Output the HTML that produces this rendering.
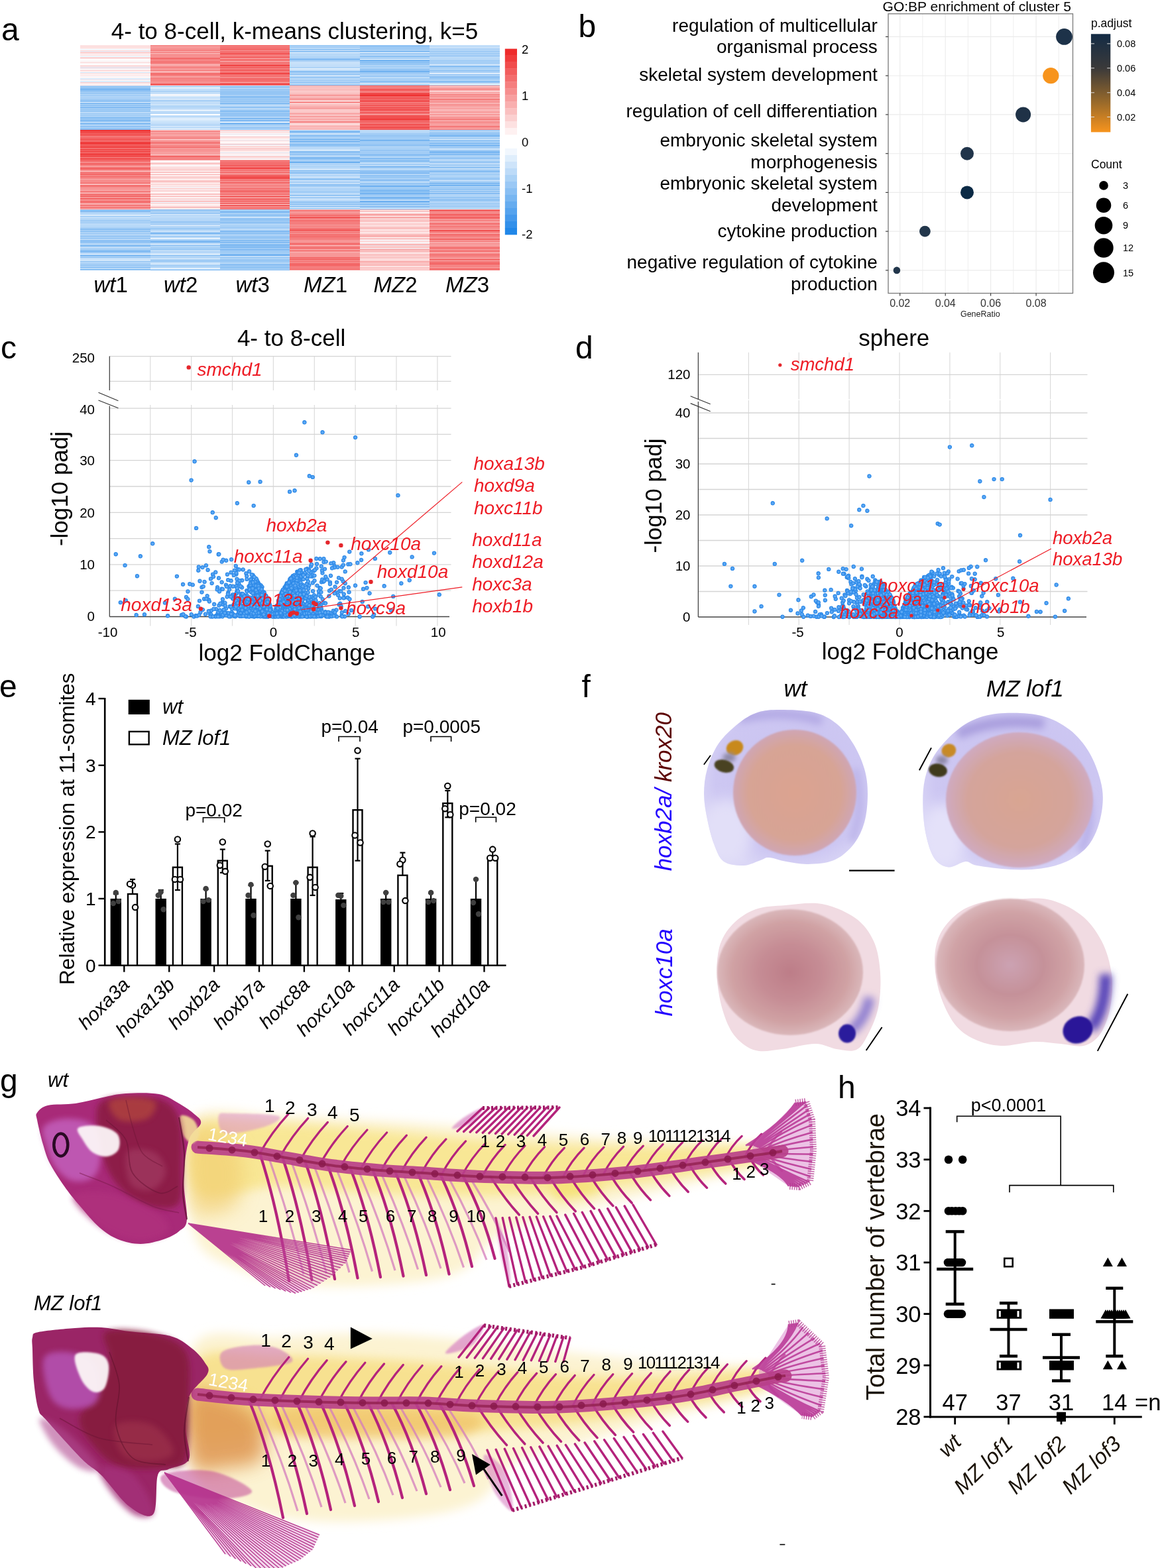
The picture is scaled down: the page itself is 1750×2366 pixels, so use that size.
<!DOCTYPE html>
<html><head><meta charset="utf-8"><title>Figure</title>
<style>html,body{margin:0;padding:0;background:#fff;} svg{display:block} text{font-family:'Liberation Sans',Arial,sans-serif} .hm rect{width:105.73px;height:1.3px}</style></head>
<body><svg width="1750" height="2366" viewBox="0 0 1750 2366">
<rect width="1750" height="2366" fill="#fff"/>
<text x="2.0" y="60.5" style="font-size:48px">a</text>
<text x="872.5" y="56.0" style="font-size:48px">b</text>
<text x="1.0" y="540.5" style="font-size:48px">c</text>
<text x="868.0" y="541.0" style="font-size:48px">d</text>
<text x="-1.0" y="1052.0" style="font-size:48px">e</text>
<text x="877.5" y="1052.0" style="font-size:48px">f</text>
<text x="0.0" y="1647.0" style="font-size:48px">g</text>
<text x="1264.0" y="1657.0" style="font-size:48px">h</text>
<g shape-rendering="crispEdges">
<g class="hm" transform="translate(121.20 0)"><rect y="67.5" fill="#fdebeb"/><rect y="68.5" fill="#fcd6d6"/><rect y="69.5" fill="#fde2e2"/><rect y="70.5" fill="#fde9e9"/><rect y="71.5" fill="#fbd1d1"/><rect y="72.5" fill="#fffcfc"/><rect y="73.5" fill="#ebf4fd"/><rect y="74.5" fill="#fef3f3"/><rect y="75.5" fill="#fcd9d9"/><rect y="76.5" fill="#e1effc"/><rect y="77.5" fill="#fcd4d4"/><rect y="78.5" fill="#fbcece"/><rect y="79.5" fill="#fde1e1"/><rect y="80.5" fill="#fde9e9"/><rect y="81.5" fill="#fef1f1"/><rect y="82.5" fill="#fde1e1"/><rect y="83.5" fill="#f4f9fe"/><rect y="84.5" fill="#e6f1fc"/><rect y="85.5" fill="#fde5e5"/><rect y="86.5" fill="#fabdbd"/><rect y="87.5" fill="#feefef"/><rect y="88.5" fill="#fffbfb"/><rect y="89.5" fill="#fffefe"/><rect y="90.5" fill="#f9fcfe"/><rect y="91.5" fill="#fdeaea"/><rect y="92.5" fill="#fafdff"/><rect y="93.5" fill="#fbd1d1"/><rect y="94.5" fill="#fef5f5"/><rect y="95.5" fill="#fbfdff"/><rect y="96.5" fill="#fefeff"/><rect y="97.5" fill="#fdecec"/><rect y="98.5" fill="#fbcccc"/><rect y="99.5" fill="#fde6e6"/><rect y="100.5" fill="#d7e9fb"/><rect y="101.5" fill="#fcd4d4"/><rect y="102.5" fill="#e8f2fd"/><rect y="103.5" fill="#fef7f7"/><rect y="104.5" fill="#fdecec"/><rect y="105.5" fill="#fcd5d5"/><rect y="106.5" fill="#fde7e7"/><rect y="107.5" fill="#fffbfb"/><rect y="108.5" fill="#cfe5fa"/><rect y="109.5" fill="#fde4e4"/><rect y="110.5" fill="#fdeaea"/><rect y="111.5" fill="#fef0f0"/><rect y="112.5" fill="#feeeee"/><rect y="113.5" fill="#fde6e6"/><rect y="114.5" fill="#f7fafe"/><rect y="115.5" fill="#fef5f5"/><rect y="116.5" fill="#fef6f6"/><rect y="117.5" fill="#d9eafb"/><rect y="118.5" fill="#d8eafb"/><rect y="119.5" fill="#fde5e5"/><rect y="120.5" fill="#f0f7fd"/><rect y="121.5" fill="#e9f3fd"/><rect y="122.5" fill="#cee5fa"/><rect y="123.5" fill="#fcdcdc"/><rect y="124.5" fill="#fbcfcf"/><rect y="125.5" fill="#fdfeff"/><rect y="126.5" fill="#feeeee"/><rect y="127.5" fill="#fde4e4"/><rect y="128.5" fill="#bcdbf8"/><rect y="129.5" fill="#a7d0f6"/><rect y="130.5" fill="#6eb0f0"/><rect y="131.5" fill="#bfdcf8"/><rect y="132.5" fill="#77b5f1"/><rect y="133.5" fill="#6fb1f0"/><rect y="134.5" fill="#89bff3"/><rect y="135.5" fill="#79b6f1"/><rect y="136.5" fill="#a1ccf5"/><rect y="137.5" fill="#8dc1f3"/><rect y="138.5" fill="#a1ccf5"/><rect y="139.5" fill="#abd1f6"/><rect y="140.5" fill="#8cc1f3"/><rect y="141.5" fill="#acd2f6"/><rect y="142.5" fill="#c1def9"/><rect y="143.5" fill="#86bdf3"/><rect y="144.5" fill="#b7d8f8"/><rect y="145.5" fill="#bbdaf8"/><rect y="146.5" fill="#a1ccf5"/><rect y="147.5" fill="#a5cef6"/><rect y="148.5" fill="#b9d9f8"/><rect y="149.5" fill="#8ec2f3"/><rect y="150.5" fill="#93c4f4"/><rect y="151.5" fill="#9ac8f5"/><rect y="152.5" fill="#8dc1f3"/><rect y="153.5" fill="#d5e8fb"/><rect y="154.5" fill="#a0cbf5"/><rect y="155.5" fill="#6aaef0"/><rect y="156.5" fill="#b5d7f7"/><rect y="157.5" fill="#93c4f4"/><rect y="158.5" fill="#96c6f4"/><rect y="159.5" fill="#99c8f5"/><rect y="160.5" fill="#a3cdf6"/><rect y="161.5" fill="#6aaef0"/><rect y="162.5" fill="#abd1f6"/><rect y="163.5" fill="#a4cef6"/><rect y="164.5" fill="#90c3f4"/><rect y="165.5" fill="#add3f7"/><rect y="166.5" fill="#89bff3"/><rect y="167.5" fill="#a8d0f6"/><rect y="168.5" fill="#aed3f7"/><rect y="169.5" fill="#cbe3fa"/><rect y="170.5" fill="#8cc1f3"/><rect y="171.5" fill="#afd4f7"/><rect y="172.5" fill="#acd2f6"/><rect y="173.5" fill="#a1ccf5"/><rect y="174.5" fill="#a8d0f6"/><rect y="175.5" fill="#b1d5f7"/><rect y="176.5" fill="#71b2f1"/><rect y="177.5" fill="#9ac8f5"/><rect y="178.5" fill="#92c4f4"/><rect y="179.5" fill="#99c8f5"/><rect y="180.5" fill="#83bcf2"/><rect y="181.5" fill="#7bb7f1"/><rect y="182.5" fill="#a7cff6"/><rect y="183.5" fill="#b1d5f7"/><rect y="184.5" fill="#b7d8f8"/><rect y="185.5" fill="#72b2f1"/><rect y="186.5" fill="#7ab7f1"/><rect y="187.5" fill="#d4e8fb"/><rect y="188.5" fill="#a6cff6"/><rect y="189.5" fill="#7cb8f2"/><rect y="190.5" fill="#acd2f7"/><rect y="191.5" fill="#9cc9f5"/><rect y="192.5" fill="#a0cbf5"/><rect y="193.5" fill="#88bef3"/><rect y="194.5" fill="#83bcf2"/><rect y="195.5" fill="#9bc9f5"/><rect y="196.2" fill="#ee2828"/><rect y="197.2" fill="#f04040"/><rect y="198.2" fill="#f03e3e"/><rect y="199.2" fill="#f15454"/><rect y="200.2" fill="#f03f3f"/><rect y="201.2" fill="#f36161"/><rect y="202.2" fill="#f26161"/><rect y="203.2" fill="#f04444"/><rect y="204.2" fill="#f25c5c"/><rect y="205.2" fill="#f57c7c"/><rect y="206.2" fill="#f36d6d"/><rect y="207.2" fill="#f58585"/><rect y="208.2" fill="#f03e3e"/><rect y="209.2" fill="#f68989"/><rect y="210.2" fill="#ef2f2f"/><rect y="211.2" fill="#f57b7b"/><rect y="212.2" fill="#f25858"/><rect y="213.2" fill="#f57b7b"/><rect y="214.2" fill="#f03e3e"/><rect y="215.2" fill="#f03f3f"/><rect y="216.2" fill="#ef3030"/><rect y="217.2" fill="#f14f4f"/><rect y="218.2" fill="#f25a5a"/><rect y="219.2" fill="#f25d5d"/><rect y="220.2" fill="#f25454"/><rect y="221.2" fill="#f04646"/><rect y="222.2" fill="#f04343"/><rect y="223.2" fill="#f36c6c"/><rect y="224.2" fill="#f47272"/><rect y="225.2" fill="#f04747"/><rect y="226.2" fill="#f15050"/><rect y="227.2" fill="#f36868"/><rect y="228.2" fill="#f04444"/><rect y="229.2" fill="#f15252"/><rect y="230.2" fill="#f47a7a"/><rect y="231.2" fill="#f03e3e"/><rect y="232.2" fill="#f25656"/><rect y="233.2" fill="#ee2828"/><rect y="234.2" fill="#f36868"/><rect y="235.2" fill="#ef3939"/><rect y="236.2" fill="#f15353"/><rect y="237.2" fill="#f68989"/><rect y="238.2" fill="#f14b4b"/><rect y="239.2" fill="#f25757"/><rect y="240.2" fill="#f25d5d"/><rect y="241.2" fill="#f15252"/><rect y="241.5" fill="#f47373"/><rect y="242.5" fill="#f47171"/><rect y="243.5" fill="#f57b7b"/><rect y="244.5" fill="#f79898"/><rect y="245.5" fill="#f36868"/><rect y="246.5" fill="#f25b5b"/><rect y="247.5" fill="#f47474"/><rect y="248.5" fill="#f68787"/><rect y="249.5" fill="#f68787"/><rect y="250.5" fill="#f9b0b0"/><rect y="251.5" fill="#f36c6c"/><rect y="252.5" fill="#f47474"/><rect y="253.5" fill="#f25656"/><rect y="254.5" fill="#f47171"/><rect y="255.5" fill="#f58383"/><rect y="256.5" fill="#f8a1a1"/><rect y="257.5" fill="#f9aeae"/><rect y="258.5" fill="#f8a5a5"/><rect y="259.5" fill="#f25e5e"/><rect y="260.5" fill="#f58484"/><rect y="261.5" fill="#f46e6e"/><rect y="262.5" fill="#f25454"/><rect y="263.5" fill="#f8aaaa"/><rect y="264.5" fill="#f25c5c"/><rect y="265.5" fill="#f58484"/><rect y="266.5" fill="#f57b7b"/><rect y="267.5" fill="#f47979"/><rect y="268.5" fill="#f68e8e"/><rect y="269.5" fill="#f8acac"/><rect y="270.5" fill="#f68c8c"/><rect y="271.5" fill="#f58686"/><rect y="272.5" fill="#f79d9d"/><rect y="273.5" fill="#f47474"/><rect y="274.5" fill="#f79898"/><rect y="275.5" fill="#f25b5b"/><rect y="276.5" fill="#fabcbc"/><rect y="277.5" fill="#f9b5b5"/><rect y="278.5" fill="#f68787"/><rect y="279.5" fill="#f25c5c"/><rect y="280.5" fill="#f57b7b"/><rect y="281.5" fill="#f79797"/><rect y="282.5" fill="#f58484"/><rect y="283.5" fill="#f8a1a1"/><rect y="284.5" fill="#f69090"/><rect y="285.5" fill="#f79c9c"/><rect y="286.5" fill="#f9b1b1"/><rect y="287.5" fill="#f47171"/><rect y="288.5" fill="#f58686"/><rect y="289.5" fill="#f79999"/><rect y="290.5" fill="#f9b3b3"/><rect y="291.5" fill="#f68f8f"/><rect y="292.5" fill="#f36969"/><rect y="293.5" fill="#f47373"/><rect y="294.5" fill="#f58383"/><rect y="295.5" fill="#f25656"/><rect y="296.5" fill="#f79797"/><rect y="297.5" fill="#f79d9d"/><rect y="298.5" fill="#f04747"/><rect y="299.5" fill="#f79696"/><rect y="300.5" fill="#f47878"/><rect y="301.5" fill="#f58686"/><rect y="302.5" fill="#f79595"/><rect y="303.5" fill="#f14848"/><rect y="304.5" fill="#f47878"/><rect y="305.5" fill="#f79f9f"/><rect y="306.5" fill="#f8a6a6"/><rect y="307.5" fill="#f8a3a3"/><rect y="308.5" fill="#f58282"/><rect y="309.5" fill="#f36767"/><rect y="310.5" fill="#f9b4b4"/><rect y="311.5" fill="#f36c6c"/><rect y="312.5" fill="#f57b7b"/><rect y="313.5" fill="#f79d9d"/><rect y="314.5" fill="#f68e8e"/><rect y="315.5" fill="#f47171"/><rect y="315.8" fill="#b1d5f7"/><rect y="316.8" fill="#92c4f4"/><rect y="317.8" fill="#64abef"/><rect y="318.8" fill="#a1ccf5"/><rect y="319.8" fill="#a5cef6"/><rect y="320.8" fill="#add3f7"/><rect y="321.8" fill="#c0ddf9"/><rect y="322.8" fill="#afd3f7"/><rect y="323.8" fill="#e7f2fd"/><rect y="324.8" fill="#cee4fa"/><rect y="325.8" fill="#9ac8f5"/><rect y="326.8" fill="#bcdbf8"/><rect y="327.8" fill="#cae2fa"/><rect y="328.8" fill="#abd1f6"/><rect y="329.8" fill="#c7e1f9"/><rect y="330.8" fill="#a3cdf6"/><rect y="331.8" fill="#abd1f6"/><rect y="332.8" fill="#98c7f4"/><rect y="333.8" fill="#b3d6f7"/><rect y="334.8" fill="#a8d0f6"/><rect y="335.8" fill="#a0cbf5"/><rect y="336.8" fill="#c1ddf9"/><rect y="337.8" fill="#aed3f7"/><rect y="338.8" fill="#cbe3fa"/><rect y="339.8" fill="#b4d7f7"/><rect y="340.8" fill="#a3cdf6"/><rect y="341.8" fill="#d6e9fb"/><rect y="342.8" fill="#90c3f4"/><rect y="343.8" fill="#b3d6f7"/><rect y="344.8" fill="#84bcf2"/><rect y="345.8" fill="#84bcf2"/><rect y="346.8" fill="#c0ddf9"/><rect y="347.8" fill="#7fbaf2"/><rect y="348.8" fill="#a1ccf5"/><rect y="349.8" fill="#a6cff6"/><rect y="350.8" fill="#b4d6f7"/><rect y="351.8" fill="#92c4f4"/><rect y="352.8" fill="#bbdaf8"/><rect y="353.8" fill="#b0d4f7"/><rect y="354.8" fill="#a7cff6"/><rect y="355.8" fill="#96c6f4"/><rect y="356.8" fill="#98c7f4"/><rect y="357.8" fill="#b2d5f7"/><rect y="358.8" fill="#94c5f4"/><rect y="359.8" fill="#a0cbf5"/><rect y="360.8" fill="#d6e9fb"/><rect y="361.8" fill="#75b4f1"/><rect y="362.8" fill="#a2cdf6"/><rect y="363.8" fill="#8ac0f3"/><rect y="364.8" fill="#7bb8f2"/><rect y="365.8" fill="#b0d4f7"/><rect y="366.8" fill="#b1d5f7"/><rect y="367.8" fill="#a9d0f6"/><rect y="368.8" fill="#bedcf8"/><rect y="369.8" fill="#65abef"/><rect y="370.8" fill="#93c5f4"/><rect y="371.8" fill="#add3f7"/><rect y="372.8" fill="#c7e0f9"/><rect y="373.8" fill="#bcdbf8"/><rect y="374.8" fill="#98c7f4"/><rect y="375.8" fill="#bbdaf8"/><rect y="376.8" fill="#81bbf2"/><rect y="377.8" fill="#97c7f4"/><rect y="378.8" fill="#69aef0"/><rect y="379.8" fill="#9ecaf5"/><rect y="380.8" fill="#9dcaf5"/><rect y="381.8" fill="#bfdcf8"/><rect y="382.8" fill="#deedfc"/><rect y="383.8" fill="#b0d4f7"/><rect y="384.8" fill="#6caff0"/><rect y="385.8" fill="#96c6f4"/><rect y="386.8" fill="#a7cff6"/><rect y="387.8" fill="#97c6f4"/><rect y="388.8" fill="#b8d9f8"/><rect y="389.8" fill="#d5e8fb"/><rect y="390.8" fill="#b7d8f8"/><rect y="391.8" fill="#ecf5fd"/><rect y="392.8" fill="#b9d9f8"/><rect y="393.8" fill="#a5cef6"/><rect y="394.8" fill="#a3cdf6"/><rect y="395.8" fill="#c1def9"/><rect y="396.8" fill="#a7cff6"/><rect y="397.8" fill="#a5cef6"/><rect y="398.8" fill="#a1ccf5"/><rect y="399.8" fill="#9dcaf5"/><rect y="400.8" fill="#9bc9f5"/><rect y="401.8" fill="#b9d9f8"/><rect y="402.8" fill="#7cb8f2"/><rect y="403.8" fill="#afd4f7"/><rect y="404.8" fill="#c6e0f9"/><rect y="405.8" fill="#7ab7f1"/><rect y="406.8" fill="#9dcaf5"/></g>
<g class="hm" transform="translate(226.53 0)"><rect y="67.5" fill="#f69191"/><rect y="68.5" fill="#f57d7d"/><rect y="69.5" fill="#f8aaaa"/><rect y="70.5" fill="#f79999"/><rect y="71.5" fill="#f69090"/><rect y="72.5" fill="#f79c9c"/><rect y="73.5" fill="#f58282"/><rect y="74.5" fill="#f79595"/><rect y="75.5" fill="#f47373"/><rect y="76.5" fill="#f8a6a6"/><rect y="77.5" fill="#f8a3a3"/><rect y="78.5" fill="#f47878"/><rect y="79.5" fill="#f8a7a7"/><rect y="80.5" fill="#fabcbc"/><rect y="81.5" fill="#f47a7a"/><rect y="82.5" fill="#f68d8d"/><rect y="83.5" fill="#f79e9e"/><rect y="84.5" fill="#f68a8a"/><rect y="85.5" fill="#f68b8b"/><rect y="86.5" fill="#f47a7a"/><rect y="87.5" fill="#f36262"/><rect y="88.5" fill="#f47676"/><rect y="89.5" fill="#f79595"/><rect y="90.5" fill="#f58181"/><rect y="91.5" fill="#f47373"/><rect y="92.5" fill="#f58080"/><rect y="93.5" fill="#f47171"/><rect y="94.5" fill="#f57c7c"/><rect y="95.5" fill="#f79999"/><rect y="96.5" fill="#f9b0b0"/><rect y="97.5" fill="#f8abab"/><rect y="98.5" fill="#f79c9c"/><rect y="99.5" fill="#f69090"/><rect y="100.5" fill="#f57a7a"/><rect y="101.5" fill="#f68989"/><rect y="102.5" fill="#f79797"/><rect y="103.5" fill="#f79999"/><rect y="104.5" fill="#f79a9a"/><rect y="105.5" fill="#f57c7c"/><rect y="106.5" fill="#f79e9e"/><rect y="107.5" fill="#fbd0d0"/><rect y="108.5" fill="#f8a1a1"/><rect y="109.5" fill="#f26161"/><rect y="110.5" fill="#f58383"/><rect y="111.5" fill="#f36868"/><rect y="112.5" fill="#f47676"/><rect y="113.5" fill="#f69191"/><rect y="114.5" fill="#f79f9f"/><rect y="115.5" fill="#f79a9a"/><rect y="116.5" fill="#f68d8d"/><rect y="117.5" fill="#f47070"/><rect y="118.5" fill="#f79797"/><rect y="119.5" fill="#f47474"/><rect y="120.5" fill="#f69393"/><rect y="121.5" fill="#f58181"/><rect y="122.5" fill="#f79494"/><rect y="123.5" fill="#f79f9f"/><rect y="124.5" fill="#f47676"/><rect y="125.5" fill="#f57f7f"/><rect y="126.5" fill="#f04141"/><rect y="127.5" fill="#f47676"/><rect y="128.5" fill="#d7e9fb"/><rect y="129.5" fill="#aad1f6"/><rect y="130.5" fill="#badaf8"/><rect y="131.5" fill="#fbfdff"/><rect y="132.5" fill="#d3e7fa"/><rect y="133.5" fill="#c0ddf9"/><rect y="134.5" fill="#cbe3fa"/><rect y="135.5" fill="#afd4f7"/><rect y="136.5" fill="#c6e0f9"/><rect y="137.5" fill="#95c5f4"/><rect y="138.5" fill="#d2e7fa"/><rect y="139.5" fill="#bfdcf8"/><rect y="140.5" fill="#c8e1f9"/><rect y="141.5" fill="#f2f8fe"/><rect y="142.5" fill="#fef8f8"/><rect y="143.5" fill="#ebf4fd"/><rect y="144.5" fill="#c8e1f9"/><rect y="145.5" fill="#e6f2fc"/><rect y="146.5" fill="#b2d5f7"/><rect y="147.5" fill="#bddbf8"/><rect y="148.5" fill="#fafcfe"/><rect y="149.5" fill="#b4d7f7"/><rect y="150.5" fill="#a8d0f6"/><rect y="151.5" fill="#b7d8f8"/><rect y="152.5" fill="#b4d7f7"/><rect y="153.5" fill="#bedcf8"/><rect y="154.5" fill="#d4e8fb"/><rect y="155.5" fill="#aed3f7"/><rect y="156.5" fill="#d7eafb"/><rect y="157.5" fill="#cbe3fa"/><rect y="158.5" fill="#bcdbf8"/><rect y="159.5" fill="#9bc9f5"/><rect y="160.5" fill="#cfe5fa"/><rect y="161.5" fill="#9bc9f5"/><rect y="162.5" fill="#d5e8fb"/><rect y="163.5" fill="#abd1f6"/><rect y="164.5" fill="#e0eefc"/><rect y="165.5" fill="#eef6fd"/><rect y="166.5" fill="#d1e6fa"/><rect y="167.5" fill="#b9d9f8"/><rect y="168.5" fill="#c3def9"/><rect y="169.5" fill="#aed3f7"/><rect y="170.5" fill="#bfdcf8"/><rect y="171.5" fill="#fdfeff"/><rect y="172.5" fill="#f8fbfe"/><rect y="173.5" fill="#c0ddf9"/><rect y="174.5" fill="#c2def9"/><rect y="175.5" fill="#afd4f7"/><rect y="176.5" fill="#ddedfc"/><rect y="177.5" fill="#d0e5fa"/><rect y="178.5" fill="#eaf3fd"/><rect y="179.5" fill="#ddedfc"/><rect y="180.5" fill="#cbe3fa"/><rect y="181.5" fill="#e1effc"/><rect y="182.5" fill="#c9e2f9"/><rect y="183.5" fill="#b8d9f8"/><rect y="184.5" fill="#deedfc"/><rect y="185.5" fill="#b8d8f8"/><rect y="186.5" fill="#b4d6f7"/><rect y="187.5" fill="#c4dff9"/><rect y="188.5" fill="#a5cef6"/><rect y="189.5" fill="#ebf4fd"/><rect y="190.5" fill="#badaf8"/><rect y="191.5" fill="#b1d5f7"/><rect y="192.5" fill="#f0f7fd"/><rect y="193.5" fill="#bddbf8"/><rect y="194.5" fill="#ddecfc"/><rect y="195.5" fill="#a8d0f6"/><rect y="196.2" fill="#fac0c0"/><rect y="197.2" fill="#f79999"/><rect y="198.2" fill="#f68989"/><rect y="199.2" fill="#f68d8d"/><rect y="200.2" fill="#fabfbf"/><rect y="201.2" fill="#f57d7d"/><rect y="202.2" fill="#f8a5a5"/><rect y="203.2" fill="#f8a3a3"/><rect y="204.2" fill="#f8a2a2"/><rect y="205.2" fill="#f8a9a9"/><rect y="206.2" fill="#f57d7d"/><rect y="207.2" fill="#f79b9b"/><rect y="208.2" fill="#f47676"/><rect y="209.2" fill="#f79898"/><rect y="210.2" fill="#fbcece"/><rect y="211.2" fill="#f8a2a2"/><rect y="212.2" fill="#f79797"/><rect y="213.2" fill="#f8a6a6"/><rect y="214.2" fill="#f25d5d"/><rect y="215.2" fill="#f69191"/><rect y="216.2" fill="#f36e6e"/><rect y="217.2" fill="#f79797"/><rect y="218.2" fill="#f8a3a3"/><rect y="219.2" fill="#f58181"/><rect y="220.2" fill="#f58484"/><rect y="221.2" fill="#f58080"/><rect y="222.2" fill="#f46f6f"/><rect y="223.2" fill="#f68e8e"/><rect y="224.2" fill="#f8a7a7"/><rect y="225.2" fill="#f68d8d"/><rect y="226.2" fill="#f69292"/><rect y="227.2" fill="#f69292"/><rect y="228.2" fill="#f8a0a0"/><rect y="229.2" fill="#f68c8c"/><rect y="230.2" fill="#f9b8b8"/><rect y="231.2" fill="#f58080"/><rect y="232.2" fill="#fabebe"/><rect y="233.2" fill="#f8a5a5"/><rect y="234.2" fill="#f9b6b6"/><rect y="235.2" fill="#f25c5c"/><rect y="236.2" fill="#f47171"/><rect y="237.2" fill="#f47878"/><rect y="238.2" fill="#f79494"/><rect y="239.2" fill="#f47373"/><rect y="240.2" fill="#f69090"/><rect y="241.2" fill="#f68c8c"/><rect y="241.5" fill="#fffdfd"/><rect y="242.5" fill="#fffafa"/><rect y="243.5" fill="#fde6e6"/><rect y="244.5" fill="#fdebeb"/><rect y="245.5" fill="#f9b0b0"/><rect y="246.5" fill="#fcd8d8"/><rect y="247.5" fill="#fcdede"/><rect y="248.5" fill="#fef6f6"/><rect y="249.5" fill="#f9fcfe"/><rect y="250.5" fill="#fcdede"/><rect y="251.5" fill="#fde0e0"/><rect y="252.5" fill="#fcdada"/><rect y="253.5" fill="#fcdddd"/><rect y="254.5" fill="#fbcbcb"/><rect y="255.5" fill="#fcd5d5"/><rect y="256.5" fill="#fcd4d4"/><rect y="257.5" fill="#fef8f8"/><rect y="258.5" fill="#fbc6c6"/><rect y="259.5" fill="#fac0c0"/><rect y="260.5" fill="#fffdfd"/><rect y="261.5" fill="#fde5e5"/><rect y="262.5" fill="#f9b8b8"/><rect y="263.5" fill="#fde7e7"/><rect y="264.5" fill="#fff9f9"/><rect y="265.5" fill="#fac4c4"/><rect y="266.5" fill="#fcdfdf"/><rect y="267.5" fill="#fabebe"/><rect y="268.5" fill="#fde6e6"/><rect y="269.5" fill="#fef0f0"/><rect y="270.5" fill="#fde6e6"/><rect y="271.5" fill="#fbcdcd"/><rect y="272.5" fill="#fabcbc"/><rect y="273.5" fill="#fbc9c9"/><rect y="274.5" fill="#fcdada"/><rect y="275.5" fill="#fef0f0"/><rect y="276.5" fill="#fde1e1"/><rect y="277.5" fill="#fbd0d0"/><rect y="278.5" fill="#fef0f0"/><rect y="279.5" fill="#fde3e3"/><rect y="280.5" fill="#fcdfdf"/><rect y="281.5" fill="#f0f7fd"/><rect y="282.5" fill="#fde3e3"/><rect y="283.5" fill="#fcdada"/><rect y="284.5" fill="#fbcece"/><rect y="285.5" fill="#fbfdff"/><rect y="286.5" fill="#fbc9c9"/><rect y="287.5" fill="#fcdbdb"/><rect y="288.5" fill="#fde8e8"/><rect y="289.5" fill="#fffefe"/><rect y="290.5" fill="#fde7e7"/><rect y="291.5" fill="#fbcbcb"/><rect y="292.5" fill="#fac3c3"/><rect y="293.5" fill="#fde4e4"/><rect y="294.5" fill="#feeeee"/><rect y="295.5" fill="#f9b4b4"/><rect y="296.5" fill="#fde2e2"/><rect y="297.5" fill="#fdfeff"/><rect y="298.5" fill="#fde0e0"/><rect y="299.5" fill="#fac0c0"/><rect y="300.5" fill="#f2f8fe"/><rect y="301.5" fill="#fde3e3"/><rect y="302.5" fill="#f9adad"/><rect y="303.5" fill="#fcd6d6"/><rect y="304.5" fill="#e8f2fd"/><rect y="305.5" fill="#fbd0d0"/><rect y="306.5" fill="#fde6e6"/><rect y="307.5" fill="#fef1f1"/><rect y="308.5" fill="#fef2f2"/><rect y="309.5" fill="#fde3e3"/><rect y="310.5" fill="#fde1e1"/><rect y="311.5" fill="#f9b6b6"/><rect y="312.5" fill="#fac6c6"/><rect y="313.5" fill="#fef3f3"/><rect y="314.5" fill="#fde6e6"/><rect y="315.5" fill="#dfeefc"/><rect y="315.8" fill="#88bef3"/><rect y="316.8" fill="#a2cdf5"/><rect y="317.8" fill="#92c4f4"/><rect y="318.8" fill="#b1d5f7"/><rect y="319.8" fill="#bedcf8"/><rect y="320.8" fill="#7bb7f2"/><rect y="321.8" fill="#bcdbf8"/><rect y="322.8" fill="#b7d8f8"/><rect y="323.8" fill="#dcecfb"/><rect y="324.8" fill="#a8d0f6"/><rect y="325.8" fill="#afd4f7"/><rect y="326.8" fill="#e2effc"/><rect y="327.8" fill="#a5cef6"/><rect y="328.8" fill="#aed3f7"/><rect y="329.8" fill="#d0e6fa"/><rect y="330.8" fill="#9cc9f5"/><rect y="331.8" fill="#c3def9"/><rect y="332.8" fill="#a8d0f6"/><rect y="333.8" fill="#a2ccf5"/><rect y="334.8" fill="#87bef3"/><rect y="335.8" fill="#bbdaf8"/><rect y="336.8" fill="#a4cef6"/><rect y="337.8" fill="#97c6f4"/><rect y="338.8" fill="#d3e7fb"/><rect y="339.8" fill="#d1e6fa"/><rect y="340.8" fill="#b0d4f7"/><rect y="341.8" fill="#bedcf8"/><rect y="342.8" fill="#a7cff6"/><rect y="343.8" fill="#9dcaf5"/><rect y="344.8" fill="#9ccaf5"/><rect y="345.8" fill="#aed3f7"/><rect y="346.8" fill="#b0d4f7"/><rect y="347.8" fill="#d0e6fa"/><rect y="348.8" fill="#c5dff9"/><rect y="349.8" fill="#b2d5f7"/><rect y="350.8" fill="#7cb8f2"/><rect y="351.8" fill="#78b6f1"/><rect y="352.8" fill="#abd1f6"/><rect y="353.8" fill="#bfddf9"/><rect y="354.8" fill="#d0e6fa"/><rect y="355.8" fill="#9dcaf5"/><rect y="356.8" fill="#a5cef6"/><rect y="357.8" fill="#bddbf8"/><rect y="358.8" fill="#f5fafe"/><rect y="359.8" fill="#d4e8fb"/><rect y="360.8" fill="#afd4f7"/><rect y="361.8" fill="#acd2f7"/><rect y="362.8" fill="#7eb9f2"/><rect y="363.8" fill="#75b4f1"/><rect y="364.8" fill="#89bff3"/><rect y="365.8" fill="#95c6f4"/><rect y="366.8" fill="#c6e0f9"/><rect y="367.8" fill="#d8eafb"/><rect y="368.8" fill="#c1ddf9"/><rect y="369.8" fill="#67acef"/><rect y="370.8" fill="#f2f8fe"/><rect y="371.8" fill="#77b6f1"/><rect y="372.8" fill="#b9d9f8"/><rect y="373.8" fill="#c0ddf9"/><rect y="374.8" fill="#7db9f2"/><rect y="375.8" fill="#9fcbf5"/><rect y="376.8" fill="#c7e1f9"/><rect y="377.8" fill="#b5d7f7"/><rect y="378.8" fill="#b6d7f8"/><rect y="379.8" fill="#c0ddf9"/><rect y="380.8" fill="#a5cef6"/><rect y="381.8" fill="#e4f0fc"/><rect y="382.8" fill="#c9e2f9"/><rect y="383.8" fill="#dfeefc"/><rect y="384.8" fill="#83bcf2"/><rect y="385.8" fill="#9fcbf5"/><rect y="386.8" fill="#c8e1f9"/><rect y="387.8" fill="#9fcbf5"/><rect y="388.8" fill="#cee4fa"/><rect y="389.8" fill="#cfe5fa"/><rect y="390.8" fill="#aed3f7"/><rect y="391.8" fill="#aad1f6"/><rect y="392.8" fill="#96c6f4"/><rect y="393.8" fill="#99c8f5"/><rect y="394.8" fill="#b7d8f8"/><rect y="395.8" fill="#c3dff9"/><rect y="396.8" fill="#c8e1f9"/><rect y="397.8" fill="#ebf4fd"/><rect y="398.8" fill="#a3cdf6"/><rect y="399.8" fill="#afd4f7"/><rect y="400.8" fill="#a0cbf5"/><rect y="401.8" fill="#b4d6f7"/><rect y="402.8" fill="#b8d8f8"/><rect y="403.8" fill="#c7e1f9"/><rect y="404.8" fill="#f8fbfe"/><rect y="405.8" fill="#b1d4f7"/><rect y="406.8" fill="#7cb8f2"/></g>
<g class="hm" transform="translate(331.87 0)"><rect y="67.5" fill="#f47979"/><rect y="68.5" fill="#f25f5f"/><rect y="69.5" fill="#f69191"/><rect y="70.5" fill="#f36767"/><rect y="71.5" fill="#f47878"/><rect y="72.5" fill="#f47777"/><rect y="73.5" fill="#f14949"/><rect y="74.5" fill="#f79b9b"/><rect y="75.5" fill="#f47a7a"/><rect y="76.5" fill="#f26060"/><rect y="77.5" fill="#f79797"/><rect y="78.5" fill="#f25b5b"/><rect y="79.5" fill="#f14949"/><rect y="80.5" fill="#f57a7a"/><rect y="81.5" fill="#f25757"/><rect y="82.5" fill="#f68888"/><rect y="83.5" fill="#f58787"/><rect y="84.5" fill="#f36464"/><rect y="85.5" fill="#f36565"/><rect y="86.5" fill="#f47171"/><rect y="87.5" fill="#f9afaf"/><rect y="88.5" fill="#f36464"/><rect y="89.5" fill="#f47777"/><rect y="90.5" fill="#f36969"/><rect y="91.5" fill="#f9b2b2"/><rect y="92.5" fill="#f58585"/><rect y="93.5" fill="#f47676"/><rect y="94.5" fill="#f36c6c"/><rect y="95.5" fill="#f68989"/><rect y="96.5" fill="#f36868"/><rect y="97.5" fill="#f04040"/><rect y="98.5" fill="#f14e4e"/><rect y="99.5" fill="#f47575"/><rect y="100.5" fill="#f36b6b"/><rect y="101.5" fill="#f15454"/><rect y="102.5" fill="#f69191"/><rect y="103.5" fill="#f36b6b"/><rect y="104.5" fill="#f46e6e"/><rect y="105.5" fill="#f14e4e"/><rect y="106.5" fill="#f68b8b"/><rect y="107.5" fill="#f47575"/><rect y="108.5" fill="#f36b6b"/><rect y="109.5" fill="#f25656"/><rect y="110.5" fill="#ef2f2f"/><rect y="111.5" fill="#f57d7d"/><rect y="112.5" fill="#f47070"/><rect y="113.5" fill="#f47676"/><rect y="114.5" fill="#f36767"/><rect y="115.5" fill="#f79898"/><rect y="116.5" fill="#f58080"/><rect y="117.5" fill="#f36666"/><rect y="118.5" fill="#f36c6c"/><rect y="119.5" fill="#f36363"/><rect y="120.5" fill="#f57b7b"/><rect y="121.5" fill="#f25757"/><rect y="122.5" fill="#f69090"/><rect y="123.5" fill="#f79c9c"/><rect y="124.5" fill="#f36c6c"/><rect y="125.5" fill="#f14f4f"/><rect y="126.5" fill="#f04545"/><rect y="127.5" fill="#f47272"/><rect y="128.5" fill="#c3dff9"/><rect y="129.5" fill="#8cc1f3"/><rect y="130.5" fill="#92c4f4"/><rect y="131.5" fill="#a2ccf5"/><rect y="132.5" fill="#bbdaf8"/><rect y="133.5" fill="#9ccaf5"/><rect y="134.5" fill="#94c5f4"/><rect y="135.5" fill="#a5cef6"/><rect y="136.5" fill="#92c4f4"/><rect y="137.5" fill="#97c6f4"/><rect y="138.5" fill="#9ac8f5"/><rect y="139.5" fill="#87bef3"/><rect y="140.5" fill="#aad1f6"/><rect y="141.5" fill="#73b3f1"/><rect y="142.5" fill="#d1e6fa"/><rect y="143.5" fill="#8dc1f3"/><rect y="144.5" fill="#8bc0f3"/><rect y="145.5" fill="#95c5f4"/><rect y="146.5" fill="#84bcf2"/><rect y="147.5" fill="#9dcaf5"/><rect y="148.5" fill="#aed3f7"/><rect y="149.5" fill="#89bff3"/><rect y="150.5" fill="#9bc9f5"/><rect y="151.5" fill="#a9d0f6"/><rect y="152.5" fill="#86bdf3"/><rect y="153.5" fill="#a7cff6"/><rect y="154.5" fill="#9bc9f5"/><rect y="155.5" fill="#6caff0"/><rect y="156.5" fill="#b4d6f7"/><rect y="157.5" fill="#b7d8f8"/><rect y="158.5" fill="#bddbf8"/><rect y="159.5" fill="#c2def9"/><rect y="160.5" fill="#78b6f1"/><rect y="161.5" fill="#99c8f5"/><rect y="162.5" fill="#cae2fa"/><rect y="163.5" fill="#9ecaf5"/><rect y="164.5" fill="#c0ddf9"/><rect y="165.5" fill="#96c6f4"/><rect y="166.5" fill="#83bcf2"/><rect y="167.5" fill="#88bff3"/><rect y="168.5" fill="#a6cff6"/><rect y="169.5" fill="#96c6f4"/><rect y="170.5" fill="#92c4f4"/><rect y="171.5" fill="#8dc1f3"/><rect y="172.5" fill="#9ac8f5"/><rect y="173.5" fill="#98c7f4"/><rect y="174.5" fill="#80baf2"/><rect y="175.5" fill="#d5e8fb"/><rect y="176.5" fill="#9ecaf5"/><rect y="177.5" fill="#73b3f1"/><rect y="178.5" fill="#92c4f4"/><rect y="179.5" fill="#add3f7"/><rect y="180.5" fill="#7cb8f2"/><rect y="181.5" fill="#80baf2"/><rect y="182.5" fill="#b8d8f8"/><rect y="183.5" fill="#edf5fd"/><rect y="184.5" fill="#9ecaf5"/><rect y="185.5" fill="#60a9ef"/><rect y="186.5" fill="#94c5f4"/><rect y="187.5" fill="#a4cef6"/><rect y="188.5" fill="#aad1f6"/><rect y="189.5" fill="#b4d6f7"/><rect y="190.5" fill="#aed3f7"/><rect y="191.5" fill="#91c4f4"/><rect y="192.5" fill="#9cc9f5"/><rect y="193.5" fill="#aad1f6"/><rect y="194.5" fill="#9ac8f5"/><rect y="195.5" fill="#cfe5fa"/><rect y="196.2" fill="#fde9e9"/><rect y="197.2" fill="#fababa"/><rect y="198.2" fill="#f5fafe"/><rect y="199.2" fill="#fde5e5"/><rect y="200.2" fill="#fcdcdc"/><rect y="201.2" fill="#fef8f8"/><rect y="202.2" fill="#e7f2fd"/><rect y="203.2" fill="#fdeaea"/><rect y="204.2" fill="#f9fcfe"/><rect y="205.2" fill="#f9fbfe"/><rect y="206.2" fill="#fac0c0"/><rect y="207.2" fill="#fde4e4"/><rect y="208.2" fill="#fde6e6"/><rect y="209.2" fill="#feecec"/><rect y="210.2" fill="#fef1f1"/><rect y="211.2" fill="#ecf5fd"/><rect y="212.2" fill="#fcd6d6"/><rect y="213.2" fill="#fef5f5"/><rect y="214.2" fill="#fffdfd"/><rect y="215.2" fill="#feeeee"/><rect y="216.2" fill="#f7fbfe"/><rect y="217.2" fill="#fababa"/><rect y="218.2" fill="#e4f0fc"/><rect y="219.2" fill="#fde7e7"/><rect y="220.2" fill="#feefef"/><rect y="221.2" fill="#fac1c1"/><rect y="222.2" fill="#fef3f3"/><rect y="223.2" fill="#fbcfcf"/><rect y="224.2" fill="#fbcbcb"/><rect y="225.2" fill="#fbd1d1"/><rect y="226.2" fill="#fcdede"/><rect y="227.2" fill="#fcd4d4"/><rect y="228.2" fill="#fffefe"/><rect y="229.2" fill="#fde2e2"/><rect y="230.2" fill="#e4f0fc"/><rect y="231.2" fill="#feefef"/><rect y="232.2" fill="#fde1e1"/><rect y="233.2" fill="#fcfdff"/><rect y="234.2" fill="#f6fafe"/><rect y="235.2" fill="#fbcdcd"/><rect y="236.2" fill="#fbd0d0"/><rect y="237.2" fill="#fde4e4"/><rect y="238.2" fill="#fbd1d1"/><rect y="239.2" fill="#f3f9fe"/><rect y="240.2" fill="#fef1f1"/><rect y="241.2" fill="#fabbbb"/><rect y="241.5" fill="#f25f5f"/><rect y="242.5" fill="#f58383"/><rect y="243.5" fill="#f47575"/><rect y="244.5" fill="#f47171"/><rect y="245.5" fill="#f25d5d"/><rect y="246.5" fill="#f58787"/><rect y="247.5" fill="#f36868"/><rect y="248.5" fill="#f04545"/><rect y="249.5" fill="#f58484"/><rect y="250.5" fill="#f36868"/><rect y="251.5" fill="#f36262"/><rect y="252.5" fill="#f25a5a"/><rect y="253.5" fill="#f03b3b"/><rect y="254.5" fill="#f47676"/><rect y="255.5" fill="#f68f8f"/><rect y="256.5" fill="#f36464"/><rect y="257.5" fill="#f68a8a"/><rect y="258.5" fill="#f68d8d"/><rect y="259.5" fill="#f25b5b"/><rect y="260.5" fill="#f69191"/><rect y="261.5" fill="#f8a2a2"/><rect y="262.5" fill="#f47272"/><rect y="263.5" fill="#f36b6b"/><rect y="264.5" fill="#f25555"/><rect y="265.5" fill="#f25757"/><rect y="266.5" fill="#f15353"/><rect y="267.5" fill="#f04040"/><rect y="268.5" fill="#f04747"/><rect y="269.5" fill="#f79494"/><rect y="270.5" fill="#f26161"/><rect y="271.5" fill="#f57c7c"/><rect y="272.5" fill="#f68e8e"/><rect y="273.5" fill="#f58383"/><rect y="274.5" fill="#f47171"/><rect y="275.5" fill="#f25555"/><rect y="276.5" fill="#f8adad"/><rect y="277.5" fill="#f68989"/><rect y="278.5" fill="#f47575"/><rect y="279.5" fill="#f79797"/><rect y="280.5" fill="#f57f7f"/><rect y="281.5" fill="#f69090"/><rect y="282.5" fill="#f69191"/><rect y="283.5" fill="#f36262"/><rect y="284.5" fill="#f58484"/><rect y="285.5" fill="#f57f7f"/><rect y="286.5" fill="#f47979"/><rect y="287.5" fill="#f15353"/><rect y="288.5" fill="#f57b7b"/><rect y="289.5" fill="#f57a7a"/><rect y="290.5" fill="#f58282"/><rect y="291.5" fill="#f58282"/><rect y="292.5" fill="#f26161"/><rect y="293.5" fill="#f8a9a9"/><rect y="294.5" fill="#f58585"/><rect y="295.5" fill="#f14a4a"/><rect y="296.5" fill="#f58484"/><rect y="297.5" fill="#f8a6a6"/><rect y="298.5" fill="#f47878"/><rect y="299.5" fill="#f26060"/><rect y="300.5" fill="#f47171"/><rect y="301.5" fill="#f58484"/><rect y="302.5" fill="#f36565"/><rect y="303.5" fill="#f47474"/><rect y="304.5" fill="#f79f9f"/><rect y="305.5" fill="#f25f5f"/><rect y="306.5" fill="#f47272"/><rect y="307.5" fill="#f9b5b5"/><rect y="308.5" fill="#f58181"/><rect y="309.5" fill="#ef3939"/><rect y="310.5" fill="#f79e9e"/><rect y="311.5" fill="#f57f7f"/><rect y="312.5" fill="#f47171"/><rect y="313.5" fill="#f57f7f"/><rect y="314.5" fill="#f47171"/><rect y="315.5" fill="#f57b7b"/><rect y="315.8" fill="#91c3f4"/><rect y="316.8" fill="#cae2fa"/><rect y="317.8" fill="#74b3f1"/><rect y="318.8" fill="#95c6f4"/><rect y="319.8" fill="#7bb7f2"/><rect y="320.8" fill="#98c7f4"/><rect y="321.8" fill="#b5d7f7"/><rect y="322.8" fill="#a3cdf6"/><rect y="323.8" fill="#7eb9f2"/><rect y="324.8" fill="#9bc9f5"/><rect y="325.8" fill="#a2cdf5"/><rect y="326.8" fill="#bfdcf8"/><rect y="327.8" fill="#d7e9fb"/><rect y="328.8" fill="#95c5f4"/><rect y="329.8" fill="#83bcf2"/><rect y="330.8" fill="#a0ccf5"/><rect y="331.8" fill="#85bdf3"/><rect y="332.8" fill="#acd2f7"/><rect y="333.8" fill="#92c4f4"/><rect y="334.8" fill="#94c5f4"/><rect y="335.8" fill="#89bff3"/><rect y="336.8" fill="#acd2f7"/><rect y="337.8" fill="#b1d5f7"/><rect y="338.8" fill="#b8d9f8"/><rect y="339.8" fill="#a1ccf5"/><rect y="340.8" fill="#afd3f7"/><rect y="341.8" fill="#a1ccf5"/><rect y="342.8" fill="#9dcaf5"/><rect y="343.8" fill="#a7cff6"/><rect y="344.8" fill="#b6d8f8"/><rect y="345.8" fill="#bedcf8"/><rect y="346.8" fill="#b4d6f7"/><rect y="347.8" fill="#7db8f2"/><rect y="348.8" fill="#87bef3"/><rect y="349.8" fill="#92c4f4"/><rect y="350.8" fill="#9ccaf5"/><rect y="351.8" fill="#8bc0f3"/><rect y="352.8" fill="#91c3f4"/><rect y="353.8" fill="#cae2fa"/><rect y="354.8" fill="#9fcbf5"/><rect y="355.8" fill="#99c8f5"/><rect y="356.8" fill="#9cc9f5"/><rect y="357.8" fill="#93c5f4"/><rect y="358.8" fill="#8dc1f3"/><rect y="359.8" fill="#b2d5f7"/><rect y="360.8" fill="#b2d5f7"/><rect y="361.8" fill="#70b2f0"/><rect y="362.8" fill="#9bc9f5"/><rect y="363.8" fill="#a1ccf5"/><rect y="364.8" fill="#6aaef0"/><rect y="365.8" fill="#a0cbf5"/><rect y="366.8" fill="#b3d6f7"/><rect y="367.8" fill="#82bbf2"/><rect y="368.8" fill="#91c4f4"/><rect y="369.8" fill="#6db0f0"/><rect y="370.8" fill="#9fcbf5"/><rect y="371.8" fill="#7ab7f1"/><rect y="372.8" fill="#79b6f1"/><rect y="373.8" fill="#b7d8f8"/><rect y="374.8" fill="#85bdf3"/><rect y="375.8" fill="#8abff3"/><rect y="376.8" fill="#8fc2f4"/><rect y="377.8" fill="#9ac8f5"/><rect y="378.8" fill="#9bc9f5"/><rect y="379.8" fill="#a8d0f6"/><rect y="380.8" fill="#92c4f4"/><rect y="381.8" fill="#c3dff9"/><rect y="382.8" fill="#6db0f0"/><rect y="383.8" fill="#8ac0f3"/><rect y="384.8" fill="#58a4ee"/><rect y="385.8" fill="#cce3fa"/><rect y="386.8" fill="#bbdaf8"/><rect y="387.8" fill="#97c7f4"/><rect y="388.8" fill="#a7d0f6"/><rect y="389.8" fill="#b5d7f7"/><rect y="390.8" fill="#90c3f4"/><rect y="391.8" fill="#a7cff6"/><rect y="392.8" fill="#88bff3"/><rect y="393.8" fill="#a1ccf5"/><rect y="394.8" fill="#a4cef6"/><rect y="395.8" fill="#aad1f6"/><rect y="396.8" fill="#bfdcf8"/><rect y="397.8" fill="#91c4f4"/><rect y="398.8" fill="#84bcf2"/><rect y="399.8" fill="#9bc9f5"/><rect y="400.8" fill="#92c4f4"/><rect y="401.8" fill="#9ecbf5"/><rect y="402.8" fill="#94c5f4"/><rect y="403.8" fill="#83bcf2"/><rect y="404.8" fill="#aed3f7"/><rect y="405.8" fill="#a9d0f6"/><rect y="406.8" fill="#83bcf2"/></g>
<g class="hm" transform="translate(437.20 0)"><rect y="67.5" fill="#8ec2f3"/><rect y="68.5" fill="#b3d6f7"/><rect y="69.5" fill="#9ac8f5"/><rect y="70.5" fill="#b2d5f7"/><rect y="71.5" fill="#a8d0f6"/><rect y="72.5" fill="#cbe3fa"/><rect y="73.5" fill="#7db8f2"/><rect y="74.5" fill="#b2d5f7"/><rect y="75.5" fill="#cce3fa"/><rect y="76.5" fill="#66acef"/><rect y="77.5" fill="#c5e0f9"/><rect y="78.5" fill="#c1ddf9"/><rect y="79.5" fill="#c8e1f9"/><rect y="80.5" fill="#bad9f8"/><rect y="81.5" fill="#b3d6f7"/><rect y="82.5" fill="#bbdaf8"/><rect y="83.5" fill="#b9d9f8"/><rect y="84.5" fill="#add3f7"/><rect y="85.5" fill="#b9d9f8"/><rect y="86.5" fill="#a7cff6"/><rect y="87.5" fill="#89bff3"/><rect y="88.5" fill="#9fcbf5"/><rect y="89.5" fill="#5ea8ef"/><rect y="90.5" fill="#bedcf8"/><rect y="91.5" fill="#bfdcf8"/><rect y="92.5" fill="#9ac8f5"/><rect y="93.5" fill="#ecf5fd"/><rect y="94.5" fill="#b5d7f7"/><rect y="95.5" fill="#d1e6fa"/><rect y="96.5" fill="#c4dff9"/><rect y="97.5" fill="#b4d6f7"/><rect y="98.5" fill="#d3e7fb"/><rect y="99.5" fill="#c2def9"/><rect y="100.5" fill="#95c5f4"/><rect y="101.5" fill="#cfe5fa"/><rect y="102.5" fill="#cfe5fa"/><rect y="103.5" fill="#d3e7fa"/><rect y="104.5" fill="#d1e6fa"/><rect y="105.5" fill="#bbdaf8"/><rect y="106.5" fill="#8dc1f3"/><rect y="107.5" fill="#89bff3"/><rect y="108.5" fill="#9ac8f5"/><rect y="109.5" fill="#bddbf8"/><rect y="110.5" fill="#8fc2f4"/><rect y="111.5" fill="#aad1f6"/><rect y="112.5" fill="#a3cdf6"/><rect y="113.5" fill="#f7fbfe"/><rect y="114.5" fill="#91c3f4"/><rect y="115.5" fill="#afd4f7"/><rect y="116.5" fill="#88bef3"/><rect y="117.5" fill="#c6e0f9"/><rect y="118.5" fill="#b9d9f8"/><rect y="119.5" fill="#a7cff6"/><rect y="120.5" fill="#a2ccf5"/><rect y="121.5" fill="#b2d5f7"/><rect y="122.5" fill="#aed3f7"/><rect y="123.5" fill="#88bef3"/><rect y="124.5" fill="#badaf8"/><rect y="125.5" fill="#afd4f7"/><rect y="126.5" fill="#b0d4f7"/><rect y="127.5" fill="#87bef3"/><rect y="128.5" fill="#f79e9e"/><rect y="129.5" fill="#fabcbc"/><rect y="130.5" fill="#fcd4d4"/><rect y="131.5" fill="#f8a6a6"/><rect y="132.5" fill="#fcd7d7"/><rect y="133.5" fill="#f9b2b2"/><rect y="134.5" fill="#fac4c4"/><rect y="135.5" fill="#f9b8b8"/><rect y="136.5" fill="#fcd3d3"/><rect y="137.5" fill="#fac2c2"/><rect y="138.5" fill="#fbd1d1"/><rect y="139.5" fill="#f9b8b8"/><rect y="140.5" fill="#fac4c4"/><rect y="141.5" fill="#fabdbd"/><rect y="142.5" fill="#f58585"/><rect y="143.5" fill="#f8adad"/><rect y="144.5" fill="#f9b3b3"/><rect y="145.5" fill="#fabdbd"/><rect y="146.5" fill="#f9b1b1"/><rect y="147.5" fill="#f79e9e"/><rect y="148.5" fill="#f79d9d"/><rect y="149.5" fill="#f68c8c"/><rect y="150.5" fill="#fcdfdf"/><rect y="151.5" fill="#fabfbf"/><rect y="152.5" fill="#fac3c3"/><rect y="153.5" fill="#f47070"/><rect y="154.5" fill="#f9aeae"/><rect y="155.5" fill="#fdeaea"/><rect y="156.5" fill="#f9b3b3"/><rect y="157.5" fill="#fbc8c8"/><rect y="158.5" fill="#f9b9b9"/><rect y="159.5" fill="#f8a4a4"/><rect y="160.5" fill="#fac0c0"/><rect y="161.5" fill="#f79e9e"/><rect y="162.5" fill="#f68f8f"/><rect y="163.5" fill="#fac2c2"/><rect y="164.5" fill="#fac3c3"/><rect y="165.5" fill="#fababa"/><rect y="166.5" fill="#fde8e8"/><rect y="167.5" fill="#f9b5b5"/><rect y="168.5" fill="#fbc9c9"/><rect y="169.5" fill="#fabebe"/><rect y="170.5" fill="#f79696"/><rect y="171.5" fill="#f9b6b6"/><rect y="172.5" fill="#fac4c4"/><rect y="173.5" fill="#fac5c5"/><rect y="174.5" fill="#f79999"/><rect y="175.5" fill="#f8a3a3"/><rect y="176.5" fill="#fac2c2"/><rect y="177.5" fill="#fababa"/><rect y="178.5" fill="#f8acac"/><rect y="179.5" fill="#f8a7a7"/><rect y="180.5" fill="#f9b6b6"/><rect y="181.5" fill="#fac3c3"/><rect y="182.5" fill="#f68989"/><rect y="183.5" fill="#f47575"/><rect y="184.5" fill="#fbcdcd"/><rect y="185.5" fill="#fbcdcd"/><rect y="186.5" fill="#fbd2d2"/><rect y="187.5" fill="#fde5e5"/><rect y="188.5" fill="#fababa"/><rect y="189.5" fill="#f79e9e"/><rect y="190.5" fill="#fbcfcf"/><rect y="191.5" fill="#f9afaf"/><rect y="192.5" fill="#fabfbf"/><rect y="193.5" fill="#f9b4b4"/><rect y="194.5" fill="#fabfbf"/><rect y="195.5" fill="#fbcece"/><rect y="196.2" fill="#c0ddf9"/><rect y="197.2" fill="#9bc9f5"/><rect y="198.2" fill="#81bbf2"/><rect y="199.2" fill="#66acef"/><rect y="200.2" fill="#bfdcf8"/><rect y="201.2" fill="#c1ddf9"/><rect y="202.2" fill="#bddbf8"/><rect y="203.2" fill="#b9d9f8"/><rect y="204.2" fill="#86bdf3"/><rect y="205.2" fill="#7eb9f2"/><rect y="206.2" fill="#b7d8f8"/><rect y="207.2" fill="#9fcbf5"/><rect y="208.2" fill="#b3d6f7"/><rect y="209.2" fill="#8ec2f3"/><rect y="210.2" fill="#7ab7f1"/><rect y="211.2" fill="#95c5f4"/><rect y="212.2" fill="#a2cdf5"/><rect y="213.2" fill="#75b4f1"/><rect y="214.2" fill="#7bb8f2"/><rect y="215.2" fill="#cbe3fa"/><rect y="216.2" fill="#89bff3"/><rect y="217.2" fill="#acd2f7"/><rect y="218.2" fill="#6eb0f0"/><rect y="219.2" fill="#95c6f4"/><rect y="220.2" fill="#a2cdf6"/><rect y="221.2" fill="#a5cef6"/><rect y="222.2" fill="#acd2f7"/><rect y="223.2" fill="#ddecfb"/><rect y="224.2" fill="#95c5f4"/><rect y="225.2" fill="#e1effc"/><rect y="226.2" fill="#cae3fa"/><rect y="227.2" fill="#deedfc"/><rect y="228.2" fill="#78b6f1"/><rect y="229.2" fill="#95c5f4"/><rect y="230.2" fill="#88bef3"/><rect y="231.2" fill="#aad1f6"/><rect y="232.2" fill="#9dcaf5"/><rect y="233.2" fill="#88bef3"/><rect y="234.2" fill="#bddbf8"/><rect y="235.2" fill="#b1d5f7"/><rect y="236.2" fill="#bedbf8"/><rect y="237.2" fill="#84bcf2"/><rect y="238.2" fill="#71b2f0"/><rect y="239.2" fill="#8dc1f3"/><rect y="240.2" fill="#90c3f4"/><rect y="241.2" fill="#a5cef6"/><rect y="241.5" fill="#aad1f6"/><rect y="242.5" fill="#a4cef6"/><rect y="243.5" fill="#5da7ee"/><rect y="244.5" fill="#76b5f1"/><rect y="245.5" fill="#aed3f7"/><rect y="246.5" fill="#aed3f7"/><rect y="247.5" fill="#add3f7"/><rect y="248.5" fill="#b9d9f8"/><rect y="249.5" fill="#b6d8f8"/><rect y="250.5" fill="#a2cdf5"/><rect y="251.5" fill="#c7e1f9"/><rect y="252.5" fill="#9fcbf5"/><rect y="253.5" fill="#d6e9fb"/><rect y="254.5" fill="#cde4fa"/><rect y="255.5" fill="#c9e2f9"/><rect y="256.5" fill="#7db9f2"/><rect y="257.5" fill="#aad1f6"/><rect y="258.5" fill="#9bc9f5"/><rect y="259.5" fill="#94c5f4"/><rect y="260.5" fill="#82bbf2"/><rect y="261.5" fill="#bfdcf8"/><rect y="262.5" fill="#d0e5fa"/><rect y="263.5" fill="#89bff3"/><rect y="264.5" fill="#e1effc"/><rect y="265.5" fill="#afd3f7"/><rect y="266.5" fill="#bfdcf8"/><rect y="267.5" fill="#e0eefc"/><rect y="268.5" fill="#83bcf2"/><rect y="269.5" fill="#8fc2f4"/><rect y="270.5" fill="#a1ccf5"/><rect y="271.5" fill="#c4dff9"/><rect y="272.5" fill="#cee4fa"/><rect y="273.5" fill="#99c7f5"/><rect y="274.5" fill="#a8d0f6"/><rect y="275.5" fill="#ddecfb"/><rect y="276.5" fill="#a7cff6"/><rect y="277.5" fill="#9ecaf5"/><rect y="278.5" fill="#87bef3"/><rect y="279.5" fill="#a9d0f6"/><rect y="280.5" fill="#88bff3"/><rect y="281.5" fill="#e9f3fd"/><rect y="282.5" fill="#92c4f4"/><rect y="283.5" fill="#cee4fa"/><rect y="284.5" fill="#9ac8f5"/><rect y="285.5" fill="#badaf8"/><rect y="286.5" fill="#b1d5f7"/><rect y="287.5" fill="#9ccaf5"/><rect y="288.5" fill="#aed3f7"/><rect y="289.5" fill="#95c6f4"/><rect y="290.5" fill="#c1ddf9"/><rect y="291.5" fill="#bddbf8"/><rect y="292.5" fill="#c5e0f9"/><rect y="293.5" fill="#82bbf2"/><rect y="294.5" fill="#a6cff6"/><rect y="295.5" fill="#c4dff9"/><rect y="296.5" fill="#d0e5fa"/><rect y="297.5" fill="#73b3f1"/><rect y="298.5" fill="#cce3fa"/><rect y="299.5" fill="#cee5fa"/><rect y="300.5" fill="#b8d9f8"/><rect y="301.5" fill="#d4e8fb"/><rect y="302.5" fill="#91c3f4"/><rect y="303.5" fill="#acd2f7"/><rect y="304.5" fill="#a1ccf5"/><rect y="305.5" fill="#7ab7f1"/><rect y="306.5" fill="#cee4fa"/><rect y="307.5" fill="#7fbaf2"/><rect y="308.5" fill="#a1ccf5"/><rect y="309.5" fill="#d7e9fb"/><rect y="310.5" fill="#6fb1f0"/><rect y="311.5" fill="#c9e2fa"/><rect y="312.5" fill="#c7e1f9"/><rect y="313.5" fill="#a1ccf5"/><rect y="314.5" fill="#b8d9f8"/><rect y="315.5" fill="#a8d0f6"/><rect y="315.8" fill="#f9b7b7"/><rect y="316.8" fill="#f25d5d"/><rect y="317.8" fill="#f8a5a5"/><rect y="318.8" fill="#f47676"/><rect y="319.8" fill="#f8abab"/><rect y="320.8" fill="#f69393"/><rect y="321.8" fill="#f68989"/><rect y="322.8" fill="#f68b8b"/><rect y="323.8" fill="#f36d6d"/><rect y="324.8" fill="#f36c6c"/><rect y="325.8" fill="#f68f8f"/><rect y="326.8" fill="#f25f5f"/><rect y="327.8" fill="#f14b4b"/><rect y="328.8" fill="#f47777"/><rect y="329.8" fill="#f68d8d"/><rect y="330.8" fill="#f58787"/><rect y="331.8" fill="#f47979"/><rect y="332.8" fill="#f36363"/><rect y="333.8" fill="#f58181"/><rect y="334.8" fill="#f68888"/><rect y="335.8" fill="#f36a6a"/><rect y="336.8" fill="#f69191"/><rect y="337.8" fill="#f36c6c"/><rect y="338.8" fill="#f8a9a9"/><rect y="339.8" fill="#f47979"/><rect y="340.8" fill="#f68888"/><rect y="341.8" fill="#f68888"/><rect y="342.8" fill="#f68c8c"/><rect y="343.8" fill="#f57f7f"/><rect y="344.8" fill="#f36767"/><rect y="345.8" fill="#f36666"/><rect y="346.8" fill="#f25b5b"/><rect y="347.8" fill="#f25f5f"/><rect y="348.8" fill="#f79c9c"/><rect y="349.8" fill="#f36969"/><rect y="350.8" fill="#f68f8f"/><rect y="351.8" fill="#f79595"/><rect y="352.8" fill="#f36565"/><rect y="353.8" fill="#f58282"/><rect y="354.8" fill="#f36d6d"/><rect y="355.8" fill="#f46f6f"/><rect y="356.8" fill="#f46f6f"/><rect y="357.8" fill="#f58585"/><rect y="358.8" fill="#f36262"/><rect y="359.8" fill="#f79e9e"/><rect y="360.8" fill="#f36c6c"/><rect y="361.8" fill="#f79999"/><rect y="362.8" fill="#f79898"/><rect y="363.8" fill="#f79898"/><rect y="364.8" fill="#f79595"/><rect y="365.8" fill="#f58585"/><rect y="366.8" fill="#f36b6b"/><rect y="367.8" fill="#f36a6a"/><rect y="368.8" fill="#f58282"/><rect y="369.8" fill="#fab9b9"/><rect y="370.8" fill="#f69090"/><rect y="371.8" fill="#f47676"/><rect y="372.8" fill="#f58585"/><rect y="373.8" fill="#f14f4f"/><rect y="374.8" fill="#f79797"/><rect y="375.8" fill="#f9aeae"/><rect y="376.8" fill="#f36464"/><rect y="377.8" fill="#f79898"/><rect y="378.8" fill="#f57c7c"/><rect y="379.8" fill="#f9afaf"/><rect y="380.8" fill="#f8a7a7"/><rect y="381.8" fill="#f69191"/><rect y="382.8" fill="#f79d9d"/><rect y="383.8" fill="#f79797"/><rect y="384.8" fill="#f68c8c"/><rect y="385.8" fill="#f9afaf"/><rect y="386.8" fill="#f57f7f"/><rect y="387.8" fill="#f47070"/><rect y="388.8" fill="#f47575"/><rect y="389.8" fill="#f47272"/><rect y="390.8" fill="#f25d5d"/><rect y="391.8" fill="#f68787"/><rect y="392.8" fill="#f58080"/><rect y="393.8" fill="#f58484"/><rect y="394.8" fill="#f47070"/><rect y="395.8" fill="#f79e9e"/><rect y="396.8" fill="#f36464"/><rect y="397.8" fill="#f36464"/><rect y="398.8" fill="#f46e6e"/><rect y="399.8" fill="#f25555"/><rect y="400.8" fill="#f68a8a"/><rect y="401.8" fill="#f36868"/><rect y="402.8" fill="#f68c8c"/><rect y="403.8" fill="#f47373"/><rect y="404.8" fill="#f57f7f"/><rect y="405.8" fill="#f36c6c"/><rect y="406.8" fill="#f79e9e"/></g>
<g class="hm" transform="translate(542.53 0)"><rect y="67.5" fill="#9bc9f5"/><rect y="68.5" fill="#80baf2"/><rect y="69.5" fill="#9fcbf5"/><rect y="70.5" fill="#93c4f4"/><rect y="71.5" fill="#a9d0f6"/><rect y="72.5" fill="#93c5f4"/><rect y="73.5" fill="#a2ccf5"/><rect y="74.5" fill="#a9d1f6"/><rect y="75.5" fill="#a8d0f6"/><rect y="76.5" fill="#6fb1f0"/><rect y="77.5" fill="#a5cef6"/><rect y="78.5" fill="#d9eafb"/><rect y="79.5" fill="#b8d8f8"/><rect y="80.5" fill="#7bb7f1"/><rect y="81.5" fill="#c8e1f9"/><rect y="82.5" fill="#c3def9"/><rect y="83.5" fill="#78b6f1"/><rect y="84.5" fill="#9bc9f5"/><rect y="85.5" fill="#a6cff6"/><rect y="86.5" fill="#abd2f6"/><rect y="87.5" fill="#a5cef6"/><rect y="88.5" fill="#e3f0fc"/><rect y="89.5" fill="#90c3f4"/><rect y="90.5" fill="#6aaef0"/><rect y="91.5" fill="#7bb8f2"/><rect y="92.5" fill="#a3cdf6"/><rect y="93.5" fill="#86bef3"/><rect y="94.5" fill="#7ab7f1"/><rect y="95.5" fill="#bfdcf8"/><rect y="96.5" fill="#81bbf2"/><rect y="97.5" fill="#a2cdf6"/><rect y="98.5" fill="#cde4fa"/><rect y="99.5" fill="#93c5f4"/><rect y="100.5" fill="#9ecbf5"/><rect y="101.5" fill="#cde4fa"/><rect y="102.5" fill="#91c3f4"/><rect y="103.5" fill="#a2cdf6"/><rect y="104.5" fill="#89bff3"/><rect y="105.5" fill="#94c5f4"/><rect y="106.5" fill="#75b4f1"/><rect y="107.5" fill="#64abef"/><rect y="108.5" fill="#b3d6f7"/><rect y="109.5" fill="#79b6f1"/><rect y="110.5" fill="#c1ddf9"/><rect y="111.5" fill="#aed3f7"/><rect y="112.5" fill="#8abff3"/><rect y="113.5" fill="#cce3fa"/><rect y="114.5" fill="#7fbaf2"/><rect y="115.5" fill="#b6d8f8"/><rect y="116.5" fill="#cfe5fa"/><rect y="117.5" fill="#a8d0f6"/><rect y="118.5" fill="#95c6f4"/><rect y="119.5" fill="#bedcf8"/><rect y="120.5" fill="#99c8f5"/><rect y="121.5" fill="#9dcaf5"/><rect y="122.5" fill="#7cb8f2"/><rect y="123.5" fill="#a3cdf6"/><rect y="124.5" fill="#cfe5fa"/><rect y="125.5" fill="#cce3fa"/><rect y="126.5" fill="#b2d5f7"/><rect y="127.5" fill="#a4cef6"/><rect y="128.5" fill="#f15050"/><rect y="129.5" fill="#f68989"/><rect y="130.5" fill="#f58383"/><rect y="131.5" fill="#f47777"/><rect y="132.5" fill="#f58282"/><rect y="133.5" fill="#f25b5b"/><rect y="134.5" fill="#f25656"/><rect y="135.5" fill="#f36464"/><rect y="136.5" fill="#f47171"/><rect y="137.5" fill="#f69090"/><rect y="138.5" fill="#f36b6b"/><rect y="139.5" fill="#f36b6b"/><rect y="140.5" fill="#ee2e2e"/><rect y="141.5" fill="#f14f4f"/><rect y="142.5" fill="#ef3939"/><rect y="143.5" fill="#ee2a2a"/><rect y="144.5" fill="#f25555"/><rect y="145.5" fill="#f47777"/><rect y="146.5" fill="#f14d4d"/><rect y="147.5" fill="#f15151"/><rect y="148.5" fill="#f46f6f"/><rect y="149.5" fill="#f25c5c"/><rect y="150.5" fill="#f36969"/><rect y="151.5" fill="#ef3838"/><rect y="152.5" fill="#f25e5e"/><rect y="153.5" fill="#f68888"/><rect y="154.5" fill="#f26060"/><rect y="155.5" fill="#f36d6d"/><rect y="156.5" fill="#f57c7c"/><rect y="157.5" fill="#f14e4e"/><rect y="158.5" fill="#f25555"/><rect y="159.5" fill="#f68d8d"/><rect y="160.5" fill="#f04242"/><rect y="161.5" fill="#f36666"/><rect y="162.5" fill="#f25e5e"/><rect y="163.5" fill="#f25454"/><rect y="164.5" fill="#f15050"/><rect y="165.5" fill="#f25e5e"/><rect y="166.5" fill="#f36262"/><rect y="167.5" fill="#f68f8f"/><rect y="168.5" fill="#f25c5c"/><rect y="169.5" fill="#f15454"/><rect y="170.5" fill="#f47979"/><rect y="171.5" fill="#f8a9a9"/><rect y="172.5" fill="#f47474"/><rect y="173.5" fill="#f25656"/><rect y="174.5" fill="#f25a5a"/><rect y="175.5" fill="#f04040"/><rect y="176.5" fill="#f25d5d"/><rect y="177.5" fill="#f14a4a"/><rect y="178.5" fill="#f04040"/><rect y="179.5" fill="#ef3939"/><rect y="180.5" fill="#f25e5e"/><rect y="181.5" fill="#f36969"/><rect y="182.5" fill="#f25858"/><rect y="183.5" fill="#f58282"/><rect y="184.5" fill="#f25b5b"/><rect y="185.5" fill="#f57c7c"/><rect y="186.5" fill="#f36c6c"/><rect y="187.5" fill="#ee2828"/><rect y="188.5" fill="#f68f8f"/><rect y="189.5" fill="#f14949"/><rect y="190.5" fill="#f36969"/><rect y="191.5" fill="#f04747"/><rect y="192.5" fill="#f04747"/><rect y="193.5" fill="#f58383"/><rect y="194.5" fill="#f14e4e"/><rect y="195.5" fill="#f15050"/><rect y="196.2" fill="#a7d0f6"/><rect y="197.2" fill="#d8eafb"/><rect y="198.2" fill="#bedcf8"/><rect y="199.2" fill="#8cc1f3"/><rect y="200.2" fill="#e8f2fd"/><rect y="201.2" fill="#87bef3"/><rect y="202.2" fill="#9fcbf5"/><rect y="203.2" fill="#afd3f7"/><rect y="204.2" fill="#89bff3"/><rect y="205.2" fill="#a1ccf5"/><rect y="206.2" fill="#96c6f4"/><rect y="207.2" fill="#a3cdf6"/><rect y="208.2" fill="#a2cdf6"/><rect y="209.2" fill="#9cc9f5"/><rect y="210.2" fill="#b5d7f7"/><rect y="211.2" fill="#469aec"/><rect y="212.2" fill="#a9d1f6"/><rect y="213.2" fill="#80baf2"/><rect y="214.2" fill="#b6d7f8"/><rect y="215.2" fill="#95c5f4"/><rect y="216.2" fill="#97c7f4"/><rect y="217.2" fill="#b6d7f8"/><rect y="218.2" fill="#7bb8f2"/><rect y="219.2" fill="#8dc1f3"/><rect y="220.2" fill="#b4d6f7"/><rect y="221.2" fill="#a0cbf5"/><rect y="222.2" fill="#b1d5f7"/><rect y="223.2" fill="#b2d5f7"/><rect y="224.2" fill="#9bc9f5"/><rect y="225.2" fill="#bedcf8"/><rect y="226.2" fill="#7db8f2"/><rect y="227.2" fill="#b2d5f7"/><rect y="228.2" fill="#88bff3"/><rect y="229.2" fill="#c3dff9"/><rect y="230.2" fill="#8dc1f3"/><rect y="231.2" fill="#9ac8f5"/><rect y="232.2" fill="#b9d9f8"/><rect y="233.2" fill="#66acef"/><rect y="234.2" fill="#91c3f4"/><rect y="235.2" fill="#a8d0f6"/><rect y="236.2" fill="#a6cff6"/><rect y="237.2" fill="#badaf8"/><rect y="238.2" fill="#92c4f4"/><rect y="239.2" fill="#7fbaf2"/><rect y="240.2" fill="#8cc0f3"/><rect y="241.2" fill="#b9d9f8"/><rect y="241.5" fill="#6fb1f0"/><rect y="242.5" fill="#85bdf3"/><rect y="243.5" fill="#afd4f7"/><rect y="244.5" fill="#a8d0f6"/><rect y="245.5" fill="#d5e8fb"/><rect y="246.5" fill="#9ecaf5"/><rect y="247.5" fill="#a7cff6"/><rect y="248.5" fill="#c2def9"/><rect y="249.5" fill="#b0d4f7"/><rect y="250.5" fill="#6eb0f0"/><rect y="251.5" fill="#97c6f4"/><rect y="252.5" fill="#9cc9f5"/><rect y="253.5" fill="#b5d7f7"/><rect y="254.5" fill="#d3e7fa"/><rect y="255.5" fill="#95c6f4"/><rect y="256.5" fill="#a7cff6"/><rect y="257.5" fill="#89bff3"/><rect y="258.5" fill="#88bef3"/><rect y="259.5" fill="#9ecbf5"/><rect y="260.5" fill="#5aa5ee"/><rect y="261.5" fill="#cae2fa"/><rect y="262.5" fill="#b9d9f8"/><rect y="263.5" fill="#61aaef"/><rect y="264.5" fill="#d1e6fa"/><rect y="265.5" fill="#7cb8f2"/><rect y="266.5" fill="#88bff3"/><rect y="267.5" fill="#bedcf8"/><rect y="268.5" fill="#a5cef6"/><rect y="269.5" fill="#8fc2f4"/><rect y="270.5" fill="#a7cff6"/><rect y="271.5" fill="#7ab7f1"/><rect y="272.5" fill="#a3cdf6"/><rect y="273.5" fill="#c9e2fa"/><rect y="274.5" fill="#bfdcf8"/><rect y="275.5" fill="#7fb9f2"/><rect y="276.5" fill="#b0d4f7"/><rect y="277.5" fill="#97c7f4"/><rect y="278.5" fill="#97c6f4"/><rect y="279.5" fill="#7bb7f2"/><rect y="280.5" fill="#75b4f1"/><rect y="281.5" fill="#81baf2"/><rect y="282.5" fill="#c6e0f9"/><rect y="283.5" fill="#89bff3"/><rect y="284.5" fill="#9ecbf5"/><rect y="285.5" fill="#8ec2f3"/><rect y="286.5" fill="#76b5f1"/><rect y="287.5" fill="#85bdf3"/><rect y="288.5" fill="#8ac0f3"/><rect y="289.5" fill="#94c5f4"/><rect y="290.5" fill="#77b5f1"/><rect y="291.5" fill="#72b2f1"/><rect y="292.5" fill="#8cc1f3"/><rect y="293.5" fill="#aed3f7"/><rect y="294.5" fill="#98c7f4"/><rect y="295.5" fill="#9ecaf5"/><rect y="296.5" fill="#a5cef6"/><rect y="297.5" fill="#489cec"/><rect y="298.5" fill="#9cc9f5"/><rect y="299.5" fill="#8cc1f3"/><rect y="300.5" fill="#b1d5f7"/><rect y="301.5" fill="#d1e6fa"/><rect y="302.5" fill="#63aaef"/><rect y="303.5" fill="#7bb7f2"/><rect y="304.5" fill="#78b6f1"/><rect y="305.5" fill="#c7e1f9"/><rect y="306.5" fill="#80baf2"/><rect y="307.5" fill="#8bc0f3"/><rect y="308.5" fill="#a6cff6"/><rect y="309.5" fill="#b3d6f7"/><rect y="310.5" fill="#85bdf3"/><rect y="311.5" fill="#8abff3"/><rect y="312.5" fill="#b2d5f7"/><rect y="313.5" fill="#dcecfb"/><rect y="314.5" fill="#8ac0f3"/><rect y="315.5" fill="#97c7f4"/><rect y="315.8" fill="#fabcbc"/><rect y="316.8" fill="#fbd3d3"/><rect y="317.8" fill="#fcdfdf"/><rect y="318.8" fill="#f9adad"/><rect y="319.8" fill="#fafdff"/><rect y="320.8" fill="#feeeee"/><rect y="321.8" fill="#fac4c4"/><rect y="322.8" fill="#f69393"/><rect y="323.8" fill="#f9b5b5"/><rect y="324.8" fill="#f9b2b2"/><rect y="325.8" fill="#fef1f1"/><rect y="326.8" fill="#f9afaf"/><rect y="327.8" fill="#f79c9c"/><rect y="328.8" fill="#fac6c6"/><rect y="329.8" fill="#fcdddd"/><rect y="330.8" fill="#fbcaca"/><rect y="331.8" fill="#f9b7b7"/><rect y="332.8" fill="#fcd7d7"/><rect y="333.8" fill="#fababa"/><rect y="334.8" fill="#fcdede"/><rect y="335.8" fill="#fef7f7"/><rect y="336.8" fill="#fabdbd"/><rect y="337.8" fill="#fcd3d3"/><rect y="338.8" fill="#fcdada"/><rect y="339.8" fill="#fde6e6"/><rect y="340.8" fill="#fbcbcb"/><rect y="341.8" fill="#fcdddd"/><rect y="342.8" fill="#f9b3b3"/><rect y="343.8" fill="#fabcbc"/><rect y="344.8" fill="#fbcbcb"/><rect y="345.8" fill="#fcd9d9"/><rect y="346.8" fill="#fff9f9"/><rect y="347.8" fill="#fabcbc"/><rect y="348.8" fill="#fcdfdf"/><rect y="349.8" fill="#fde4e4"/><rect y="350.8" fill="#fde1e1"/><rect y="351.8" fill="#fde0e0"/><rect y="352.8" fill="#f9b9b9"/><rect y="353.8" fill="#fac3c3"/><rect y="354.8" fill="#f9b0b0"/><rect y="355.8" fill="#f8a2a2"/><rect y="356.8" fill="#fac6c6"/><rect y="357.8" fill="#fde9e9"/><rect y="358.8" fill="#fbcfcf"/><rect y="359.8" fill="#f9b7b7"/><rect y="360.8" fill="#fcdede"/><rect y="361.8" fill="#f5fafe"/><rect y="362.8" fill="#fcdcdc"/><rect y="363.8" fill="#fcd8d8"/><rect y="364.8" fill="#fdecec"/><rect y="365.8" fill="#f5fafe"/><rect y="366.8" fill="#fcd7d7"/><rect y="367.8" fill="#fbc9c9"/><rect y="368.8" fill="#f79e9e"/><rect y="369.8" fill="#ecf5fd"/><rect y="370.8" fill="#f9aeae"/><rect y="371.8" fill="#fde2e2"/><rect y="372.8" fill="#fabebe"/><rect y="373.8" fill="#fbcdcd"/><rect y="374.8" fill="#eff6fd"/><rect y="375.8" fill="#f68f8f"/><rect y="376.8" fill="#fabdbd"/><rect y="377.8" fill="#fac5c5"/><rect y="378.8" fill="#f9b2b2"/><rect y="379.8" fill="#fcd4d4"/><rect y="380.8" fill="#fde3e3"/><rect y="381.8" fill="#fcd5d5"/><rect y="382.8" fill="#fde9e9"/><rect y="383.8" fill="#f7a0a0"/><rect y="384.8" fill="#fcd8d8"/><rect y="385.8" fill="#fbcccc"/><rect y="386.8" fill="#fbd1d1"/><rect y="387.8" fill="#fabcbc"/><rect y="388.8" fill="#fbd2d2"/><rect y="389.8" fill="#fbcece"/><rect y="390.8" fill="#fef1f1"/><rect y="391.8" fill="#fac3c3"/><rect y="392.8" fill="#fde5e5"/><rect y="393.8" fill="#f8a2a2"/><rect y="394.8" fill="#f9aeae"/><rect y="395.8" fill="#fac2c2"/><rect y="396.8" fill="#fbcfcf"/><rect y="397.8" fill="#f9aeae"/><rect y="398.8" fill="#fbd1d1"/><rect y="399.8" fill="#f8a5a5"/><rect y="400.8" fill="#fdeaea"/><rect y="401.8" fill="#fcdede"/><rect y="402.8" fill="#fac4c4"/><rect y="403.8" fill="#fbcaca"/><rect y="404.8" fill="#fbc8c8"/><rect y="405.8" fill="#fcd7d7"/><rect y="406.8" fill="#f9b5b5"/></g>
<g class="hm" transform="translate(647.87 0)"><rect y="67.5" fill="#c1ddf9"/><rect y="68.5" fill="#c4dff9"/><rect y="69.5" fill="#b7d8f8"/><rect y="70.5" fill="#d3e7fa"/><rect y="71.5" fill="#c0ddf9"/><rect y="72.5" fill="#b2d5f7"/><rect y="73.5" fill="#acd2f7"/><rect y="74.5" fill="#b5d7f7"/><rect y="75.5" fill="#b1d5f7"/><rect y="76.5" fill="#9ecaf5"/><rect y="77.5" fill="#a1ccf5"/><rect y="78.5" fill="#c5e0f9"/><rect y="79.5" fill="#7fbaf2"/><rect y="80.5" fill="#c8e1f9"/><rect y="81.5" fill="#a0cbf5"/><rect y="82.5" fill="#98c7f5"/><rect y="83.5" fill="#b6d7f7"/><rect y="84.5" fill="#9bc9f5"/><rect y="85.5" fill="#bedcf8"/><rect y="86.5" fill="#c7e1f9"/><rect y="87.5" fill="#aed3f7"/><rect y="88.5" fill="#b5d7f7"/><rect y="89.5" fill="#badaf8"/><rect y="90.5" fill="#90c3f4"/><rect y="91.5" fill="#b5d7f7"/><rect y="92.5" fill="#98c7f5"/><rect y="93.5" fill="#bedcf8"/><rect y="94.5" fill="#80baf2"/><rect y="95.5" fill="#d6e9fb"/><rect y="96.5" fill="#c3def9"/><rect y="97.5" fill="#c0ddf9"/><rect y="98.5" fill="#aad1f6"/><rect y="99.5" fill="#66acef"/><rect y="100.5" fill="#b8d9f8"/><rect y="101.5" fill="#99c8f5"/><rect y="102.5" fill="#b5d7f7"/><rect y="103.5" fill="#b3d6f7"/><rect y="104.5" fill="#a8d0f6"/><rect y="105.5" fill="#90c3f4"/><rect y="106.5" fill="#9dcaf5"/><rect y="107.5" fill="#abd1f6"/><rect y="108.5" fill="#b8d8f8"/><rect y="109.5" fill="#c8e1f9"/><rect y="110.5" fill="#f7fafe"/><rect y="111.5" fill="#86bdf3"/><rect y="112.5" fill="#9fcbf5"/><rect y="113.5" fill="#c5dff9"/><rect y="114.5" fill="#93c4f4"/><rect y="115.5" fill="#6caff0"/><rect y="116.5" fill="#bad9f8"/><rect y="117.5" fill="#83bcf2"/><rect y="118.5" fill="#a9d1f6"/><rect y="119.5" fill="#b0d4f7"/><rect y="120.5" fill="#a2cdf6"/><rect y="121.5" fill="#b2d5f7"/><rect y="122.5" fill="#5ba6ee"/><rect y="123.5" fill="#a7cff6"/><rect y="124.5" fill="#c3dff9"/><rect y="125.5" fill="#c6e0f9"/><rect y="126.5" fill="#f5fafe"/><rect y="127.5" fill="#add3f7"/><rect y="128.5" fill="#f79494"/><rect y="129.5" fill="#f9b1b1"/><rect y="130.5" fill="#fcdfdf"/><rect y="131.5" fill="#f47a7a"/><rect y="132.5" fill="#f9b1b1"/><rect y="133.5" fill="#f68888"/><rect y="134.5" fill="#f79494"/><rect y="135.5" fill="#f79f9f"/><rect y="136.5" fill="#feeeee"/><rect y="137.5" fill="#f9b6b6"/><rect y="138.5" fill="#f8a9a9"/><rect y="139.5" fill="#f9b4b4"/><rect y="140.5" fill="#f8adad"/><rect y="141.5" fill="#f68787"/><rect y="142.5" fill="#f68989"/><rect y="143.5" fill="#f8a2a2"/><rect y="144.5" fill="#f69393"/><rect y="145.5" fill="#f68c8c"/><rect y="146.5" fill="#f9adad"/><rect y="147.5" fill="#f9b9b9"/><rect y="148.5" fill="#f25c5c"/><rect y="149.5" fill="#f69393"/><rect y="150.5" fill="#f8a0a0"/><rect y="151.5" fill="#f68b8b"/><rect y="152.5" fill="#f79999"/><rect y="153.5" fill="#f8a9a9"/><rect y="154.5" fill="#f68f8f"/><rect y="155.5" fill="#fbcbcb"/><rect y="156.5" fill="#f79c9c"/><rect y="157.5" fill="#f47272"/><rect y="158.5" fill="#fabbbb"/><rect y="159.5" fill="#f69292"/><rect y="160.5" fill="#f9b3b3"/><rect y="161.5" fill="#f8abab"/><rect y="162.5" fill="#f8a2a2"/><rect y="163.5" fill="#f8a3a3"/><rect y="164.5" fill="#f9b7b7"/><rect y="165.5" fill="#fbc6c6"/><rect y="166.5" fill="#f79d9d"/><rect y="167.5" fill="#fabbbb"/><rect y="168.5" fill="#f57d7d"/><rect y="169.5" fill="#fbcaca"/><rect y="170.5" fill="#f9b9b9"/><rect y="171.5" fill="#f58484"/><rect y="172.5" fill="#fabcbc"/><rect y="173.5" fill="#f7a0a0"/><rect y="174.5" fill="#fabcbc"/><rect y="175.5" fill="#f69191"/><rect y="176.5" fill="#f8a4a4"/><rect y="177.5" fill="#f57b7b"/><rect y="178.5" fill="#f8a7a7"/><rect y="179.5" fill="#f25b5b"/><rect y="180.5" fill="#f9b3b3"/><rect y="181.5" fill="#f8a6a6"/><rect y="182.5" fill="#f69090"/><rect y="183.5" fill="#f79595"/><rect y="184.5" fill="#f58686"/><rect y="185.5" fill="#f8a7a7"/><rect y="186.5" fill="#f79b9b"/><rect y="187.5" fill="#f8a5a5"/><rect y="188.5" fill="#f79d9d"/><rect y="189.5" fill="#f47575"/><rect y="190.5" fill="#f57e7e"/><rect y="191.5" fill="#f79494"/><rect y="192.5" fill="#f79b9b"/><rect y="193.5" fill="#f79d9d"/><rect y="194.5" fill="#f58282"/><rect y="195.5" fill="#fabcbc"/><rect y="196.2" fill="#99c8f5"/><rect y="197.2" fill="#aed3f7"/><rect y="198.2" fill="#b3d6f7"/><rect y="199.2" fill="#aad1f6"/><rect y="200.2" fill="#91c3f4"/><rect y="201.2" fill="#a1ccf5"/><rect y="202.2" fill="#8abff3"/><rect y="203.2" fill="#99c8f5"/><rect y="204.2" fill="#78b6f1"/><rect y="205.2" fill="#71b2f0"/><rect y="206.2" fill="#a9d0f6"/><rect y="207.2" fill="#b3d6f7"/><rect y="208.2" fill="#a1ccf5"/><rect y="209.2" fill="#a9d0f6"/><rect y="210.2" fill="#deedfc"/><rect y="211.2" fill="#92c4f4"/><rect y="212.2" fill="#97c7f4"/><rect y="213.2" fill="#90c3f4"/><rect y="214.2" fill="#c7e0f9"/><rect y="215.2" fill="#7eb9f2"/><rect y="216.2" fill="#7fb9f2"/><rect y="217.2" fill="#b0d4f7"/><rect y="218.2" fill="#88bef3"/><rect y="219.2" fill="#6aaef0"/><rect y="220.2" fill="#9dcaf5"/><rect y="221.2" fill="#95c5f4"/><rect y="222.2" fill="#a8d0f6"/><rect y="223.2" fill="#9ac8f5"/><rect y="224.2" fill="#d0e5fa"/><rect y="225.2" fill="#cee4fa"/><rect y="226.2" fill="#9fcbf5"/><rect y="227.2" fill="#aad1f6"/><rect y="228.2" fill="#6fb1f0"/><rect y="229.2" fill="#90c3f4"/><rect y="230.2" fill="#69aef0"/><rect y="231.2" fill="#9cc9f5"/><rect y="232.2" fill="#9ac8f5"/><rect y="233.2" fill="#72b3f1"/><rect y="234.2" fill="#9bc9f5"/><rect y="235.2" fill="#d0e5fa"/><rect y="236.2" fill="#91c4f4"/><rect y="237.2" fill="#aed3f7"/><rect y="238.2" fill="#90c3f4"/><rect y="239.2" fill="#94c5f4"/><rect y="240.2" fill="#aed3f7"/><rect y="241.2" fill="#c6e0f9"/><rect y="241.5" fill="#b1d5f7"/><rect y="242.5" fill="#9ecbf5"/><rect y="243.5" fill="#9dcaf5"/><rect y="244.5" fill="#88bef3"/><rect y="245.5" fill="#dbebfb"/><rect y="246.5" fill="#a4cef6"/><rect y="247.5" fill="#bedcf8"/><rect y="248.5" fill="#88bff3"/><rect y="249.5" fill="#c7e1f9"/><rect y="250.5" fill="#acd2f6"/><rect y="251.5" fill="#81bbf2"/><rect y="252.5" fill="#a1ccf5"/><rect y="253.5" fill="#badaf8"/><rect y="254.5" fill="#c9e2f9"/><rect y="255.5" fill="#8ec2f3"/><rect y="256.5" fill="#b0d4f7"/><rect y="257.5" fill="#6aaef0"/><rect y="258.5" fill="#9ac8f5"/><rect y="259.5" fill="#a8d0f6"/><rect y="260.5" fill="#a5cef6"/><rect y="261.5" fill="#bddbf8"/><rect y="262.5" fill="#8ac0f3"/><rect y="263.5" fill="#bfdcf8"/><rect y="264.5" fill="#a4cef6"/><rect y="265.5" fill="#badaf8"/><rect y="266.5" fill="#a6cff6"/><rect y="267.5" fill="#9bc9f5"/><rect y="268.5" fill="#a6cff6"/><rect y="269.5" fill="#79b6f1"/><rect y="270.5" fill="#d2e6fa"/><rect y="271.5" fill="#b4d6f7"/><rect y="272.5" fill="#c1ddf9"/><rect y="273.5" fill="#9bc9f5"/><rect y="274.5" fill="#96c6f4"/><rect y="275.5" fill="#8fc2f4"/><rect y="276.5" fill="#6eb0f0"/><rect y="277.5" fill="#add3f7"/><rect y="278.5" fill="#6fb1f0"/><rect y="279.5" fill="#74b4f1"/><rect y="280.5" fill="#bbdaf8"/><rect y="281.5" fill="#a5cef6"/><rect y="282.5" fill="#94c5f4"/><rect y="283.5" fill="#bedcf8"/><rect y="284.5" fill="#66acef"/><rect y="285.5" fill="#c2def9"/><rect y="286.5" fill="#a8d0f6"/><rect y="287.5" fill="#83bcf2"/><rect y="288.5" fill="#acd2f7"/><rect y="289.5" fill="#a2ccf5"/><rect y="290.5" fill="#97c6f4"/><rect y="291.5" fill="#73b3f1"/><rect y="292.5" fill="#cce3fa"/><rect y="293.5" fill="#99c8f5"/><rect y="294.5" fill="#c4dff9"/><rect y="295.5" fill="#a8d0f6"/><rect y="296.5" fill="#97c7f4"/><rect y="297.5" fill="#98c7f4"/><rect y="298.5" fill="#a7cff6"/><rect y="299.5" fill="#a0cbf5"/><rect y="300.5" fill="#81bbf2"/><rect y="301.5" fill="#a4cef6"/><rect y="302.5" fill="#89bff3"/><rect y="303.5" fill="#cae2fa"/><rect y="304.5" fill="#a9d0f6"/><rect y="305.5" fill="#b0d4f7"/><rect y="306.5" fill="#98c7f4"/><rect y="307.5" fill="#b0d4f7"/><rect y="308.5" fill="#acd2f6"/><rect y="309.5" fill="#a9d0f6"/><rect y="310.5" fill="#91c3f4"/><rect y="311.5" fill="#bddbf8"/><rect y="312.5" fill="#aad1f6"/><rect y="313.5" fill="#acd2f7"/><rect y="314.5" fill="#d6e9fb"/><rect y="315.5" fill="#abd2f6"/><rect y="315.8" fill="#f47878"/><rect y="316.8" fill="#f36767"/><rect y="317.8" fill="#f15050"/><rect y="318.8" fill="#f8a9a9"/><rect y="319.8" fill="#f47575"/><rect y="320.8" fill="#f79797"/><rect y="321.8" fill="#f47979"/><rect y="322.8" fill="#f47070"/><rect y="323.8" fill="#f15151"/><rect y="324.8" fill="#f68b8b"/><rect y="325.8" fill="#f36b6b"/><rect y="326.8" fill="#f58181"/><rect y="327.8" fill="#f14d4d"/><rect y="328.8" fill="#f36a6a"/><rect y="329.8" fill="#f79797"/><rect y="330.8" fill="#f79a9a"/><rect y="331.8" fill="#f47575"/><rect y="332.8" fill="#f79797"/><rect y="333.8" fill="#f79b9b"/><rect y="334.8" fill="#f8a9a9"/><rect y="335.8" fill="#f68888"/><rect y="336.8" fill="#f25a5a"/><rect y="337.8" fill="#f8a3a3"/><rect y="338.8" fill="#f25d5d"/><rect y="339.8" fill="#f9b0b0"/><rect y="340.8" fill="#f57b7b"/><rect y="341.8" fill="#f36464"/><rect y="342.8" fill="#f79d9d"/><rect y="343.8" fill="#f68888"/><rect y="344.8" fill="#f68e8e"/><rect y="345.8" fill="#f8a2a2"/><rect y="346.8" fill="#f25656"/><rect y="347.8" fill="#f04545"/><rect y="348.8" fill="#f68d8d"/><rect y="349.8" fill="#f47272"/><rect y="350.8" fill="#f79999"/><rect y="351.8" fill="#f8a1a1"/><rect y="352.8" fill="#f46f6f"/><rect y="353.8" fill="#f36c6c"/><rect y="354.8" fill="#f46f6f"/><rect y="355.8" fill="#f79797"/><rect y="356.8" fill="#f36464"/><rect y="357.8" fill="#f8aaaa"/><rect y="358.8" fill="#f58181"/><rect y="359.8" fill="#f36d6d"/><rect y="360.8" fill="#f36161"/><rect y="361.8" fill="#f79494"/><rect y="362.8" fill="#f79494"/><rect y="363.8" fill="#f47878"/><rect y="364.8" fill="#f9b0b0"/><rect y="365.8" fill="#f8aaaa"/><rect y="366.8" fill="#f68888"/><rect y="367.8" fill="#f8a8a8"/><rect y="368.8" fill="#f68a8a"/><rect y="369.8" fill="#fac4c4"/><rect y="370.8" fill="#f36969"/><rect y="371.8" fill="#f9b0b0"/><rect y="372.8" fill="#f36b6b"/><rect y="373.8" fill="#f14d4d"/><rect y="374.8" fill="#f8a9a9"/><rect y="375.8" fill="#f58585"/><rect y="376.8" fill="#f58686"/><rect y="377.8" fill="#f57d7d"/><rect y="378.8" fill="#f36767"/><rect y="379.8" fill="#f8a4a4"/><rect y="380.8" fill="#f8a8a8"/><rect y="381.8" fill="#f79595"/><rect y="382.8" fill="#f47373"/><rect y="383.8" fill="#f57b7b"/><rect y="384.8" fill="#f47676"/><rect y="385.8" fill="#f58585"/><rect y="386.8" fill="#f58080"/><rect y="387.8" fill="#f79a9a"/><rect y="388.8" fill="#f68e8e"/><rect y="389.8" fill="#f8a2a2"/><rect y="390.8" fill="#f15151"/><rect y="391.8" fill="#f58080"/><rect y="392.8" fill="#f79797"/><rect y="393.8" fill="#f79999"/><rect y="394.8" fill="#f14d4d"/><rect y="395.8" fill="#f68e8e"/><rect y="396.8" fill="#f36767"/><rect y="397.8" fill="#f14e4e"/><rect y="398.8" fill="#f69191"/><rect y="399.8" fill="#f58080"/><rect y="400.8" fill="#f58282"/><rect y="401.8" fill="#f57c7c"/><rect y="402.8" fill="#f9b0b0"/><rect y="403.8" fill="#f36464"/><rect y="404.8" fill="#f68b8b"/><rect y="405.8" fill="#f36363"/><rect y="406.8" fill="#f58080"/></g>
</g>
<rect x="761.8" y="73.6" width="18.2" height="10.3" fill="#ee2b2b"/>
<rect x="761.8" y="224.0" width="18.2" height="10.3" fill="#f1f7fe"/>
<rect x="761.8" y="83.6" width="18.2" height="10.3" fill="#f03b3b"/>
<rect x="761.8" y="234.0" width="18.2" height="10.3" fill="#dfeefc"/>
<rect x="761.8" y="93.5" width="18.2" height="10.3" fill="#f14c4c"/>
<rect x="761.8" y="244.0" width="18.2" height="10.3" fill="#cee4fa"/>
<rect x="761.8" y="103.5" width="18.2" height="10.3" fill="#f25d5d"/>
<rect x="761.8" y="254.0" width="18.2" height="10.3" fill="#bddbf8"/>
<rect x="761.8" y="113.4" width="18.2" height="10.3" fill="#f36d6d"/>
<rect x="761.8" y="264.0" width="18.2" height="10.3" fill="#abd2f6"/>
<rect x="761.8" y="123.4" width="18.2" height="10.3" fill="#f57e7e"/>
<rect x="761.8" y="274.0" width="18.2" height="10.3" fill="#9ac8f5"/>
<rect x="761.8" y="133.3" width="18.2" height="10.3" fill="#f68e8e"/>
<rect x="761.8" y="284.0" width="18.2" height="10.3" fill="#89bff3"/>
<rect x="761.8" y="143.3" width="18.2" height="10.3" fill="#f79f9f"/>
<rect x="761.8" y="294.0" width="18.2" height="10.3" fill="#78b6f1"/>
<rect x="761.8" y="153.2" width="18.2" height="10.3" fill="#f9afaf"/>
<rect x="761.8" y="304.0" width="18.2" height="10.3" fill="#66acef"/>
<rect x="761.8" y="163.2" width="18.2" height="10.3" fill="#fac0c0"/>
<rect x="761.8" y="314.0" width="18.2" height="10.3" fill="#55a3ee"/>
<rect x="761.8" y="173.1" width="18.2" height="10.3" fill="#fbd0d0"/>
<rect x="761.8" y="324.0" width="18.2" height="10.3" fill="#4499ec"/>
<rect x="761.8" y="183.1" width="18.2" height="10.3" fill="#fde1e1"/>
<rect x="761.8" y="334.0" width="18.2" height="10.3" fill="#3290ea"/>
<rect x="761.8" y="193.0" width="18.2" height="10.3" fill="#fef1f1"/>
<rect x="761.8" y="344.0" width="18.2" height="10.3" fill="#2187e8"/>
<text x="787.0" y="81.2" style="font-size:18.5px">2</text>
<text x="787.0" y="151.2" style="font-size:18.5px">1</text>
<text x="787.0" y="220.7" style="font-size:18.5px">0</text>
<text x="787.0" y="290.7" style="font-size:18.5px">-1</text>
<text x="787.0" y="360.2" style="font-size:18.5px">-2</text>
<text x="167.8" y="58.5" style="font-size:35px">4- to 8-cell, k-means clustering, k=5</text>
<text x="141.5" y="441.0" style="font-size:33px"><tspan style="font-style:italic">wt</tspan>1</text>
<text x="247.0" y="441.0" style="font-size:33px"><tspan style="font-style:italic">wt</tspan>2</text>
<text x="355.5" y="441.0" style="font-size:33px"><tspan style="font-style:italic">wt</tspan>3</text>
<text x="458.0" y="441.0" style="font-size:33px"><tspan style="font-style:italic">MZ</tspan>1</text>
<text x="563.5" y="441.0" style="font-size:33px"><tspan style="font-style:italic">MZ</tspan>2</text>
<text x="672.0" y="441.0" style="font-size:33px"><tspan style="font-style:italic">MZ</tspan>3</text>
<rect x="1340.0" y="20.8" width="278.5" height="421.7" fill="#fff"/>
<line x1="1357.7" y1="20.8" x2="1357.7" y2="442.5" stroke="#ebebeb" stroke-width="1.1"/>
<line x1="1391.9" y1="20.8" x2="1391.9" y2="442.5" stroke="#ebebeb" stroke-width="0.8"/>
<line x1="1426.2" y1="20.8" x2="1426.2" y2="442.5" stroke="#ebebeb" stroke-width="1.1"/>
<line x1="1460.4" y1="20.8" x2="1460.4" y2="442.5" stroke="#ebebeb" stroke-width="0.8"/>
<line x1="1494.6" y1="20.8" x2="1494.6" y2="442.5" stroke="#ebebeb" stroke-width="1.1"/>
<line x1="1528.8" y1="20.8" x2="1528.8" y2="442.5" stroke="#ebebeb" stroke-width="0.8"/>
<line x1="1563.1" y1="20.8" x2="1563.1" y2="442.5" stroke="#ebebeb" stroke-width="1.1"/>
<line x1="1597.3" y1="20.8" x2="1597.3" y2="442.5" stroke="#ebebeb" stroke-width="0.8"/>
<line x1="1340.0" y1="55.4" x2="1618.5" y2="55.4" stroke="#ebebeb" stroke-width="1.1"/>
<line x1="1340.0" y1="114.2" x2="1618.5" y2="114.2" stroke="#ebebeb" stroke-width="1.1"/>
<line x1="1340.0" y1="172.9" x2="1618.5" y2="172.9" stroke="#ebebeb" stroke-width="1.1"/>
<line x1="1340.0" y1="231.7" x2="1618.5" y2="231.7" stroke="#ebebeb" stroke-width="1.1"/>
<line x1="1340.0" y1="290.4" x2="1618.5" y2="290.4" stroke="#ebebeb" stroke-width="1.1"/>
<line x1="1340.0" y1="349.1" x2="1618.5" y2="349.1" stroke="#ebebeb" stroke-width="1.1"/>
<line x1="1340.0" y1="407.9" x2="1618.5" y2="407.9" stroke="#ebebeb" stroke-width="1.1"/>
<rect x="1340" y="20.8" width="278.5" height="421.7" fill="none" stroke="#7a7a7a" stroke-width="1.3"/>
<line x1="1336.0" y1="55.4" x2="1340.0" y2="55.4" stroke="#333" stroke-width="1.1"/>
<line x1="1336.0" y1="114.2" x2="1340.0" y2="114.2" stroke="#333" stroke-width="1.1"/>
<line x1="1336.0" y1="172.9" x2="1340.0" y2="172.9" stroke="#333" stroke-width="1.1"/>
<line x1="1336.0" y1="231.7" x2="1340.0" y2="231.7" stroke="#333" stroke-width="1.1"/>
<line x1="1336.0" y1="290.4" x2="1340.0" y2="290.4" stroke="#333" stroke-width="1.1"/>
<line x1="1336.0" y1="349.1" x2="1340.0" y2="349.1" stroke="#333" stroke-width="1.1"/>
<line x1="1336.0" y1="407.9" x2="1340.0" y2="407.9" stroke="#333" stroke-width="1.1"/>
<line x1="1357.7" y1="442.5" x2="1357.7" y2="446.5" stroke="#333" stroke-width="1.1"/>
<text x="1357.7" y="462.5" style="font-size:16px" text-anchor="middle" fill="#333">0.02</text>
<line x1="1426.2" y1="442.5" x2="1426.2" y2="446.5" stroke="#333" stroke-width="1.1"/>
<text x="1426.2" y="462.5" style="font-size:16px" text-anchor="middle" fill="#333">0.04</text>
<line x1="1494.6" y1="442.5" x2="1494.6" y2="446.5" stroke="#333" stroke-width="1.1"/>
<text x="1494.6" y="462.5" style="font-size:16px" text-anchor="middle" fill="#333">0.06</text>
<line x1="1563.1" y1="442.5" x2="1563.1" y2="446.5" stroke="#333" stroke-width="1.1"/>
<text x="1563.1" y="462.5" style="font-size:16px" text-anchor="middle" fill="#333">0.08</text>
<text x="1478.8" y="477.5" style="font-size:12.5px" text-anchor="middle" fill="#222">GeneRatio</text>
<text x="1331.6" y="16.5" style="font-size:21px">GO:BP enrichment of cluster 5</text>
<circle cx="1605.5" cy="55.4" r="12.4" fill="#1d3249"/>
<circle cx="1585.3" cy="114.2" r="12.1" fill="#f7941d"/>
<circle cx="1543.6" cy="172.9" r="11.5" fill="#1f3247"/>
<circle cx="1459.0" cy="231.7" r="10.0" fill="#20344a"/>
<circle cx="1459.0" cy="290.4" r="10.0" fill="#0b2a45"/>
<circle cx="1395.4" cy="349.1" r="8.4" fill="#22364b"/>
<circle cx="1352.9" cy="407.9" r="5.3" fill="#22364b"/>
<text x="1323.8" y="47.6" style="font-size:28px" text-anchor="end">regulation of multicellular</text>
<text x="1323.8" y="79.9" style="font-size:28px" text-anchor="end">organismal process</text>
<text x="1323.8" y="121.9" style="font-size:28px" text-anchor="end">skeletal system development</text>
<text x="1323.8" y="177.0" style="font-size:28px" text-anchor="end">regulation of cell differentiation</text>
<text x="1323.8" y="220.7" style="font-size:28px" text-anchor="end">embryonic skeletal system</text>
<text x="1323.8" y="254.2" style="font-size:28px" text-anchor="end">morphogenesis</text>
<text x="1323.8" y="285.5" style="font-size:28px" text-anchor="end">embryonic skeletal system</text>
<text x="1323.8" y="319.3" style="font-size:28px" text-anchor="end">development</text>
<text x="1323.8" y="358.0" style="font-size:28px" text-anchor="end">cytokine production</text>
<text x="1323.8" y="405.0" style="font-size:28px" text-anchor="end">negative regulation of cytokine</text>
<text x="1323.8" y="438.0" style="font-size:28px" text-anchor="end">production</text>
<defs><linearGradient id="pg" x1="0" y1="0" x2="0" y2="1"><stop offset="0" stop-color="#132b45"/><stop offset="0.35" stop-color="#3b3a3a"/><stop offset="0.7" stop-color="#9a6a2a"/><stop offset="1" stop-color="#f7941d"/></linearGradient></defs>
<text x="1646.0" y="40.5" style="font-size:17.5px">p.adjust</text>
<rect x="1645.9" y="51.3" width="29.4" height="148.1" fill="url(#pg)"/>
<line x1="1645.9" y1="65.9" x2="1651.0" y2="65.9" stroke="#ddd" stroke-width="1"/>
<line x1="1670.2" y1="65.9" x2="1675.3" y2="65.9" stroke="#ddd" stroke-width="1"/>
<text x="1685.0" y="71.1" style="font-size:14.5px">0.08</text>
<line x1="1645.9" y1="102.8" x2="1651.0" y2="102.8" stroke="#ddd" stroke-width="1"/>
<line x1="1670.2" y1="102.8" x2="1675.3" y2="102.8" stroke="#ddd" stroke-width="1"/>
<text x="1685.0" y="108.0" style="font-size:14.5px">0.06</text>
<line x1="1645.9" y1="139.8" x2="1651.0" y2="139.8" stroke="#ddd" stroke-width="1"/>
<line x1="1670.2" y1="139.8" x2="1675.3" y2="139.8" stroke="#ddd" stroke-width="1"/>
<text x="1685.0" y="145.0" style="font-size:14.5px">0.04</text>
<line x1="1645.9" y1="176.5" x2="1651.0" y2="176.5" stroke="#ddd" stroke-width="1"/>
<line x1="1670.2" y1="176.5" x2="1675.3" y2="176.5" stroke="#ddd" stroke-width="1"/>
<text x="1685.0" y="181.7" style="font-size:14.5px">0.02</text>
<text x="1646.0" y="253.5" style="font-size:17.5px">Count</text>
<circle cx="1665.0" cy="279.9" r="6.8" fill="#000"/>
<text x="1694.0" y="285.1" style="font-size:14.5px">3</text>
<circle cx="1665.0" cy="309.8" r="11.3" fill="#000"/>
<text x="1694.0" y="315.0" style="font-size:14.5px">6</text>
<circle cx="1665.0" cy="340.2" r="13.3" fill="#000"/>
<text x="1694.0" y="345.4" style="font-size:14.5px">9</text>
<circle cx="1665.0" cy="374.0" r="14.7" fill="#000"/>
<text x="1694.0" y="379.2" style="font-size:14.5px">12</text>
<circle cx="1665.0" cy="411.3" r="16.0" fill="#000"/>
<text x="1694.0" y="416.5" style="font-size:14.5px">15</text>
<line x1="226.8" y1="611.0" x2="226.8" y2="944.5" stroke="#dcdcdc" stroke-width="1.2"/>
<line x1="226.8" y1="537.5" x2="226.8" y2="589.0" stroke="#dcdcdc" stroke-width="1.2"/>
<line x1="288.6" y1="611.0" x2="288.6" y2="944.5" stroke="#dcdcdc" stroke-width="1.2"/>
<line x1="288.6" y1="537.5" x2="288.6" y2="589.0" stroke="#dcdcdc" stroke-width="1.2"/>
<line x1="350.5" y1="611.0" x2="350.5" y2="944.5" stroke="#dcdcdc" stroke-width="1.2"/>
<line x1="350.5" y1="537.5" x2="350.5" y2="589.0" stroke="#dcdcdc" stroke-width="1.2"/>
<line x1="412.4" y1="611.0" x2="412.4" y2="944.5" stroke="#dcdcdc" stroke-width="1.2"/>
<line x1="412.4" y1="537.5" x2="412.4" y2="589.0" stroke="#dcdcdc" stroke-width="1.2"/>
<line x1="474.3" y1="611.0" x2="474.3" y2="944.5" stroke="#dcdcdc" stroke-width="1.2"/>
<line x1="474.3" y1="537.5" x2="474.3" y2="589.0" stroke="#dcdcdc" stroke-width="1.2"/>
<line x1="536.1" y1="611.0" x2="536.1" y2="944.5" stroke="#dcdcdc" stroke-width="1.2"/>
<line x1="536.1" y1="537.5" x2="536.1" y2="589.0" stroke="#dcdcdc" stroke-width="1.2"/>
<line x1="598.0" y1="611.0" x2="598.0" y2="944.5" stroke="#dcdcdc" stroke-width="1.2"/>
<line x1="598.0" y1="537.5" x2="598.0" y2="589.0" stroke="#dcdcdc" stroke-width="1.2"/>
<line x1="659.9" y1="611.0" x2="659.9" y2="944.5" stroke="#dcdcdc" stroke-width="1.2"/>
<line x1="659.9" y1="537.5" x2="659.9" y2="589.0" stroke="#dcdcdc" stroke-width="1.2"/>
<line x1="165.3" y1="891.2" x2="680.5" y2="891.2" stroke="#d4d4d4" stroke-width="1.3"/>
<line x1="165.3" y1="851.9" x2="680.5" y2="851.9" stroke="#d4d4d4" stroke-width="1.3"/>
<line x1="165.3" y1="812.6" x2="680.5" y2="812.6" stroke="#d4d4d4" stroke-width="1.3"/>
<line x1="165.3" y1="773.3" x2="680.5" y2="773.3" stroke="#d4d4d4" stroke-width="1.3"/>
<line x1="165.3" y1="734.0" x2="680.5" y2="734.0" stroke="#d4d4d4" stroke-width="1.3"/>
<line x1="165.3" y1="694.7" x2="680.5" y2="694.7" stroke="#d4d4d4" stroke-width="1.3"/>
<line x1="165.3" y1="655.4" x2="680.5" y2="655.4" stroke="#d4d4d4" stroke-width="1.3"/>
<line x1="165.3" y1="616.1" x2="680.5" y2="616.1" stroke="#d4d4d4" stroke-width="1.3"/>
<line x1="165.3" y1="537.7" x2="680.5" y2="537.7" stroke="#d4d4d4" stroke-width="1.3"/>
<line x1="165.3" y1="575.3" x2="680.5" y2="575.3" stroke="#d4d4d4" stroke-width="1.3"/>
<line x1="165.3" y1="537.5" x2="165.3" y2="589.0" stroke="#444" stroke-width="1.3"/>
<line x1="165.3" y1="612.5" x2="165.3" y2="930.5" stroke="#444" stroke-width="1.3"/>
<line x1="165.3" y1="930.5" x2="678.0" y2="930.5" stroke="#444" stroke-width="1.6"/>
<line x1="148.5" y1="592.2" x2="178.4" y2="604.8" stroke="#333" stroke-width="1.2"/>
<line x1="148.5" y1="604.0" x2="178.4" y2="615.7" stroke="#333" stroke-width="1.2"/>
<defs><marker id="mvc" markerUnits="userSpaceOnUse" markerWidth="8" markerHeight="8" refX="4" refY="4" overflow="visible"><circle cx="4" cy="4" r="2.55" fill="#5ca8f4" stroke="#2e8ae8" stroke-width="1.3"/></marker></defs>
<path d="M387.1 880M426.7 920.3M384.5 927.6M415.7 927M387.3 929.7M385.4 923.5M455.3 892.5M441.7 930.3M481 892.2M410.2 927.2M419.7 922.9M420.9 930.3M424.1 930.4M434.5 917M373.1 908.6M434.7 906.2M380.9 914.6M417.4 928.8M499 868.7M416.1 923.4M410.2 929.7M433.7 930.1M419.9 912.5M392.4 921.4M463.7 930.5M404.8 929M440.9 870.8M402.4 924.7M448.6 886.6M432.8 925.7M436.4 877.7M428.9 903.3M431.1 929.7M421.9 920.1M432 929.2M454.8 897.4M436.6 927M434.6 925.4M461.2 921.5M409.2 921.5M423.4 905.5M441.4 902.4M477.6 925.4M461.3 923.8M420.5 927.6M395.5 930.1M445 925.3M434.9 908.7M398.5 893.8M437 915M373 927.2M394.9 928.9M455.7 924.5M392.5 928M413.4 930.3M358.7 859M442.2 917.2M394.6 929.7M479 924.3M432.6 903.3M463.4 922M435.2 930.1M452.6 925.5M372.3 900.7M399.7 926.7M431.9 930.5M405.5 926.9M411.6 928M453.3 893.4M412.9 929.7M422.5 904.4M398.1 930.5M356.8 895.5M377.5 921.8M421.8 901.2M445 892.4M431.5 889.8M414.2 926.1M378.9 873.6M394.9 892M447.5 877.4M379.4 879.6M439.1 908.6M400.2 916.9M448.3 862.6M434.4 887.9M414 927.1M393 911.8M373.4 929.7M434.6 898.3M450.3 911.7M423.6 928.1M408.1 924.3M389.8 883.6M421.1 916.8M421.8 906M431.8 907M368.6 920.6M436 903.6M425.7 904.5M442.3 876.7M435.2 909.8M400.7 926.1M436.4 889.6M439.2 885.9M402.7 927.5M358.6 927.3M398.4 928M423.4 923.7M397 925.2M396.8 899.2M444.3 929.9M422.4 914M401.5 930.5M458.2 928.4M418.9 928.9M422.2 917.3M423.3 922.8M392.6 896.3M391 881.6M402.2 929.1M445.3 894.4M419.2 929.5M439.9 911.7M386.1 919.4M390 894.8M426.1 895.9M436 906.5M437.2 882M439.8 890.2M443.3 900.8M407.9 929.6M409.3 925.6M372.3 891.1M429.5 886.3M469.1 854.4M374.7 921.5M407.3 915.7M399.3 921.8M377.1 911.8M404.2 930.5M420.6 912.9M454.9 928.1M377.9 881.1M413.2 928.9M444.5 870.9M422.8 927.1M447.1 892.2M398 900.6M394.3 913.8M408.2 919.7M439.8 880.3M429.9 886.7M464 906.2M402.5 920.5M410 928M413.7 929M381.3 907.6M443.4 912.6M471.4 923M402.3 922.4M435.8 892M436.2 883.9M396 928.2M420.5 919.6M429 901.9M411.5 930.5M434 923.6M444.5 893.3M438.6 925.6M438 927.3M391.3 921.5M403 928.8M394.1 910.7M428.5 904.8M403.2 910.8M435 923.7M405 909.6M435 886.5M504.2 928.2M420 928.3M457.1 929.4M430.1 899.8M438.9 927.2M394.9 886.6M367.7 929M375.7 910.4M426.1 930.4M389.1 910.4M424 905.1M432.7 880.3M427.3 930.2M376.4 921.3M427.3 919.9M391.2 909.5M414.8 930.5M371.9 913.1M392.2 928.5M417 919.8M403.5 918.4M370.2 916.2M393.6 883.3M400.2 906.1M471.8 879.5M427.3 896.3M403 912.4M377.6 917.1M415.7 928.8M408 926.6M418.9 921.3M424 913.8M476.5 919M400.1 918.8M390.2 920.6M452.8 892.5M422.6 917.4M416.7 921.9M416.3 930.4M442.4 927.1M425.3 899.2M389.3 878.5M408.2 925.3M452.6 881.4M383.2 930.3M393.3 887.3M441 913M410.8 925.1M384.4 920.5M391.1 901.6M440.3 919.3M451.9 871.8M417.3 914.1M465.5 913.4M435.6 913.2M414.2 924.5M389.9 892.8M382.9 915.2M430.3 926.3M394.9 900.9M404.6 922.5M478.5 883.6M456.8 882.5M451.7 900M404.9 918.1M432.6 912.3M388 896.3M417.8 914.9M486.5 864.6M425.8 926.8M419.5 925.5M449.2 906.8M397.6 928M437.5 922M370.1 928.9M429.9 901.5M385.1 926.8M426.1 924M356.1 903.6M361.6 917.6M458.7 929.7M446.3 929.7M391.1 903.9M406.2 928.1M407.6 922.7M435.7 899.4M427.7 908.5M430.8 903.5M409.1 924.2M426.6 915.9M468.5 863.2M388.6 917.8M424.3 926M397.4 922.5M465.5 924.1M396.4 923.5M434.9 920.6M428.2 901.7M447.3 908.1M433.8 928.2M390.1 897.6M403.7 922.1M386.5 875.2M408.9 922.4M426.2 907.8M447.6 928.4M402.4 911.4M375.6 917.5M453.6 910.2M410.3 924M379.2 917.1M434.3 890.3M384.8 889.2M372.5 898.4M378.8 885.6M405.1 916.7M424 896.4M406.7 929.4M427.9 921.3M400.3 930.3M480.6 920.6M444.2 889.2M441 927.7M442.7 906.3M427.8 894.6M428.9 928.4M456.5 925.5M425.3 928.9M435.8 896.7M405.5 914.8M446.2 912.7M469 919M358 909.3M474.5 876.2M435.8 920.5M388 924.9M386.8 898.7M449.3 902.3M425.3 925.6M429.4 926.5M437.7 904.7M395.5 885.7M447.8 887.8M463.3 873.3M417.7 917.7M434.4 901M389.7 880.2M400.9 923.4M426.7 901.8M388.2 928.5M437.1 923.7M379 919.9M425.4 911.3M436.9 916.3M432.6 882.5M399.7 921.4M493.7 874.3M402.1 925.1M403.7 921.4M438.8 901.9M422.4 929.6M400.3 928.9M382.4 918.2M389 926.7M424.4 923.5M440.3 912.2M404.9 919.3M422.2 925M371.7 920.6M419.6 918.1M460.8 894.4M439.4 921.8M436.3 913.8M432.3 897.6M387 894.4M442.9 920.7M399.5 919.7M442 869M447.8 909.7M371.4 865.3M383.4 922.1M399.7 898M399.6 929.6M438.5 874.2M452.6 906.6M457.7 904.1M386.8 889.1M468.6 901.4M425.1 918M420.5 907.4M405.8 919.8M399.5 908.9M439.8 930.5M443.8 918.8M397.1 911.4M405.2 921.1M392.3 908.8M422.1 915.1M419.4 924.2M376.1 862.2M443 917.7M376 915.1M368.2 907.2M395.7 916.4M364.8 900.5M417.6 923.6M436.3 919.8M453.5 907.7M472.1 891.9M383.2 882.2M377.9 926M438.6 895.5M368.5 929.4M395.5 900.7M439.3 875.7M438.2 930.1M453.3 916.8M389.5 921.9M407 914.3M444.5 867.7M400.8 926.6M420.2 908.7M430.4 896.1M407.5 927.9M402.4 906M420 906.2M427.7 928.3M450.8 874.4M428.5 905.8M421 927.1M457.8 889.8M397.9 921M362.3 929.7M433.8 895.9M392 889.4M443.5 905.5M438.1 902.2M452.2 861.2M389.1 912.8M428.5 930.3M427.9 927.1M448 874.2M423.8 922M416.9 921.3M455.1 927.2M423.5 920.7M388.1 888.5M389.9 928.2M420.1 920.3M377.7 886.5M432.9 896.7M445.9 905.5M372.2 927.2M446.1 915.6M461.5 866.3M389.2 894.2M395.5 926.3M396.5 913.7M456.3 927.4M441.6 925.2M437.7 888.9M449.3 885.4M440.9 920.4M424.5 920.6M416 922.7M431.1 918.7M401.1 923.2M497.9 878.6M436.1 926.2M431.1 923.6M451.1 930.3M410.4 926.7M439.1 882.3M392.5 917.9M447 887.1M439.7 909.9M431.7 917.9M442.5 898.8M428.2 922.8M404.6 930.3M434.9 883.3M438.9 893.7M461.7 920.4M442.9 890.5M431 911.5M441.4 928.8M398.8 911.8M430.7 904.5M397.1 897.7M451.9 904.9M422.7 909M454.3 863.4M429.6 910.3M403.7 927.7M442.9 928.2M433.5 905.4M418 927.7M428.3 921.3M436.4 900.7M443.9 908.1M393.5 924M454 911.9M371.2 918.8M376.6 905.1M457.1 898.4M402.3 917.3M395.6 926M435 884.5M439.5 920.9M384.3 908.8M407 917.4M402.1 914.1M462.3 927.7M407 922.7M385.5 920.5M386.8 925.7M437.9 893.8M443.3 880.5M446.8 918M398.9 925.3M396.4 898.3M453.5 879M393.8 904.6M439 929.1M378.5 918.9M366.8 859.5M387.2 928.9M485.1 930.1M432.1 925.3M372.4 917.2M386.2 873.3M388.9 920.3M422.7 902.6M445.5 924.6M424.8 894.3M432.1 916.9M464.9 914.5M388.5 880.3M469.8 912.1M357.5 873.7M424 909.7M445 926.5M420.9 922M378.4 885.3M437.2 874.5M380 929.4M441.2 897.3M432.7 895.5M394.1 923.1M443.9 924M400.3 918.5M438.6 913.3M399.4 918.2M429.8 888.1M431.7 924.1M466.3 883.3M474.3 912.8M463.5 858.3M454.2 921M426.8 890.6M438.6 928.6M401.4 915.4M378.8 880M382.8 903.2M385.3 929.3M392.1 919.8M404 919.8M429.2 913.9M416.7 927M389.7 882.3M341 882.6M343 866.7M469.9 908.4M471.1 924.6M436.6 880M426.1 891.8M389 930.1M444.1 925.1M388.9 892.6M387.9 886.5M424 927.8M389.4 893.6M443.4 908.6M383.8 878.7M439.5 884M422.6 908M428.9 922.3M427.9 898.6M377.8 929.9M381.6 867.7M450.9 890.6M405.9 921.1M391.3 929.4M449 919.6M455.3 888.2M376.5 916.8M438.2 916.2M358.4 918.9M414.9 925.6M449.8 875.9M464.7 911.6M439.8 895M360 922M439.7 899.1M432.3 919.9M405.8 927.4M438 907.8M373.8 906.7M460.1 929.5M389.4 903.8M445.5 920.8M465.8 930.4M381.1 902.1M394.3 918.5M401.2 898.7M387.7 875.5M442.1 885.5M335.3 909.7M438.4 872.6M374.8 912.6M466.2 859.8M450.8 922.3M445.4 911M396.8 903.1M421.6 923.6M391.7 891.8M425.8 894M405.7 923.6M378.5 909M429.1 925.3M442.6 879.3M447.6 910.9M400.9 910.5M392.8 930.3M428.8 898.3M445.4 908.1M399.5 908.2M419.1 924.4M442.6 870.7M364.9 918.1M382.5 905.4M432.7 910.7M405.8 923.9M444 891.4M420.9 927.9M424.7 902.9M453.8 860.1M428.2 925M382.9 891.8M450.4 906.4M353.2 929.7M422.6 911.8M390.4 929.3M474.4 860.6M423.5 919.6M453.3 911.8M452.6 930.4M395.4 908.1M379.5 918.5M418.9 916.8M449.5 927.7M397.8 919.6M457.3 924M459.8 917.4M386.1 909.6M431.4 883.5M454.7 904.1M425.7 917.3M421.2 912.6M426.9 913.7M384.8 877.7M408.6 918.3M395.5 905.4M417.4 924.9M435.6 915.5M406.9 916.5M393.4 902.4M397.7 917.1M370.5 924.1M472.1 917.6M436.8 893.4M477.5 857.5M405.9 909.4M423.5 914.4M449 863.4M444 910.4M400.9 912.2M448.7 928.6M397.6 893.5M450.4 863.2M471 869.8M445.8 904.7M391.4 884.5M355.1 930.3M371.8 930.4M384.2 907.4M419.4 930.5M435.8 890.4M352.6 914.5M437 894.8M450.1 920.7M393.1 891M395.6 909.4M424.5 926.4M380.7 909M454.4 924.7M353 917.1M455.8 919M481.3 915.6M377.3 928.6M428 924.4M375.5 885M431.3 901.9M431.3 885M466.2 861.5M386.1 928.7M465.3 887.9M446.8 869M390.5 917.6M431.6 923.1M432.1 914.7M402.1 903.1M456.3 909M353.4 898.3M394.6 888M422.8 911M422.1 913.2M422.1 910.4M399.9 921M432.8 885M428.2 917.6M407.4 913.8M432.1 926.8M404.8 908.2M448.3 920.3M361.4 907.1M446.3 924.2M397 918.4M382.1 870.2M378.4 874.7M391.3 912.3M416.7 917M389 924.5M419.2 914.2M439.9 872.1M376.7 883.7M422.2 909.5M472.9 906.4M393.1 910.1M453.9 869.1M449.8 930M402.7 916M471.6 868M432.3 899.8M452.4 860.8M445.9 887.3M386.1 883.9M363.5 896.4M392.4 916.4M422.4 916.2M400.2 907.8M389.3 925.2M431.1 905.9M450.4 867.4M389.9 884.4M466.9 922M450.2 865M465.4 905.1M398.6 915.7M398.7 894.9M432.8 913.5M406.5 910.9M401.6 910.2M442.7 895.2M395.9 910M356.5 866.6M425.8 921.8M388 901.9M437.9 906.1M431.8 892.2M415.9 920.4M461.1 912.5M390.4 887.9M379.7 867.3M454.5 883.2M387.3 896.8M438.8 923.8M357.6 892.3M350.2 918.8M404.1 925.5M469 900.5M437.8 919.8M374.8 903.4M407.5 920.5M456 905.8M357.4 902.1M394.7 898.7M342.6 900.6M403.2 904M450.7 922.4M382 919.3M443 922.7M376 927.4M425.1 906M424.4 909.9M445.9 930.4M372.8 892.6M396.2 920.3M386.6 873.2M451.3 864.1M402.9 924M439.7 887.4M398.5 924.3M400.7 903.3M453.9 930M374.2 902.4M474.4 868.6M442.3 908.1M429.4 918.8M396 894.6M391.3 903.5M392 915.8M396.3 917.7M387.3 892.8M449.3 895.5M382.8 898M390.1 911.9M473.1 861.6M365.3 875.8M434 880.2M396.1 896.6M427.1 889.7M437.1 929.4M363.2 913.3M447.4 926.2M395.6 919.9M434.7 905.1M435.9 878.9M433 899.2M380.8 930.1M460.6 928.3M434.6 927.9M394.7 889.1M394.9 897.7M401.9 900.2M438.9 873.1M385.5 901.3M427.8 916.9M423 899.3M429.6 891.3M429.7 917.3M370.6 899.8M426.9 906.4M377.8 882.6M451.1 927.6M396 915.7M437.5 893.2M363.9 916.3M383.7 870.7M367.8 900.4M403.8 908.4M464.7 894.1M417 915.6M432.9 912.1M437.1 929M447.7 914.5M462.8 923.6M360.4 917.8M378 879.4M421.9 904.2M430.6 927.8M354.1 897.1M355.8 853.9M453.7 909.3M352.8 867.9M466.8 902.1M360.5 923.3M299.3 860.8M486.7 904.1M429.3 914.7M507.5 920.4M330.5 913.5M370.2 913.8M435.1 923.1M394.4 923.7M352.5 912.4M369.5 923.8M349.9 925.9M496.3 930.5M462.7 928.9M483.4 930M367.5 897.2M472.2 930.2M430.4 915.2M490.8 925.6M375.4 924.2M386.1 890.3M488.5 848M485 919.7M398.1 915.2M492.2 930.3M369.6 912M459.5 864.6M467.8 869.5M482.5 927.4M336.3 912M393.5 922.1M344.5 928.9M444.7 891.8M436.9 918.7M390.8 924.4M382.7 928.6M486.5 928.6M364.1 885.6M513.2 910.8M328.1 886.3M456 900.4M456.7 884.9M334.5 888.6M462.9 881M456.8 919.5M464.1 868.5M474.8 929.7M503.3 849.2M464.6 923.1M384.3 903.1M362.5 921.5M351.6 926.8M433.4 915.4M474 898.2M470.3 919M431.1 896.7M348.6 863.7M506.2 893.7M483.8 899.9M484.8 854.4M423.4 925.1M348.6 876.3M342 885.1M442.2 929.9M330.1 928M447.8 875.6M368.5 907.1M376.1 890.5M482.2 929.5M455.2 889.2M394.4 920.5M375.5 927.5M441.1 915.1M565.9 842.9M470 851.7M497.6 926.7M328.5 925.4M467.2 928.9M389.7 924.7M491.3 870.2M369.4 914.4M440.9 922.9M347.5 884.3M440.8 924.5M429.7 923.9M508.1 930.4M451.2 907.1M445.6 928.4M503.7 924.1M339.5 909.7M385.5 899.5M461.1 902.3M316.5 832.1M447.9 871.9M459.6 927M356.5 864.6M375.6 924.8M402.6 919.4M366.8 918M371.7 925M433.7 920.1M361.3 876.1M482.4 887.1M370.6 915.1M356.1 906.6M430 910.8M407.2 926.1M331.6 930.2M357.1 911M334.4 927.3M504.8 895.3M470.9 909.1M485.1 878.2M383.8 930.5M515.9 924.1M318.7 921.4M487.8 877.8M395.7 922.5M457.6 897.3M454.2 918.2M448.2 916.1M446.2 880.3M497.5 924.4M368.7 925.8M351 897.5M437.6 924.3M462.6 930.5M497.4 930.3M456.6 873.8M417.9 919.5M442.8 880.4M365.1 886.5M482.9 843.2M454.2 869.7M504.5 853.8M376.9 889.5M315.3 825.3M386.8 907.4M354.5 918.2M367.7 915M354 860.6M458.4 896.5M518.5 887.3M432.7 909.3M386.5 899.3M361 859.5M477.4 910.3M281 930.5M486 860.8M474.9 860.2M463.7 920M388.5 908.8M466.5 900.7M341 918.6M461.3 859.3M477.2 930.5M519.5 902M381.3 914.1M452.7 890.8M399.6 910.9M356.4 884.7M444.4 898.7M428.7 907.7M505.2 927.4M371.9 929.1M372.3 869.3M380.7 877.8M486.4 923.2M397.9 927.2M483.8 887.7M545.4 835.3M334.8 847.6M512.1 891.9M360.5 880.8M515.7 855.5M458.3 911.7M308.6 878M344.1 875.1M520.8 862.4M279.6 929.9M459.7 925.9M337.7 920M509.5 855.8M333.4 923.8M491.8 847.6M527.3 832.6M357.2 894.3M511.6 912.2M302.4 924M473.7 902.8M484.2 912.8M499.4 850.1M310 926.7M511 871.9M497.1 891.5M473.2 928.6M380.3 892M451.8 913.9M517.8 877.2M437.5 900.1M311 853.2M364 923.5M329.7 836.4M461.5 886.6M502.9 921.8M344.3 894.3M488.4 843.1M448.8 913.9M470.8 911.4M464.9 877.4M376.3 930.3M357.5 928.5M373.2 924.9M454.8 901M451.4 917.6M481.9 923.4M372.5 873.9M488.2 875.5M486.2 874.5M519.6 841.1M350.3 899.7M521.2 922M471.9 923.4M484.4 916.9M504.6 856.2M381.6 878.9M327.7 889.5M349.6 899.5M463.1 925.2M357.8 887.7M342.8 925.1M466.4 914.3M428 908.2M362.6 901.5M392.2 918.2M362.9 925.7M457.8 874.1M457.1 867.3M482.2 910M379.7 908.4M379.9 925M346.1 925.7M304.5 886.1M351.2 903.2M341.3 845.8M477.4 843M352.7 913.1M352.5 903.6M364.8 895.9M369.7 913.6M471.1 927.8M253.1 929.3M556.1 829.4M384.2 928.9M326.6 928.9M358 879.4M431 917M365 903M530.1 920.9M324.7 930.2M379.2 928.8M371.9 905.6M379 893.6M381.4 894.9M430.8 919.3M555.3 915.3M498 881.2M518 845.6M373.4 908M542.8 930.5M500.4 930.1M490 858.6M482.4 924.4M380.3 922M396.1 903.2M474.6 923.2M344.4 925.1M349.1 844.2M474.4 906.6M456.1 930.4M473.3 926.7M451.1 925.5M366.3 896.2M488.8 909.8M392.2 906.4M329.5 923.4M478.1 851M336.7 844.6M456.9 915M362.6 929.1M359.1 891.9M326 919M373.9 919.9M476.5 905.9M382.2 926.8M376.8 901.5M358.6 910M419 917.9M461.5 912M417.8 925.7M445.3 883.7M505.3 923.8M331.1 892.5M374.6 904.1M388.6 915.8M388.8 899.2M379.5 913.5M525.4 851.4M321.1 866.7M361.5 929.5M378.8 926.7M386 925.1M322.4 919M370.2 902.3M436.7 904.4M330.3 836.2M368.7 899.9M381.1 887.9M457.7 867.8M437.2 909.2M336 904.3M446.9 890.8M491 923.2M480.7 897.6M318 873.4M476 900.7M319.7 880.1M347.7 930.2M472 926.3M349.7 924M365.3 920.5M339.9 913.9M316.6 926.1M334.7 878.5M318.6 927.5M545.1 845M364.2 929.9M350.7 926M466.5 925.7M484.4 893.4M331.8 920.8M517.9 852.6M508.1 878.6M322 870.2M491.1 910.3M375.6 930.4M363 914.9M468.9 930.5M379.3 924.3M312.7 899.2M528.5 851.2M348.8 926.6M433.5 910.8M376 922M463.5 911.5M444.3 928M283.5 892.5M452.7 921.7M362.9 908.1M453 922.9M314.8 922.3M566.1 918.6M439.4 912.8M482.8 915.6M467.7 929.8M588.3 833.8M501 857.3M281 901M469.3 922.5M518.8 896.4M480.2 930.1M430.7 920.3M343.9 896.3M493.7 930.4M621.7 840.4M461.6 919.1M510.1 898M305.9 919.9M514.6 914.8M319.9 930.4M362.9 884.6M306.7 885M325.3 863.4M348.1 900.4M346.7 915.3M335.7 930.3M308.1 903.7M248.9 909.6M325.9 929.1M315 904.9M471.7 929.5M305.6 856.1M503.6 929.3M336.3 927.8M313.6 860M330.1 872.2M455.4 915.2M276.1 881.8M536.1 883.5M470.4 914.1M515.5 929M505.6 885.4M326.1 930.3M483.7 928.4M317.6 930.3M496.4 899.4M274.1 927.9M346.1 889.6M593.3 899.9M404.8 925.2M290.8 882.4M181.8 909.1M315.9 907.6M299.8 855.5M388.2 912.1M590 920.7M524.7 901.8M286.3 881.2M323.2 911.8M551.6 879.1M462.8 899.3M382.8 925.5M366.8 929.4M562.4 930.5M329 930.3M348.2 915.3M341.4 928.5M332.4 910.7M525.9 886.3M444.6 914.7M520.8 880.2M230.3 820.3M376.7 910M546.7 908M340.2 925.2M437.3 912M321.1 930.3M292.6 930.5M432.7 913.3M345.6 930.3M520 930.3M539.4 849.3M489.1 876.7M295.5 929M434 927.3M564.2 927.3M527.5 904M339.2 924.8M385.2 922M335.9 889M490.9 924.4M452.9 897.2M372 924M355.8 915.5M444.9 919.4M474.1 930.3M205.7 928M297.3 929.5M374.5 914.5M515.7 873.7M300.3 928.1M370.5 917.3M518.3 902.3M354.4 928.5M516.3 930.2M451.6 902.4M458.2 890.4M495.1 923.8M351.7 884.7M189.8 906.1M298.9 914.9M526.6 893.4M557.6 895.2M579.7 884.3M304.5 893.6M311.3 903.6M266.9 869.6M548.1 888.8M263.9 903.7M525.8 926.6M288.8 927.2M283.4 904M301 906.6M662.8 897.3M301.5 876.7M218 927.2M433.6 920.5M499.8 889.7M553.5 887.1M188.6 853.1M276.5 927M512.7 902.6M383.6 915.4M514.3 892.3M466.7 913.3M174.8 836.2M207 869.2M211.9 839.3M293.6 696.3M288.6 724.6M459.4 637.3M486.6 652.3M536.1 660.1M447 686.8M466.8 718.3M471.8 719.9M375.3 727.7M392.6 726.9M437.1 741.9M444.6 740.3M600.5 747.4M357.9 759.2M382.7 763.1M320.8 773.3M655 834.6M605.4 880.2M617.8 875.5M325.8 781.2M296.1 796.9M0 0" fill="none" stroke="none" marker-start="url(#mvc)" marker-mid="url(#mvc)"/>
<text x="143.0" y="547.0" style="font-size:20.5px" text-anchor="end">250</text>
<text x="143.0" y="624.6" style="font-size:20.5px" text-anchor="end">40</text>
<text x="143.0" y="702.2" style="font-size:20.5px" text-anchor="end">30</text>
<text x="143.0" y="780.7" style="font-size:20.5px" text-anchor="end">20</text>
<text x="143.0" y="858.8" style="font-size:20.5px" text-anchor="end">10</text>
<text x="143.0" y="937.0" style="font-size:20.5px" text-anchor="end">0</text>
<text x="162.5" y="960.5" style="font-size:20.5px" text-anchor="middle">-10</text>
<text x="287.5" y="960.5" style="font-size:20.5px" text-anchor="middle">-5</text>
<text x="412.4" y="960.5" style="font-size:20.5px" text-anchor="middle">0</text>
<text x="536.7" y="960.5" style="font-size:20.5px" text-anchor="middle">5</text>
<text x="661.2" y="960.5" style="font-size:20.5px" text-anchor="middle">10</text>
<line x1="1129.4" y1="604.0" x2="1129.4" y2="943.0" stroke="#dcdcdc" stroke-width="1.2"/>
<line x1="1129.4" y1="531.8" x2="1129.4" y2="602.6" stroke="#dcdcdc" stroke-width="1.2"/>
<line x1="1205.2" y1="604.0" x2="1205.2" y2="943.0" stroke="#dcdcdc" stroke-width="1.2"/>
<line x1="1205.2" y1="531.8" x2="1205.2" y2="602.6" stroke="#dcdcdc" stroke-width="1.2"/>
<line x1="1281.1" y1="604.0" x2="1281.1" y2="943.0" stroke="#dcdcdc" stroke-width="1.2"/>
<line x1="1281.1" y1="531.8" x2="1281.1" y2="602.6" stroke="#dcdcdc" stroke-width="1.2"/>
<line x1="1357.0" y1="604.0" x2="1357.0" y2="943.0" stroke="#dcdcdc" stroke-width="1.2"/>
<line x1="1357.0" y1="531.8" x2="1357.0" y2="602.6" stroke="#dcdcdc" stroke-width="1.2"/>
<line x1="1432.9" y1="604.0" x2="1432.9" y2="943.0" stroke="#dcdcdc" stroke-width="1.2"/>
<line x1="1432.9" y1="531.8" x2="1432.9" y2="602.6" stroke="#dcdcdc" stroke-width="1.2"/>
<line x1="1508.8" y1="604.0" x2="1508.8" y2="943.0" stroke="#dcdcdc" stroke-width="1.2"/>
<line x1="1508.8" y1="531.8" x2="1508.8" y2="602.6" stroke="#dcdcdc" stroke-width="1.2"/>
<line x1="1584.6" y1="604.0" x2="1584.6" y2="943.0" stroke="#dcdcdc" stroke-width="1.2"/>
<line x1="1584.6" y1="531.8" x2="1584.6" y2="602.6" stroke="#dcdcdc" stroke-width="1.2"/>
<line x1="1053.4" y1="892.5" x2="1640.5" y2="892.5" stroke="#d4d4d4" stroke-width="1.3"/>
<line x1="1053.4" y1="854.0" x2="1640.5" y2="854.0" stroke="#d4d4d4" stroke-width="1.3"/>
<line x1="1053.4" y1="815.5" x2="1640.5" y2="815.5" stroke="#d4d4d4" stroke-width="1.3"/>
<line x1="1053.4" y1="777.0" x2="1640.5" y2="777.0" stroke="#d4d4d4" stroke-width="1.3"/>
<line x1="1053.4" y1="738.5" x2="1640.5" y2="738.5" stroke="#d4d4d4" stroke-width="1.3"/>
<line x1="1053.4" y1="700.0" x2="1640.5" y2="700.0" stroke="#d4d4d4" stroke-width="1.3"/>
<line x1="1053.4" y1="661.5" x2="1640.5" y2="661.5" stroke="#d4d4d4" stroke-width="1.3"/>
<line x1="1053.4" y1="623.0" x2="1640.5" y2="623.0" stroke="#d4d4d4" stroke-width="1.3"/>
<line x1="1053.4" y1="565.3" x2="1640.5" y2="565.3" stroke="#d4d4d4" stroke-width="1.3"/>
<line x1="1053.4" y1="531.8" x2="1053.4" y2="602.6" stroke="#444" stroke-width="1.3"/>
<line x1="1053.4" y1="606.0" x2="1053.4" y2="931.0" stroke="#444" stroke-width="1.3"/>
<line x1="1053.4" y1="931.0" x2="1639.0" y2="931.0" stroke="#444" stroke-width="1.6"/>
<line x1="1041.7" y1="597.7" x2="1071.7" y2="609.7" stroke="#333" stroke-width="1.2"/>
<line x1="1041.7" y1="608.6" x2="1071.7" y2="620.8" stroke="#333" stroke-width="1.2"/>
<defs><marker id="mvd" markerUnits="userSpaceOnUse" markerWidth="8" markerHeight="8" refX="4" refY="4" overflow="visible"><circle cx="4" cy="4" r="2.55" fill="#5ca8f4" stroke="#2e8ae8" stroke-width="1.3"/></marker></defs>
<path d="M1428.7 865M1334.2 929.9M1340.8 916.5M1349.6 930.1M1377.2 926.4M1395.3 911.6M1378.2 904M1368 923.4M1319.3 917.5M1362.4 930.8M1374 910.3M1328.5 904.4M1393 890.3M1361.1 928.4M1328 921.3M1347.6 930.4M1320.8 903M1373.5 919.6M1354.7 930.5M1351.8 928.4M1373.8 929.5M1348.7 930.3M1388.6 906.1M1371.7 905.1M1352.6 929.1M1390.3 921.1M1372.4 926.3M1330.3 929.2M1375.6 899.8M1321.9 924M1304.1 898.1M1347.9 909.3M1405 930.1M1434.1 909.7M1418.1 888.1M1373.8 894.1M1389.9 907.8M1300 858.5M1365.9 908.6M1339.5 921.9M1370.1 920.9M1430.7 923.1M1337.5 929.6M1348.8 922.3M1362.9 919.1M1365.5 911.9M1396.3 912M1332.6 894.7M1416.9 867.6M1354.8 927.2M1338.6 900M1349.8 925.9M1371.1 917.3M1329.6 891.2M1397.7 918.5M1391.8 905.7M1377.2 890.4M1332.8 925.4M1352.4 925.6M1335.1 902.9M1371.9 931M1401.4 876.5M1378.6 927.7M1407.9 909.6M1355.6 928.5M1371.7 919.4M1332.8 912.2M1425.1 867.5M1388.2 891.9M1340.5 910.1M1347.2 926.5M1342.6 924.2M1435.3 911.8M1319.6 910.3M1365.3 930.4M1389.4 925.1M1361.2 926.8M1422.3 928.2M1351.9 924.9M1369.5 922M1380.2 893.4M1348.7 928.3M1406.8 930.4M1361.6 921.6M1361.7 930.3M1393.1 883.8M1405.9 913.6M1391.5 897.3M1363 916.6M1377.3 907.7M1404.2 870.8M1435.1 924.8M1405.4 927.4M1370.8 910.2M1321.7 904.8M1374.9 903.8M1383.2 907.5M1330.8 921.3M1374.6 899.6M1375.6 927.1M1343.6 915.2M1377.3 913.9M1385.6 919.1M1342.2 912.6M1364 927.7M1300.4 869.6M1447.5 927.2M1356.6 930.7M1312.4 914.2M1358.2 929.5M1318.2 924.8M1371.6 921.3M1383.1 917.2M1331.6 924.8M1349 924.7M1405.5 926M1382.5 882.6M1332.1 911.3M1344.3 916.3M1344.8 904.6M1408.2 910.9M1361.1 930.8M1381.5 919.3M1341.9 930.5M1394.1 870.9M1372.2 908.3M1324.7 927M1352 930.8M1362.2 926.3M1391.3 920.7M1398.8 898.8M1366.2 921.8M1326.7 926.1M1320.4 922.4M1431.3 919M1329.9 893.9M1367.6 926.7M1372.1 906.1M1364.7 922.2M1379.6 904M1359.1 925.6M1353.9 922.5M1400.8 929.4M1379 887.6M1322 900.5M1343.2 916.6M1330.5 926.4M1319.2 891.4M1364.8 915.5M1368.2 915.9M1376.1 928.7M1366.4 913.4M1366.1 915.4M1332 895.2M1350.3 921.8M1399.1 917.1M1405.6 899.8M1303.9 911.8M1361.2 921.6M1388.4 899.5M1378.7 909M1375.8 901M1349 916M1376 912.4M1378.5 887.1M1343.1 919M1346.1 911.1M1330.7 907.3M1383.3 923.9M1313.7 899.9M1386.4 879.6M1325 880.3M1390 918.4M1390.8 925.5M1283.4 878M1366.5 910.6M1393.8 911.6M1385.7 924.3M1396.8 930.5M1292.3 878.8M1317.5 890.4M1387.4 902.4M1396.4 888.6M1357.1 930.8M1369.2 926.9M1363.8 918.4M1334 921.6M1391.6 911M1382.8 894.9M1331 919.1M1390.4 893.9M1393.3 874.3M1418.9 930.7M1397.6 893.5M1327.2 929.1M1360.8 925.7M1316.8 869.8M1404.7 869.2M1352.7 930.3M1399.9 869.1M1339.7 911.8M1335.8 889.5M1327.8 905.4M1393.8 915.1M1380.2 921.7M1362.4 925.9M1377.4 921.9M1411 891.7M1343.6 905.8M1363.9 922.2M1380.3 925.8M1396.3 877.5M1363.3 928.9M1399.8 892.6M1388.6 923.6M1435.6 885.6M1331.7 881.8M1382.3 899.4M1364.4 918.3M1363.1 924.3M1340 913.5M1371.6 923M1358.5 930.2M1369.8 930.5M1352.2 930.5M1389.1 884.3M1400.7 918.1M1391.6 905M1365.6 916.8M1334.3 908M1395.3 876.8M1326.9 894.9M1359.2 926.6M1399.6 884.9M1311 903.8M1414 909.5M1337.2 926.2M1397.9 925.5M1393.3 928.8M1339.9 892.7M1324.6 888.8M1340.8 926.2M1348.6 920.4M1363.6 925.9M1369.7 928.1M1395.6 871M1366.4 911.4M1415.4 922.3M1374.5 896.6M1383 930.6M1346.8 915.1M1333.5 930.8M1400.2 913.4M1350.9 922.6M1395.6 929.6M1381.3 897.5M1381.8 929.8M1376.6 925.7M1375.5 915.2M1366.9 930.8M1407.1 931M1378.1 914.8M1326.4 931M1326.4 916.6M1401.2 886.9M1401.2 894.4M1395.7 909.3M1321.8 929.4M1381.4 902M1312.7 919.1M1405.9 918.8M1369.6 904.5M1387.2 930.3M1385.9 907.3M1344.9 913.9M1354.4 928.3M1371 929.8M1409.3 869.6M1299.2 926M1335.3 899.4M1414.3 926.4M1404.7 866M1391.4 930.8M1345.6 928.1M1361.3 928.4M1382.4 910M1362.5 920M1347.8 915.1M1378.5 912.8M1337.1 930.1M1326.1 878.4M1376.8 894.4M1340.3 900.8M1407.1 864.3M1342.7 930.9M1337 895M1371.4 930.8M1382.6 897.7M1377.9 922M1399.3 919.1M1345.8 919.1M1381.5 922.6M1360.2 929.7M1352.9 922.3M1396.7 926M1336 915M1351.6 923.8M1374.4 920.8M1328.2 877.4M1368.2 929.8M1370.4 912.4M1405.5 929.2M1362 917.1M1362.1 918.6M1337.7 912.8M1376 921.1M1321.9 914.4M1385.1 896.1M1383.1 930.9M1387 897.9M1357.9 928.5M1366.1 917M1313.9 930.8M1363 930.9M1343.1 909.5M1319.1 880.1M1369.1 914.8M1317.6 929.5M1423.8 910.5M1337.2 898.6M1319.9 896M1335.3 914.2M1320.3 875.4M1362.4 924.4M1346.7 928.7M1347.2 905.9M1348.9 926.7M1379.7 920.2M1313 900.6M1393.9 893.7M1349.1 920M1335.2 893.8M1348.2 925.1M1337.2 919M1352.7 930.8M1338.2 926.7M1374.7 922.4M1369.1 924.1M1367.9 907.8M1347.5 907.6M1345.8 915.4M1391.4 930.5M1316.8 925.4M1373.4 898.8M1403.2 912.9M1350.8 918.3M1334.9 927.3M1385.5 930.9M1398.1 921M1341 930.5M1359.5 924.5M1387 901.1M1366.4 927.7M1401.9 921.2M1368.6 902.8M1369.4 900.7M1340.4 923.8M1381.2 889.4M1345.6 922.4M1376.9 920.3M1377.5 928.8M1309.5 912.8M1375.5 930.2M1395.1 897.7M1367.9 926M1340.3 920.9M1371.9 899.6M1398.5 923.7M1376.9 902.2M1399.6 890M1374.3 918.7M1403.6 930.8M1413.5 865.4M1391 882.9M1311.7 915.7M1343 923.1M1381.2 910.3M1422.1 914.7M1387.7 918M1412.1 926.5M1327.1 923.1M1370.3 926.3M1402.6 903.1M1352.9 924.3M1380.8 882.9M1386.5 888M1394 899.4M1346.7 924.5M1330.6 880.8M1366.1 930.3M1333.2 905.3M1386.3 928.8M1372.7 924M1311.8 930.9M1381.2 895.1M1392.5 883.3M1405.4 862.6M1331.5 889.3M1298.6 929.8M1395 925.1M1396.4 902.4M1364 914.6M1393.8 930.8M1396.6 923.3M1313.4 888.8M1381.5 906.7M1327.2 894.6M1363.1 930.6M1385.8 927.6M1369.2 916.3M1379.6 906.7M1333.1 917.7M1408.8 883.1M1387.7 927.8M1349.9 919.7M1406.7 926.3M1344.5 918.6M1384.6 891.4M1383.1 885.3M1388.4 926.7M1388.6 902.7M1411.5 907.1M1304.3 905.9M1390 916.4M1385 898.4M1367.9 929.2M1391.1 923M1391.2 926.5M1399.8 928.4M1318.8 930.6M1377.6 930.8M1402 868.1M1413.3 877.9M1396.6 886.1M1324.9 884.4M1373.4 906.6M1332.7 914.9M1399.5 901.3M1349.3 923.9M1344.5 909.1M1398.3 898.7M1409.4 917.2M1386.8 922.2M1387.7 882.7M1323.4 891.5M1313.1 923.1M1401.7 922.1M1323.6 929.1M1421.4 906.9M1358.8 931M1344.9 901.5M1316.3 905.3M1378.8 897.1M1396.3 908M1398.4 902.8M1397.6 928.6M1331.9 918.3M1397.7 909.8M1341.7 913.2M1325.6 922.9M1419.9 923.2M1314.5 886M1370.2 913.9M1417.8 865.6M1372.8 929.3M1385.2 928M1321.7 911.7M1345.4 903.3M1316.4 892.4M1366.3 929M1385.2 920.6M1337.9 916.1M1370.1 911.6M1341.9 913.7M1386 897.9M1343.4 919.8M1373 922.6M1314.5 893.1M1403.3 869.4M1324.1 888.6M1307.1 929.4M1439.6 915M1447.2 900M1328.6 929.4M1342.1 905.7M1394.7 882.3M1403.4 909.9M1322.1 914.2M1370.8 923.5M1356.7 930.9M1371.5 908M1280.2 872.3M1379.9 885.7M1362.3 922M1417.6 912.3M1324 915.3M1367.8 908.5M1384.9 896.7M1378.4 900.7M1343.8 930.9M1366.4 907.2M1437.9 887.3M1367.5 904.6M1314.8 903.9M1400.7 901.7M1411.2 930.7M1375.4 894.7M1375.4 924M1428.9 883.6M1342.7 928.4M1403.8 923.5M1447.6 911.4M1431.1 926.8M1372.3 925M1391.9 924.6M1415.6 860M1355.3 927.7M1393.2 897.8M1425.3 897.6M1335.1 910.7M1403.4 906.8M1376.3 897.8M1380 918.2M1366.8 906.6M1311.3 893.2M1365 924.3M1322.6 902.7M1384.1 888.4M1317.2 887.3M1364.9 926.8M1315.6 906M1371.9 915.7M1429.2 929M1344.3 913.7M1374.4 926M1331.9 927.6M1367.9 918.7M1324.7 928M1428.7 924.8M1393.5 929.7M1338 928.1M1302.7 897.2M1383.6 927.8M1402.1 879.3M1378.3 893.6M1393.9 908.7M1390.2 913.1M1382 928M1402.1 892.7M1366.8 926.1M1337 916.6M1384.9 930.9M1293.6 919.4M1358.7 929.1M1407.8 901.3M1336.8 928.9M1327.5 927.4M1370.7 898.5M1386.9 919.9M1414.7 930.3M1311 898.5M1426.2 921.8M1325.3 890.5M1407.2 901.4M1395.6 900.4M1339.3 900.4M1344.4 927.3M1386.4 886.2M1383.1 918.6M1336.8 907.3M1401.2 912.9M1414.4 921.3M1422.5 926.3M1371.8 904.9M1390.1 931M1412.2 898.3M1383.1 901.1M1422.2 896.1M1314.7 890.3M1350.9 926.7M1314.2 896.3M1317.2 883.2M1395.2 918.9M1284.4 881.6M1367.6 911.7M1402 867.7M1370.5 913.9M1309.5 911.2M1343.3 898.9M1413.8 917.3M1403.2 930M1366.8 924.4M1325 877.9M1364.2 913.4M1384.5 892.7M1348 913.5M1390.8 904.5M1350.7 931M1391.3 877.8M1415.2 899.8M1349.4 926.6M1378.5 925.1M1304.3 908.9M1321.5 881.3M1383.6 881M1331.8 930.3M1399 893.3M1400.7 904.2M1343.9 925.1M1334 883.8M1364.9 926M1340.8 900.7M1399.7 914.4M1400.5 906.2M1399.3 887.2M1338.2 915.6M1408.6 923M1346.7 911.6M1410.1 909.1M1327.8 930.8M1372.7 928.7M1343.9 923.1M1401.7 903.3M1372.5 903.7M1382.1 888.2M1400.4 927.1M1315.5 896.3M1339.2 924M1338.6 909.1M1330.5 895.9M1408.6 894.9M1380.7 903.3M1355.1 925.9M1387.5 920.8M1368.2 921.1M1366.2 918.1M1341.4 929M1383.6 892.1M1405 881.1M1340.2 894.4M1340.7 903.5M1331.2 903.3M1326.8 929.7M1385.3 893.3M1430.2 887.6M1347.4 922.2M1343.6 921.2M1411.6 925.9M1345.1 923.3M1344.6 928.6M1323.9 930.7M1381.3 927.4M1399.1 918.7M1372.5 895.8M1331.8 929.1M1410.6 917.7M1321.5 877.3M1410.7 903.4M1325.3 929.7M1412.6 908.5M1349.4 914.1M1307.8 930.1M1328.9 915.4M1417.8 921M1332.5 916.6M1379.9 910M1384.4 914.7M1307.9 926.3M1329.5 882.3M1410.3 927.4M1373.8 929M1350.4 921.3M1338.9 929.8M1439.4 930.6M1322.6 929.9M1383 894.4M1353.6 927.4M1377.1 897.7M1330.6 896.6M1328.5 926.6M1320.7 920.7M1338.9 899.2M1340.7 918.5M1384.5 916.8M1411.6 920.9M1379.9 928.9M1364.5 919.3M1387.6 911.9M1394.9 890.2M1314.4 930.1M1388.4 904.6M1390.6 879.7M1441.9 930.9M1396.5 901M1389.5 887.3M1404.1 928.1M1327 886M1337 914M1402.8 928.3M1360.3 923.3M1411.9 906.2M1344.7 909.9M1435.8 924.4M1417.1 930.6M1409.4 890.7M1370.6 928.6M1337.8 897.5M1347.3 917.8M1372 897.3M1376.8 930.5M1368.8 902.3M1324.1 905.4M1379.9 915.8M1399.5 907.6M1408.9 930.5M1325.9 923.4M1392 925.2M1335.2 911.4M1370.4 915.7M1406.8 924.5M1407.5 921.9M1385.5 906.7M1372.6 919.2M1417.4 915.1M1377.1 894.8M1435 887.2M1271.2 909.2M1336.5 918.1M1332.4 890.5M1405.4 875.4M1406.9 878.8M1332.8 895.9M1369.6 901M1382.2 913.5M1342.4 907.2M1287.8 855M1426.2 879.7M1328.3 879.2M1424.7 898M1397.1 928.4M1392.9 906.7M1377.1 919.2M1326.7 918M1398.6 879.1M1388.8 886.5M1345.7 926.5M1337.8 930.9M1406.6 896.8M1390.2 905.9M1427.6 900M1430.9 862.4M1399.6 925.3M1326.1 929M1391.2 896M1370.1 909.2M1368.5 919.8M1446.7 862.1M1378.2 920.5M1391.2 928.5M1386.7 912M1368.4 906.2M1355.1 930.8M1401.3 891.2M1426.2 910.4M1412.5 894M1426.5 873.1M1341.2 906.9M1403.2 869.7M1331.7 922.8M1367 920.3M1338.7 925.6M1349.2 930.8M1382.8 920.3M1344.9 906.2M1333.8 890.3M1423 857.3M1431.3 880.4M1315.8 899.6M1308.4 873.8M1314.4 900.8M1372.3 898.1M1333.1 913.9M1385.7 920.4M1422 906M1378.8 930.1M1380.5 913.2M1337.3 912.5M1384.4 923.4M1308.7 895.3M1322.8 878M1307.2 908M1369.8 918.6M1386.6 903.3M1310.5 876.1M1386.4 913.4M1300.4 871.2M1394.8 929.2M1313 901.2M1387.7 894.7M1342.4 897.1M1399.8 871.8M1387.6 913.2M1402.1 916.4M1372.3 909.8M1341.9 900.9M1387.4 927.4M1375.2 921.8M1367.5 915.5M1378.4 902.9M1372.8 920.5M1410.2 929.3M1470.8 865.7M1411.3 911.3M1341.8 925.5M1378.4 919.5M1387.5 923.7M1389.4 875.8M1297.1 929.8M1347.8 910.3M1389.9 897.3M1334.3 885.6M1399 929.3M1379.2 931M1347.2 918.8M1437.4 925.8M1389.7 877.1M1368.2 912.8M1385.2 925.9M1445.6 891.8M1376.3 923.7M1317.2 899.5M1277.5 922.9M1578.6 910M1338.2 921.2M1478.8 930.6M1449 895.7M1273.5 865.7M1391.5 894.4M1474.8 930.9M1344.4 930.7M1287.2 880.1M1372.3 916.3M1304.6 927.3M1317.5 908.4M1294.8 914.4M1423.1 907.1M1395.2 924.5M1365.1 920.4M1483.6 894.8M1396.3 921.1M1257.8 931M1394.5 898.5M1326 920.1M1451.8 903.3M1447.2 923.8M1409.5 911.2M1437.7 902.4M1445.7 910.4M1387 915.5M1474.8 930.7M1382 920.7M1459.4 919.8M1306.9 918.6M1397.1 896.5M1407.3 917.7M1295.5 877M1508.8 919.8M1421.4 924.5M1528.4 872.8M1487.1 845.3M1420.1 903.9M1418.7 920.5M1319.8 928.5M1391.2 908.4M1422.6 886.9M1315.2 895.6M1444.7 873.5M1325.2 924.3M1320.9 916.4M1396.7 905.9M1287.9 930.7M1313.7 882.4M1381 912.3M1507 922.6M1254.8 923.3M1424.7 864.7M1304.1 923.4M1420.4 930.8M1478.6 912.8M1339.6 927.3M1386.1 915M1307.8 915.6M1380.6 927.5M1341.2 930.9M1394.7 903.7M1330.8 931M1271.9 865.8M1296.3 920.2M1270.2 919.3M1419.2 888.9M1287.4 915.1M1443.6 930.7M1325.5 927.2M1310.4 906.1M1425.9 882.9M1467.9 922.2M1319.3 930.9M1450.3 929.8M1295.1 927.4M1454.2 928.7M1392.2 902.1M1325 910.8M1327.9 923.3M1321.3 928M1388.9 893.1M1306.5 884.7M1314.3 907.5M1397.5 930.3M1424.1 901.4M1410.9 922.6M1447.4 892.8M1309.1 904.4M1474.3 855.2M1291 891.4M1398.5 930.9M1488.7 921.5M1394.3 906.4M1278 891M1539 908.4M1457.6 919.3M1318.2 929M1416.2 884.5M1450.2 860.4M1307.3 916.6M1430.5 908.3M1419.6 926.3M1413.3 881.3M1449.7 880.2M1427.1 875.1M1329.4 922.1M1238.9 927M1372.8 913.9M1414 910.2M1292.9 902.1M1346.3 930.8M1287.1 927.2M1296.4 921.3M1414.5 922.3M1428.9 923M1424.2 892.9M1391.5 914.3M1334.5 920.4M1303.4 931M1455.8 930.6M1317.2 895.1M1324.8 922.8M1301.6 929.7M1448.4 914.3M1259 929.3M1274.4 897.5M1272.3 917.8M1324.5 895.4M1322.4 931M1401.9 893.6M1339.1 929M1332.4 930.9M1407.7 890.2M1295 918.1M1269.7 902.6M1307.1 930.9M1377.7 912.7M1316.2 930.2M1292 917.9M1277.7 871M1328.6 895.9M1422.5 900.2M1415 899M1317.1 911.6M1382.1 904.1M1272 931M1430.1 921.7M1416.6 890.9M1336.9 906.7M1281.3 931M1479.9 879.8M1424.5 895.8M1453.6 888.3M1373.8 927.5M1247.9 925.1M1418.5 881.2M1316 884.9M1304.9 883M1412.3 930.3M1466.1 894.8M1406.1 886.1M1305.7 904.1M1308.7 892.4M1236.5 927.5M1272.7 917.1M1477.8 930.4M1306.1 928.8M1288.5 918.6M1346.4 924.8M1389.3 919.3M1433.2 900.5M1410.2 931M1369.1 920.1M1318.1 908.2M1401.5 909.1M1396.2 909.1M1280.1 868.6M1438.8 928.6M1253.7 889.9M1393 896.5M1336.8 926.4M1326.6 915.5M1297.4 882.9M1327.2 911M1328 896.5M1403.4 897.7M1295 885.6M1293.3 911.5M1329 900.4M1409.8 922.2M1374.5 909.7M1318.3 913.5M1264.7 894.9M1366.6 920.1M1481.3 899.6M1333.1 907.3M1468.6 926.6M1272.1 914.6M1379.9 931M1450.9 880M1421.8 930M1379.8 915.7M1300.9 930.6M1370 930.9M1223.8 900.3M1316.8 916.6M1278.5 892.4M1384.5 906.6M1292.4 930.9M1422.7 925.7M1329.6 930.8M1329.5 909.7M1409.3 894.7M1278.4 920.9M1427.8 895.1M1470.7 874.3M1447 929.8M1304.5 929M1311.7 929.3M1453.5 909.5M1465.4 894.6M1378.4 917.1M1326.6 912.3M1302.1 906.1M1365.7 928M1461.2 865.4M1382.6 927.5M1417.1 930.9M1401.9 903.8M1305.2 930.7M1449.5 930.4M1288 887.4M1408.1 919.4M1405.3 923.8M1309.9 894.9M1260.8 903.7M1405.8 917.9M1408.1 904.4M1399.3 927.2M1419.8 869.6M1442.1 910.7M1404.6 888.9M1319.6 890.6M1341.2 926.7M1429.3 865.1M1303 905.4M1303.8 930.3M1379 924.4M1404.3 882M1400.7 914.8M1395.3 920.4M1328 915.6M1413.6 897.6M1329.4 921.4M1335 923M1374.8 925.7M1336.2 930.9M1409.4 878.5M1466 873.2M1479.3 909.2M1307.2 923.1M1331 908.6M1399.7 908.5M1482.2 921.8M1272.7 906.3M1337.5 906.5M1463.4 913.3M1431.9 874.2M1276.6 859M1419 931M1278.9 869.9M1290 889.1M1466.8 927.8M1421.6 922.3M1333.1 914.6M1431.2 877.4M1464.7 854.9M1338.1 918.4M1316.5 928.7M1397.6 895.3M1433.8 907.3M1435.7 917.8M1379.5 907.7M1423.1 924.5M1385.3 909M1281.1 905.5M1275.5 899.2M1392.1 889.2M1386.1 929.7M1401 897.7M1329.2 897.8M1311.2 916.9M1282.6 927.5M1250.3 858.9M1288.5 908.3M1414.1 875M1463.7 925.5M1324.9 925.3M1293.7 884.9M1388.5 929.7M1316.2 909.5M1417.2 924.3M1401.7 911.7M1286.1 887.8M1265.3 862.8M1418.7 885.6M1320.7 929.7M1244.8 898.1M1424.9 916.1M1457.4 916.2M1301 924.6M1269.4 930.4M1338.2 919M1319.2 917.8M1413.6 925.3M1453.5 883.4M1407.1 928.8M1382.6 905.3M1291.4 930.9M1388.5 897.9M1254.1 917.6M1347.2 920.9M1232.6 908.8M1315.4 925.6M1234.7 865.3M1438.6 919.3M1368.2 931M1298.2 926M1461.9 857M1333.8 909M1340 908.6M1417.1 881.4M1420 917.8M1421.6 910M1289.9 873.2M1315.5 919.5M1314.5 915.9M1311.3 920.1M1324.3 930.8M1384 901.6M1335.5 929.4M1346.1 930.9M1412.7 922.8M1297.7 887.7M1338.5 911.2M1291.6 897M1436.3 870.1M1275.1 920.5M1271.7 858.1M1282.8 896.1M1210.2 845.8M1439 915.1M1432.3 895M1383.9 911.8M1290.7 918.5M1425.3 870.2M1331.7 920.7M1453.9 860M1287.5 893.8M1313.7 929.2M1387.8 908.1M1312.7 924.5M1322.3 924.9M1427 897.6M1406.5 897.9M1296.3 881.4M1304 926.5M1436.4 896.4M1319.9 917.1M1434.2 916.9M1311.4 926.1M1538.2 847.2M1414.2 913.1M1292.8 928.6M1298.6 908M1279.8 895.3M1324.8 918.9M1310.3 914.1M1389.3 923M1416.8 926.3M1269 928.4M1232 930.7M1408.6 926.4M1409.6 928.8M1244.9 905.7M1208.9 921.5M1451.9 917.5M1235.1 930.7M1324.2 918.7M1430.4 892.4M1440.7 927.4M1234.9 871.6M1335.7 930.8M1212.3 930.8M1265.4 916.3M1481.4 928.1M1293.6 907.9M1297.5 923.1M1402.8 899.4M1381.6 930.9M1433.3 910.3M1364.9 930.8M1330 923M1471.8 917.2M1311.8 920.3M1306.1 908.8M1230.8 906.6M1204.5 905.3M1331.3 920M1292.4 923M1606.2 921.8M1281.7 930.2M1442.4 916.3M1296.5 901M1315.8 907.6M1310 922.9M1406.2 905.6M1462.7 928.5M1203.5 925.5M1281.1 910.2M1311.6 902.3M1230.2 922.9M1223.1 929.9M1307.4 906.3M1478.8 916.9M1218.8 928.6M1415.4 914.8M1318.4 926.6M1429.9 886.7M1420.1 913.7M1259.7 899.8M1319.7 919.5M1211.9 917.2M1502.3 873.2M1235.1 912.9M1279.8 930.1M1302.4 923.5M1309.8 930.2M1419 927.9M1270.5 914.9M1316.7 917.4M1307.8 928.3M1299.6 929M1180.6 930.7M1175.5 897.6M1422.7 897.7M1448.5 903.3M1244 930.8M1422.9 914.5M1428.1 888.1M1409 931M1328.1 925.2M1298.2 921.3M1338.3 924.7M1404.2 929.8M1448.7 911.7M1193 920.7M1274.2 927.1M1280.7 926.8M1243.2 930.7M1458.2 913.7M1432.2 927.8M1332 913M1489.3 908.3M1469 891M1297.6 926.4M1449.9 904.3M1329.3 924M1421.5 899M1464.9 884.3M1408.1 900.4M1441.1 918.4M1265.1 921.9M1381.8 925.3M1265.8 931M1300.2 921M1314.4 921.7M1385 930.3M1244.4 890.8M1455.5 881.1M1273.7 930.9M1400.6 925.6M1148.6 914.9M1415.5 930.5M1316 928.3M1489.1 930.4M1436.9 898.7M1402.9 926M1297.3 907.5M1340.1 925.3M1280.3 922.8M1335.9 920.4M1283.6 893M1472.7 928.3M1492.5 917.7M1569.7 923.2M1234.9 914.8M1466.7 922.3M1448 911.1M1506 897.8M1284 906.9M1389.2 928.2M1592 930.6M1227.5 897.5M1102.4 884.6M1410 923.5M1461.8 907.2M1259.4 919.9M1209.8 926.9M1270.5 926.1M1462 912.8M1239.4 929.3M1227.6 929.6M1438.8 904.6M1234.8 909M1310.3 920.7M1416.7 928.6M1551.5 929.8M1484.7 928.1M1564 923M1447.8 908.4M1093 850.9M1105.1 857.9M1165.8 759.3M1168.8 850.9M1138.5 884.8M1311.5 718.5M1432.9 674.6M1466.3 672.3M1478.4 726.2M1499.6 723.1M1511.8 723.1M1484.5 750M1584.6 753.9M1539.1 807.8M1611.9 903.3M1593.7 882.5M1302.4 763.1M1296.3 769.3M1308.4 770.8M1247.7 782.4M1284.2 793.2M1414.7 790.1M1417.7 791.6M1138.5 922.5M0 0" fill="none" stroke="none" marker-start="url(#mvd)" marker-mid="url(#mvd)"/>
<text x="1041.5" y="572.0" style="font-size:20.5px" text-anchor="end">120</text>
<text x="1041.5" y="630.0" style="font-size:20.5px" text-anchor="end">40</text>
<text x="1041.5" y="707.0" style="font-size:20.5px" text-anchor="end">30</text>
<text x="1041.5" y="784.0" style="font-size:20.5px" text-anchor="end">20</text>
<text x="1041.5" y="861.0" style="font-size:20.5px" text-anchor="end">10</text>
<text x="1041.5" y="938.0" style="font-size:20.5px" text-anchor="end">0</text>
<text x="1203.5" y="961.0" style="font-size:20.5px" text-anchor="middle">-5</text>
<text x="1357.0" y="961.0" style="font-size:20.5px" text-anchor="middle">0</text>
<text x="1509.6" y="961.0" style="font-size:20.5px" text-anchor="middle">5</text>
<circle cx="284.7" cy="554.4" r="3.2" fill="#e4262c"/>
<circle cx="494.4" cy="818.6" r="3.2" fill="#e4262c"/>
<circle cx="514.4" cy="822.9" r="3.2" fill="#e4262c"/>
<circle cx="468.6" cy="845.8" r="3.2" fill="#e4262c"/>
<circle cx="473.2" cy="919.3" r="3.2" fill="#e4262c"/>
<circle cx="514.4" cy="917.6" r="3.2" fill="#e4262c"/>
<circle cx="473.2" cy="909.7" r="3.2" fill="#e4262c"/>
<circle cx="476.6" cy="911.9" r="3.2" fill="#e4262c"/>
<circle cx="406.3" cy="929.5" r="3.2" fill="#e4262c"/>
<circle cx="439.3" cy="925.4" r="3.2" fill="#e4262c"/>
<circle cx="447.8" cy="925.8" r="3.2" fill="#e4262c"/>
<circle cx="442.7" cy="924.4" r="3.2" fill="#e4262c"/>
<circle cx="437.6" cy="927.8" r="3.2" fill="#e4262c"/>
<circle cx="302.9" cy="918.6" r="3.2" fill="#e4262c"/>
<circle cx="559.5" cy="878.0" r="3.2" fill="#e4262c"/>
<line x1="481.4" y1="911.4" x2="697.3" y2="727.4" stroke="#ee1c25" stroke-width="1.2"/>
<line x1="454.2" y1="920.0" x2="697.3" y2="885.8" stroke="#ee1c25" stroke-width="1.2"/>
<text x="297.5" y="566.6" style="font-size:28px;font-style:italic" fill="#ee1c25">smchd1</text>
<text x="401.5" y="801.7" style="font-size:28px;font-style:italic" fill="#ee1c25">hoxb2a</text>
<text x="529.2" y="829.7" style="font-size:28px;font-style:italic" fill="#ee1c25">hoxc10a</text>
<text x="352.7" y="849.0" style="font-size:28px;font-style:italic" fill="#ee1c25">hoxc11a</text>
<text x="568.8" y="871.8" style="font-size:28px;font-style:italic" fill="#ee1c25">hoxd10a</text>
<text x="182.3" y="922.3" style="font-size:28px;font-style:italic" fill="#ee1c25">hoxd13a</text>
<text x="349.5" y="915.4" style="font-size:28px;font-style:italic" fill="#ee1c25">hoxb13a</text>
<text x="521.9" y="927.0" style="font-size:28px;font-style:italic" fill="#ee1c25">hoxc9a</text>
<text x="714.4" y="708.8" style="font-size:28px;font-style:italic" fill="#ee1c25">hoxa13b</text>
<text x="714.9" y="742.2" style="font-size:28px;font-style:italic" fill="#ee1c25">hoxd9a</text>
<text x="714.9" y="776.1" style="font-size:28px;font-style:italic" fill="#ee1c25">hoxc11b</text>
<text x="712.3" y="823.7" style="font-size:28px;font-style:italic" fill="#ee1c25">hoxd11a</text>
<text x="712.3" y="857.0" style="font-size:28px;font-style:italic" fill="#ee1c25">hoxd12a</text>
<text x="712.3" y="890.6" style="font-size:28px;font-style:italic" fill="#ee1c25">hoxc3a</text>
<text x="712.3" y="924.1" style="font-size:28px;font-style:italic" fill="#ee1c25">hoxb1b</text>
<circle cx="1176.8" cy="550.8" r="2.6" fill="#e4262c"/>
<circle cx="1453.6" cy="889.4" r="2.6" fill="#e4262c"/>
<circle cx="1425.0" cy="901.7" r="2.6" fill="#e4262c"/>
<circle cx="1398.6" cy="914.8" r="2.6" fill="#e4262c"/>
<circle cx="1414.7" cy="920.8" r="2.6" fill="#e4262c"/>
<circle cx="1453.6" cy="914.8" r="2.6" fill="#e4262c"/>
<circle cx="1375.0" cy="928.8" r="2.6" fill="#e4262c"/>
<line x1="1419.0" y1="917.0" x2="1585.8" y2="828.0" stroke="#ee1c25" stroke-width="1.2"/>
<text x="1192.7" y="559.0" style="font-size:27.5px;font-style:italic" fill="#ee1c25">smchd1</text>
<text x="1323.9" y="892.8" style="font-size:27.5px;font-style:italic" fill="#ee1c25">hoxc11a</text>
<text x="1300.5" y="914.0" style="font-size:27.5px;font-style:italic" fill="#ee1c25">hoxd9a</text>
<text x="1266.5" y="933.0" style="font-size:27.5px;font-style:italic" fill="#ee1c25">hoxc3a</text>
<text x="1463.5" y="892.8" style="font-size:27.5px;font-style:italic" fill="#ee1c25">hoxc10a</text>
<text x="1463.5" y="924.6" style="font-size:27.5px;font-style:italic" fill="#ee1c25">hoxb1b</text>
<text x="1587.9" y="820.8" style="font-size:27.5px;font-style:italic" fill="#ee1c25">hoxb2a</text>
<text x="1587.9" y="852.5" style="font-size:27.5px;font-style:italic" fill="#ee1c25">hoxa13b</text>
<text x="357.9" y="522.4" style="font-size:35px">4- to 8-cell</text>
<text x="1295.3" y="522.0" style="font-size:35px">sphere</text>
<text x="299.6" y="997.0" style="font-size:35px">log2 FoldChange</text>
<text x="1239.8" y="995.0" style="font-size:35px">log2 FoldChange</text>
<text x="101.5" y="737.5" style="font-size:35px" text-anchor="middle" transform="rotate(-90 101.5 737.5)">-log10 padj</text>
<text x="997.5" y="748.0" style="font-size:35px" text-anchor="middle" transform="rotate(-90 997.5 748)">-log10 padj</text>
<line x1="158.2" y1="1053.1" x2="158.2" y2="1457.9" stroke="#000" stroke-width="2.6"/>
<line x1="156.9" y1="1456.7" x2="763.5" y2="1456.7" stroke="#000" stroke-width="2.6"/>
<line x1="148.5" y1="1456.7" x2="158.2" y2="1456.7" stroke="#000" stroke-width="2.4"/>
<text x="144.5" y="1466.7" style="font-size:28px" text-anchor="end">0</text>
<line x1="148.5" y1="1356.0" x2="158.2" y2="1356.0" stroke="#000" stroke-width="2.4"/>
<text x="144.5" y="1366.0" style="font-size:28px" text-anchor="end">1</text>
<line x1="148.5" y1="1255.4" x2="158.2" y2="1255.4" stroke="#000" stroke-width="2.4"/>
<text x="144.5" y="1265.4" style="font-size:28px" text-anchor="end">2</text>
<line x1="148.5" y1="1154.8" x2="158.2" y2="1154.8" stroke="#000" stroke-width="2.4"/>
<text x="144.5" y="1164.8" style="font-size:28px" text-anchor="end">3</text>
<line x1="148.5" y1="1054.1" x2="158.2" y2="1054.1" stroke="#000" stroke-width="2.4"/>
<text x="144.5" y="1064.1" style="font-size:28px" text-anchor="end">4</text>
<rect x="166.6" y="1356.0" width="16.4" height="100.7" fill="#000"/>
<line x1="174.8" y1="1349.0" x2="174.8" y2="1356.0" stroke="#000" stroke-width="2.2"/>
<line x1="170.8" y1="1349.0" x2="178.8" y2="1349.0" stroke="#000" stroke-width="2.2"/>
<circle cx="174.8" cy="1347.0" r="4.2" fill="#3f3f3f"/>
<circle cx="170.8" cy="1363.1" r="4.2" fill="#3f3f3f"/>
<circle cx="178.8" cy="1360.1" r="4.2" fill="#3f3f3f"/>
<rect x="193.0" y="1349.0" width="14.0" height="107.7" fill="#fff" stroke="#000" stroke-width="2.4"/>
<line x1="200.0" y1="1326.9" x2="200.0" y2="1349.0" stroke="#000" stroke-width="2.2"/>
<line x1="196.0" y1="1326.9" x2="204.0" y2="1326.9" stroke="#000" stroke-width="2.2"/>
<circle cx="200.0" cy="1335.9" r="4.2" fill="#fff" stroke="#000" stroke-width="2.1"/>
<circle cx="196.0" cy="1333.9" r="4.2" fill="#fff" stroke="#000" stroke-width="2.1"/>
<circle cx="204.0" cy="1369.1" r="4.2" fill="#fff" stroke="#000" stroke-width="2.1"/>
<line x1="187.3" y1="1456.7" x2="187.3" y2="1466.7" stroke="#000" stroke-width="2.4"/>
<text x="197.3" y="1487.7" style="font-size:29px;font-style:italic" text-anchor="end" transform="rotate(-45 197.3 1487.7)">hoxa3a</text>
<rect x="234.5" y="1356.0" width="16.4" height="100.7" fill="#000"/>
<line x1="242.7" y1="1343.0" x2="242.7" y2="1356.0" stroke="#000" stroke-width="2.2"/>
<line x1="238.7" y1="1343.0" x2="246.7" y2="1343.0" stroke="#000" stroke-width="2.2"/>
<circle cx="242.7" cy="1346.0" r="4.2" fill="#3f3f3f"/>
<circle cx="238.7" cy="1351.0" r="4.2" fill="#3f3f3f"/>
<circle cx="246.7" cy="1372.2" r="4.2" fill="#3f3f3f"/>
<rect x="260.9" y="1308.7" width="14.0" height="148.0" fill="#fff" stroke="#000" stroke-width="2.4"/>
<line x1="267.9" y1="1273.5" x2="267.9" y2="1343.0" stroke="#000" stroke-width="2.2"/>
<line x1="263.9" y1="1273.5" x2="271.9" y2="1273.5" stroke="#000" stroke-width="2.2"/>
<line x1="263.9" y1="1343.0" x2="271.9" y2="1343.0" stroke="#000" stroke-width="2.2"/>
<circle cx="267.9" cy="1266.5" r="4.2" fill="#fff" stroke="#000" stroke-width="2.1"/>
<circle cx="263.9" cy="1326.9" r="4.2" fill="#fff" stroke="#000" stroke-width="2.1"/>
<circle cx="271.9" cy="1326.9" r="4.2" fill="#fff" stroke="#000" stroke-width="2.1"/>
<line x1="255.2" y1="1456.7" x2="255.2" y2="1466.7" stroke="#000" stroke-width="2.4"/>
<text x="265.2" y="1487.7" style="font-size:29px;font-style:italic" text-anchor="end" transform="rotate(-45 265.20000000000005 1487.7)">hoxa13b</text>
<rect x="302.4" y="1356.0" width="16.4" height="100.7" fill="#000"/>
<line x1="310.6" y1="1342.0" x2="310.6" y2="1356.0" stroke="#000" stroke-width="2.2"/>
<line x1="306.6" y1="1342.0" x2="314.6" y2="1342.0" stroke="#000" stroke-width="2.2"/>
<circle cx="310.6" cy="1341.0" r="4.2" fill="#3f3f3f"/>
<circle cx="306.6" cy="1360.1" r="4.2" fill="#3f3f3f"/>
<circle cx="314.6" cy="1358.1" r="4.2" fill="#3f3f3f"/>
<rect x="328.8" y="1298.7" width="14.0" height="158.0" fill="#fff" stroke="#000" stroke-width="2.4"/>
<line x1="335.8" y1="1281.6" x2="335.8" y2="1316.8" stroke="#000" stroke-width="2.2"/>
<line x1="331.8" y1="1281.6" x2="339.8" y2="1281.6" stroke="#000" stroke-width="2.2"/>
<line x1="331.8" y1="1316.8" x2="339.8" y2="1316.8" stroke="#000" stroke-width="2.2"/>
<circle cx="335.8" cy="1270.5" r="4.2" fill="#fff" stroke="#000" stroke-width="2.1"/>
<circle cx="331.8" cy="1305.7" r="4.2" fill="#fff" stroke="#000" stroke-width="2.1"/>
<circle cx="339.8" cy="1314.8" r="4.2" fill="#fff" stroke="#000" stroke-width="2.1"/>
<line x1="323.1" y1="1456.7" x2="323.1" y2="1466.7" stroke="#000" stroke-width="2.4"/>
<text x="333.1" y="1487.7" style="font-size:29px;font-style:italic" text-anchor="end" transform="rotate(-45 333.1 1487.7)">hoxb2a</text>
<rect x="370.3" y="1356.0" width="16.4" height="100.7" fill="#000"/>
<line x1="378.5" y1="1335.9" x2="378.5" y2="1356.0" stroke="#000" stroke-width="2.2"/>
<line x1="374.5" y1="1335.9" x2="382.5" y2="1335.9" stroke="#000" stroke-width="2.2"/>
<circle cx="378.5" cy="1334.9" r="4.2" fill="#3f3f3f"/>
<circle cx="374.5" cy="1351.0" r="4.2" fill="#3f3f3f"/>
<circle cx="382.5" cy="1381.2" r="4.2" fill="#3f3f3f"/>
<rect x="396.7" y="1306.7" width="14.0" height="150.0" fill="#fff" stroke="#000" stroke-width="2.4"/>
<line x1="403.7" y1="1283.6" x2="403.7" y2="1328.9" stroke="#000" stroke-width="2.2"/>
<line x1="399.7" y1="1283.6" x2="407.7" y2="1283.6" stroke="#000" stroke-width="2.2"/>
<line x1="399.7" y1="1328.9" x2="407.7" y2="1328.9" stroke="#000" stroke-width="2.2"/>
<circle cx="403.7" cy="1273.5" r="4.2" fill="#fff" stroke="#000" stroke-width="2.1"/>
<circle cx="399.7" cy="1307.7" r="4.2" fill="#fff" stroke="#000" stroke-width="2.1"/>
<circle cx="407.7" cy="1336.9" r="4.2" fill="#fff" stroke="#000" stroke-width="2.1"/>
<line x1="391.0" y1="1456.7" x2="391.0" y2="1466.7" stroke="#000" stroke-width="2.4"/>
<text x="401.0" y="1487.7" style="font-size:29px;font-style:italic" text-anchor="end" transform="rotate(-45 401.0 1487.7)">hoxb7a</text>
<rect x="438.2" y="1356.0" width="16.4" height="100.7" fill="#000"/>
<line x1="446.4" y1="1331.9" x2="446.4" y2="1356.0" stroke="#000" stroke-width="2.2"/>
<line x1="442.4" y1="1331.9" x2="450.4" y2="1331.9" stroke="#000" stroke-width="2.2"/>
<circle cx="446.4" cy="1331.9" r="4.2" fill="#3f3f3f"/>
<circle cx="442.4" cy="1351.0" r="4.2" fill="#3f3f3f"/>
<circle cx="450.4" cy="1384.2" r="4.2" fill="#3f3f3f"/>
<rect x="464.6" y="1308.7" width="14.0" height="148.0" fill="#fff" stroke="#000" stroke-width="2.4"/>
<line x1="471.6" y1="1262.4" x2="471.6" y2="1351.0" stroke="#000" stroke-width="2.2"/>
<line x1="467.6" y1="1262.4" x2="475.6" y2="1262.4" stroke="#000" stroke-width="2.2"/>
<line x1="467.6" y1="1351.0" x2="475.6" y2="1351.0" stroke="#000" stroke-width="2.2"/>
<circle cx="471.6" cy="1257.4" r="4.2" fill="#fff" stroke="#000" stroke-width="2.1"/>
<circle cx="467.6" cy="1323.8" r="4.2" fill="#fff" stroke="#000" stroke-width="2.1"/>
<circle cx="475.6" cy="1338.9" r="4.2" fill="#fff" stroke="#000" stroke-width="2.1"/>
<line x1="458.9" y1="1456.7" x2="458.9" y2="1466.7" stroke="#000" stroke-width="2.4"/>
<text x="468.9" y="1487.7" style="font-size:29px;font-style:italic" text-anchor="end" transform="rotate(-45 468.90000000000003 1487.7)">hoxc8a</text>
<rect x="506.1" y="1357.1" width="16.4" height="99.6" fill="#000"/>
<line x1="514.3" y1="1348.0" x2="514.3" y2="1357.1" stroke="#000" stroke-width="2.2"/>
<line x1="510.3" y1="1348.0" x2="518.3" y2="1348.0" stroke="#000" stroke-width="2.2"/>
<circle cx="514.3" cy="1352.0" r="4.2" fill="#3f3f3f"/>
<circle cx="510.3" cy="1351.0" r="4.2" fill="#3f3f3f"/>
<circle cx="518.3" cy="1366.1" r="4.2" fill="#3f3f3f"/>
<rect x="532.5" y="1222.2" width="14.0" height="234.5" fill="#fff" stroke="#000" stroke-width="2.4"/>
<line x1="539.5" y1="1144.7" x2="539.5" y2="1298.7" stroke="#000" stroke-width="2.2"/>
<line x1="535.5" y1="1144.7" x2="543.5" y2="1144.7" stroke="#000" stroke-width="2.2"/>
<line x1="535.5" y1="1298.7" x2="543.5" y2="1298.7" stroke="#000" stroke-width="2.2"/>
<circle cx="539.5" cy="1132.6" r="4.2" fill="#fff" stroke="#000" stroke-width="2.1"/>
<circle cx="535.5" cy="1260.4" r="4.2" fill="#fff" stroke="#000" stroke-width="2.1"/>
<circle cx="543.5" cy="1271.5" r="4.2" fill="#fff" stroke="#000" stroke-width="2.1"/>
<line x1="526.8" y1="1456.7" x2="526.8" y2="1466.7" stroke="#000" stroke-width="2.4"/>
<text x="536.8" y="1487.7" style="font-size:29px;font-style:italic" text-anchor="end" transform="rotate(-45 536.8 1487.7)">hoxc10a</text>
<rect x="574.0" y="1356.0" width="16.4" height="100.7" fill="#000"/>
<line x1="582.2" y1="1347.0" x2="582.2" y2="1356.0" stroke="#000" stroke-width="2.2"/>
<line x1="578.2" y1="1347.0" x2="586.2" y2="1347.0" stroke="#000" stroke-width="2.2"/>
<circle cx="582.2" cy="1347.0" r="4.2" fill="#3f3f3f"/>
<circle cx="578.2" cy="1361.1" r="4.2" fill="#3f3f3f"/>
<circle cx="586.2" cy="1361.1" r="4.2" fill="#3f3f3f"/>
<rect x="600.4" y="1320.8" width="14.0" height="135.9" fill="#fff" stroke="#000" stroke-width="2.4"/>
<line x1="607.4" y1="1286.6" x2="607.4" y2="1320.8" stroke="#000" stroke-width="2.2"/>
<line x1="603.4" y1="1286.6" x2="611.4" y2="1286.6" stroke="#000" stroke-width="2.2"/>
<circle cx="607.4" cy="1297.7" r="4.2" fill="#fff" stroke="#000" stroke-width="2.1"/>
<circle cx="603.4" cy="1303.7" r="4.2" fill="#fff" stroke="#000" stroke-width="2.1"/>
<circle cx="611.4" cy="1359.1" r="4.2" fill="#fff" stroke="#000" stroke-width="2.1"/>
<line x1="594.7" y1="1456.7" x2="594.7" y2="1466.7" stroke="#000" stroke-width="2.4"/>
<text x="604.7" y="1487.7" style="font-size:29px;font-style:italic" text-anchor="end" transform="rotate(-45 604.7 1487.7)">hoxc11a</text>
<rect x="641.9" y="1356.0" width="16.4" height="100.7" fill="#000"/>
<line x1="650.1" y1="1348.0" x2="650.1" y2="1356.0" stroke="#000" stroke-width="2.2"/>
<line x1="646.1" y1="1348.0" x2="654.1" y2="1348.0" stroke="#000" stroke-width="2.2"/>
<circle cx="650.1" cy="1347.0" r="4.2" fill="#3f3f3f"/>
<circle cx="646.1" cy="1361.1" r="4.2" fill="#3f3f3f"/>
<circle cx="654.1" cy="1359.1" r="4.2" fill="#3f3f3f"/>
<rect x="668.3" y="1212.1" width="14.0" height="244.6" fill="#fff" stroke="#000" stroke-width="2.4"/>
<line x1="675.3" y1="1193.0" x2="675.3" y2="1233.3" stroke="#000" stroke-width="2.2"/>
<line x1="671.3" y1="1193.0" x2="679.3" y2="1193.0" stroke="#000" stroke-width="2.2"/>
<line x1="671.3" y1="1233.3" x2="679.3" y2="1233.3" stroke="#000" stroke-width="2.2"/>
<circle cx="675.3" cy="1186.0" r="4.2" fill="#fff" stroke="#000" stroke-width="2.1"/>
<circle cx="671.3" cy="1220.2" r="4.2" fill="#fff" stroke="#000" stroke-width="2.1"/>
<circle cx="679.3" cy="1229.2" r="4.2" fill="#fff" stroke="#000" stroke-width="2.1"/>
<line x1="662.6" y1="1456.7" x2="662.6" y2="1466.7" stroke="#000" stroke-width="2.4"/>
<text x="672.6" y="1487.7" style="font-size:29px;font-style:italic" text-anchor="end" transform="rotate(-45 672.6000000000001 1487.7)">hoxc11b</text>
<rect x="709.8" y="1356.0" width="16.4" height="100.7" fill="#000"/>
<line x1="718.0" y1="1326.9" x2="718.0" y2="1356.0" stroke="#000" stroke-width="2.2"/>
<line x1="714.0" y1="1326.9" x2="722.0" y2="1326.9" stroke="#000" stroke-width="2.2"/>
<circle cx="718.0" cy="1326.9" r="4.2" fill="#3f3f3f"/>
<circle cx="714.0" cy="1362.1" r="4.2" fill="#3f3f3f"/>
<circle cx="722.0" cy="1379.2" r="4.2" fill="#3f3f3f"/>
<rect x="736.2" y="1295.7" width="14.0" height="161.0" fill="#fff" stroke="#000" stroke-width="2.4"/>
<line x1="743.2" y1="1280.6" x2="743.2" y2="1295.7" stroke="#000" stroke-width="2.2"/>
<line x1="739.2" y1="1280.6" x2="747.2" y2="1280.6" stroke="#000" stroke-width="2.2"/>
<circle cx="743.2" cy="1281.6" r="4.2" fill="#fff" stroke="#000" stroke-width="2.1"/>
<circle cx="739.2" cy="1294.7" r="4.2" fill="#fff" stroke="#000" stroke-width="2.1"/>
<circle cx="747.2" cy="1294.7" r="4.2" fill="#fff" stroke="#000" stroke-width="2.1"/>
<line x1="730.5" y1="1456.7" x2="730.5" y2="1466.7" stroke="#000" stroke-width="2.4"/>
<text x="740.5" y="1487.7" style="font-size:29px;font-style:italic" text-anchor="end" transform="rotate(-45 740.5 1487.7)">hoxd10a</text>
<rect x="193.7" y="1055.8" width="32.1" height="22.2" fill="#000"/>
<rect x="194.9" y="1103.9" width="29.7" height="19.4" fill="#fff" stroke="#000" stroke-width="2.4"/>
<text x="245.0" y="1077.4" style="font-size:31px;font-style:italic">wt</text>
<text x="245.0" y="1123.7" style="font-size:31px;font-style:italic">MZ lof1</text>
<text x="112.5" y="1250.7" style="font-size:31.5px" text-anchor="middle" transform="rotate(-90 112.5 1250.7)">Relative expression at 11-somites</text>
<path d="M306.4 1241.2V1233.7H338.7V1241.2" fill="none" stroke="#000" stroke-width="1.6"/>
<text x="279.4" y="1231.5" style="font-size:28px">p=0.02</text>
<path d="M511.0 1119.0V1111.5H543.0V1119.0" fill="none" stroke="#000" stroke-width="1.6"/>
<text x="484.4" y="1106.0" style="font-size:28px">p=0.04</text>
<path d="M650.0 1119.0V1111.5H680.6V1119.0" fill="none" stroke="#000" stroke-width="1.6"/>
<text x="607.4" y="1106.0" style="font-size:28px">p=0.0005</text>
<path d="M717.7 1240.7V1233.2H748.4V1240.7" fill="none" stroke="#000" stroke-width="1.6"/>
<text x="692.3" y="1230.4" style="font-size:28px">p=0.02</text>
<line x1="1403.5" y1="1670.5" x2="1403.5" y2="2139.4" stroke="#000" stroke-width="3"/>
<line x1="1402.0" y1="2137.9" x2="1722.8" y2="2137.9" stroke="#000" stroke-width="3"/>
<line x1="1393.5" y1="2137.9" x2="1403.5" y2="2137.9" stroke="#000" stroke-width="2.8"/>
<text x="1389.5" y="2150.2" style="font-size:34.5px" text-anchor="end">28</text>
<line x1="1393.5" y1="2060.2" x2="1403.5" y2="2060.2" stroke="#000" stroke-width="2.8"/>
<text x="1389.5" y="2072.6" style="font-size:34.5px" text-anchor="end">29</text>
<line x1="1393.5" y1="1982.6" x2="1403.5" y2="1982.6" stroke="#000" stroke-width="2.8"/>
<text x="1389.5" y="1994.9" style="font-size:34.5px" text-anchor="end">30</text>
<line x1="1393.5" y1="1905.0" x2="1403.5" y2="1905.0" stroke="#000" stroke-width="2.8"/>
<text x="1389.5" y="1917.2" style="font-size:34.5px" text-anchor="end">31</text>
<line x1="1393.5" y1="1827.3" x2="1403.5" y2="1827.3" stroke="#000" stroke-width="2.8"/>
<text x="1389.5" y="1839.6" style="font-size:34.5px" text-anchor="end">32</text>
<line x1="1393.5" y1="1749.7" x2="1403.5" y2="1749.7" stroke="#000" stroke-width="2.8"/>
<text x="1389.5" y="1762.0" style="font-size:34.5px" text-anchor="end">33</text>
<line x1="1393.5" y1="1672.0" x2="1403.5" y2="1672.0" stroke="#000" stroke-width="2.8"/>
<text x="1389.5" y="1684.3" style="font-size:34.5px" text-anchor="end">34</text>
<line x1="1440.7" y1="2137.9" x2="1440.7" y2="2149.4" stroke="#000" stroke-width="2.8"/>
<line x1="1521.5" y1="2137.9" x2="1521.5" y2="2149.4" stroke="#000" stroke-width="2.8"/>
<line x1="1601.0" y1="2137.9" x2="1601.0" y2="2149.4" stroke="#000" stroke-width="2.8"/>
<line x1="1681.3" y1="2137.9" x2="1681.3" y2="2149.4" stroke="#000" stroke-width="2.8"/>
<text x="1440.7" y="2128.2" style="font-size:34.5px" text-anchor="middle">47</text>
<text x="1521.5" y="2128.2" style="font-size:34.5px" text-anchor="middle">37</text>
<text x="1601.0" y="2128.2" style="font-size:34.5px" text-anchor="middle">31</text>
<text x="1681.3" y="2128.2" style="font-size:34.5px" text-anchor="middle">14</text>
<text x="1712.0" y="2128.2" style="font-size:34.5px">=n</text>
<circle cx="1431.0" cy="1749.7" r="6.3" fill="#000"/>
<circle cx="1452.2" cy="1749.7" r="6.3" fill="#000"/>
<circle cx="1431.0" cy="1827.3" r="6.3" fill="#000"/>
<circle cx="1436.0" cy="1827.3" r="6.3" fill="#000"/>
<circle cx="1441.6" cy="1827.3" r="6.3" fill="#000"/>
<circle cx="1447.0" cy="1827.3" r="6.3" fill="#000"/>
<circle cx="1452.2" cy="1827.3" r="6.3" fill="#000"/>
<circle cx="1430.0" cy="1905.0" r="6.3" fill="#000"/>
<circle cx="1430.0" cy="1982.6" r="6.3" fill="#000"/>
<circle cx="1433.0" cy="1905.0" r="6.3" fill="#000"/>
<circle cx="1433.0" cy="1982.6" r="6.3" fill="#000"/>
<circle cx="1436.0" cy="1905.0" r="6.3" fill="#000"/>
<circle cx="1436.0" cy="1982.6" r="6.3" fill="#000"/>
<circle cx="1439.0" cy="1905.0" r="6.3" fill="#000"/>
<circle cx="1439.0" cy="1982.6" r="6.3" fill="#000"/>
<circle cx="1442.0" cy="1905.0" r="6.3" fill="#000"/>
<circle cx="1442.0" cy="1982.6" r="6.3" fill="#000"/>
<circle cx="1445.0" cy="1905.0" r="6.3" fill="#000"/>
<circle cx="1445.0" cy="1982.6" r="6.3" fill="#000"/>
<circle cx="1448.0" cy="1905.0" r="6.3" fill="#000"/>
<circle cx="1448.0" cy="1982.6" r="6.3" fill="#000"/>
<circle cx="1451.0" cy="1905.0" r="6.3" fill="#000"/>
<circle cx="1451.0" cy="1982.6" r="6.3" fill="#000"/>
<line x1="1440.7" y1="1858.4" x2="1440.7" y2="1967.8" stroke="#000" stroke-width="4"/>
<line x1="1426.7" y1="1858.4" x2="1454.7" y2="1858.4" stroke="#000" stroke-width="4.5"/>
<line x1="1426.7" y1="1967.8" x2="1454.7" y2="1967.8" stroke="#000" stroke-width="4.5"/>
<line x1="1413.2" y1="1915.0" x2="1468.2" y2="1915.0" stroke="#000" stroke-width="4.5"/>
<rect x="1515.3" y="1898.8" width="12.4" height="12.4" fill="#fff" stroke="#000" stroke-width="2.6"/>
<rect x="1503.6" y="1975.4" width="37.6" height="14.4" fill="#000"/>
<rect x="1506.8" y="1978.1" width="3" height="9" fill="#fff"/>
<rect x="1534.5" y="1978.1" width="3" height="9" fill="#fff"/>
<rect x="1503.6" y="2053.1" width="37.6" height="14.4" fill="#000"/>
<rect x="1506.8" y="2055.8" width="3" height="9" fill="#fff"/>
<rect x="1534.5" y="2055.8" width="3" height="9" fill="#fff"/>
<line x1="1521.5" y1="1966.3" x2="1521.5" y2="2046.3" stroke="#000" stroke-width="4"/>
<line x1="1508.0" y1="1966.3" x2="1535.0" y2="1966.3" stroke="#000" stroke-width="4.5"/>
<line x1="1508.0" y1="2046.3" x2="1535.0" y2="2046.3" stroke="#000" stroke-width="4.5"/>
<line x1="1493.5" y1="2005.9" x2="1549.5" y2="2005.9" stroke="#000" stroke-width="4.5"/>
<rect x="1583.0" y="1975.4" width="37.0" height="14.4" fill="#000"/>
<rect x="1583.0" y="2053.1" width="37.0" height="14.4" fill="#000"/>
<rect x="1594.0" y="2130.7" width="14.0" height="14.4" fill="#000"/>
<line x1="1601.0" y1="2013.7" x2="1601.0" y2="2083.5" stroke="#000" stroke-width="4"/>
<line x1="1587.0" y1="2013.7" x2="1615.0" y2="2013.7" stroke="#000" stroke-width="4.5"/>
<line x1="1587.0" y1="2083.5" x2="1615.0" y2="2083.5" stroke="#000" stroke-width="4.5"/>
<line x1="1573.0" y1="2048.6" x2="1629.0" y2="2048.6" stroke="#000" stroke-width="4.5"/>
<path d="M1671.3 1897.5L1678.8 1911.0L1663.8 1911.0Z" fill="#000"/>
<path d="M1671.3 2052.8L1678.8 2066.2L1663.8 2066.2Z" fill="#000"/>
<path d="M1692.5 1897.5L1700.0 1911.0L1685.0 1911.0Z" fill="#000"/>
<path d="M1692.5 2052.8L1700.0 2066.2L1685.0 2066.2Z" fill="#000"/>
<path d="M1668.0 1976.1L1675.5 1989.6L1660.5 1989.6Z" fill="#000"/>
<path d="M1671.0 1976.1L1678.5 1989.6L1663.5 1989.6Z" fill="#000"/>
<path d="M1674.0 1976.1L1681.5 1989.6L1666.5 1989.6Z" fill="#000"/>
<path d="M1677.0 1976.1L1684.5 1989.6L1669.5 1989.6Z" fill="#000"/>
<path d="M1680.0 1976.1L1687.5 1989.6L1672.5 1989.6Z" fill="#000"/>
<path d="M1683.0 1976.1L1690.5 1989.6L1675.5 1989.6Z" fill="#000"/>
<path d="M1686.0 1976.1L1693.5 1989.6L1678.5 1989.6Z" fill="#000"/>
<path d="M1689.0 1976.1L1696.5 1989.6L1681.5 1989.6Z" fill="#000"/>
<path d="M1692.0 1976.1L1699.5 1989.6L1684.5 1989.6Z" fill="#000"/>
<path d="M1695.0 1976.1L1702.5 1989.6L1687.5 1989.6Z" fill="#000"/>
<path d="M1698.0 1976.1L1705.5 1989.6L1690.5 1989.6Z" fill="#000"/>
<line x1="1681.3" y1="1943.8" x2="1681.3" y2="2046.3" stroke="#000" stroke-width="4"/>
<line x1="1668.3" y1="1943.8" x2="1694.3" y2="1943.8" stroke="#000" stroke-width="4.5"/>
<line x1="1668.3" y1="2046.3" x2="1694.3" y2="2046.3" stroke="#000" stroke-width="4.5"/>
<line x1="1653.3" y1="1994.2" x2="1709.3" y2="1994.2" stroke="#000" stroke-width="4.5"/>
<path d="M1443.7 1693.2V1684.2H1600.2V1788.6" fill="none" stroke="#000" stroke-width="1.6"/>
<path d="M1523 1799.2V1788.6H1679.8V1799.2" fill="none" stroke="#000" stroke-width="1.6"/>
<text x="1464.8" y="1677.2" style="font-size:27px">p&lt;0.0001</text>
<text x="1334.0" y="1896.6" style="font-size:38px" text-anchor="middle" fill="#1a1206" transform="rotate(-90 1334 1896.6)">Total number of vertebrae</text>
<text x="1452.0" y="2178.0" style="font-size:32.5px;font-style:italic" text-anchor="end" fill="#1a1206" transform="rotate(-44 1452 2178)">wt</text>
<text x="1530.0" y="2181.0" style="font-size:32.5px;font-style:italic" text-anchor="end" fill="#1a1206" transform="rotate(-44 1530 2181)">MZ lof1</text>
<text x="1610.6" y="2181.0" style="font-size:32.5px;font-style:italic" text-anchor="end" fill="#1a1206" transform="rotate(-44 1610.6 2181)">MZ lof2</text>
<text x="1693.0" y="2181.0" style="font-size:32.5px;font-style:italic" text-anchor="end" fill="#1a1206" transform="rotate(-44 1693 2181)">MZ lof3</text>
<defs>
<filter id="b1" filterUnits="userSpaceOnUse" x="1000" y="1040" width="750" height="570"><feGaussianBlur stdDeviation="1.2"/></filter>
<filter id="b3" filterUnits="userSpaceOnUse" x="1000" y="1040" width="750" height="570"><feGaussianBlur stdDeviation="3"/></filter>
<filter id="b6" filterUnits="userSpaceOnUse" x="1000" y="1040" width="750" height="570"><feGaussianBlur stdDeviation="6"/></filter>
<filter id="b10" filterUnits="userSpaceOnUse" x="1000" y="1040" width="750" height="570"><feGaussianBlur stdDeviation="10"/></filter>
<radialGradient id="yk1" cx="0.5" cy="0.5" r="0.5"><stop offset="0" stop-color="#dba390"/><stop offset="0.75" stop-color="#d7a495"/><stop offset="1" stop-color="#cfa6b4"/></radialGradient>
<radialGradient id="yk2" cx="0.5" cy="0.5" r="0.5"><stop offset="0" stop-color="#d9a592"/><stop offset="0.7" stop-color="#d4a49b"/><stop offset="1" stop-color="#cfaac0"/></radialGradient>
<radialGradient id="yk3" cx="0.5" cy="0.5" r="0.5"><stop offset="0" stop-color="#bd7d88"/><stop offset="0.45" stop-color="#c68d95"/><stop offset="0.8" stop-color="#d0a2a4"/><stop offset="1" stop-color="#dab7ba"/></radialGradient>
<radialGradient id="yk4" cx="0.5" cy="0.5" r="0.5"><stop offset="0" stop-color="#cca2b2"/><stop offset="0.45" stop-color="#c59199"/><stop offset="0.8" stop-color="#d0a3a6"/><stop offset="1" stop-color="#dab7bb"/></radialGradient>
<radialGradient id="lav" cx="0.55" cy="0.45" r="0.6"><stop offset="0" stop-color="#c9c2f0"/><stop offset="0.8" stop-color="#cdc7f2"/><stop offset="1" stop-color="#dad6f6"/></radialGradient>
</defs>
<clipPath id="ce1"><path d="M1177.0 1071.0C1191.2 1071.0 1213.8 1071.5 1228.0 1075.0C1242.2 1078.5 1252.2 1084.2 1262.0 1092.0C1271.8 1099.8 1280.0 1110.7 1287.0 1122.0C1294.0 1133.3 1300.3 1147.3 1304.0 1160.0C1307.7 1172.7 1309.0 1184.5 1309.0 1198.0C1309.0 1211.5 1307.7 1228.2 1304.0 1241.0C1300.3 1253.8 1294.7 1265.5 1287.0 1275.0C1279.3 1284.5 1269.3 1293.2 1258.0 1298.0C1246.7 1302.8 1231.0 1303.7 1219.0 1304.0C1207.0 1304.3 1195.8 1301.7 1186.0 1300.0C1176.2 1298.3 1166.4 1294.3 1160.0 1294.0C1153.6 1293.7 1153.8 1296.0 1147.5 1298.0C1141.2 1300.0 1131.2 1305.7 1122.0 1306.0C1112.8 1306.3 1099.4 1305.2 1092.0 1300.0C1084.6 1294.8 1081.7 1285.3 1077.5 1274.6C1073.3 1263.9 1069.6 1248.8 1067.0 1236.0C1064.4 1223.2 1062.0 1210.7 1062.0 1198.0C1062.0 1185.3 1063.3 1172.7 1067.0 1160.0C1070.7 1147.3 1076.2 1133.3 1084.0 1122.0C1091.8 1110.7 1103.8 1099.8 1113.6 1092.0C1123.4 1084.2 1132.4 1078.5 1143.0 1075.0C1153.6 1071.5 1162.8 1071.0 1177.0 1071.0Z"/></clipPath>
<path d="M1177.0 1071.0C1191.2 1071.0 1213.8 1071.5 1228.0 1075.0C1242.2 1078.5 1252.2 1084.2 1262.0 1092.0C1271.8 1099.8 1280.0 1110.7 1287.0 1122.0C1294.0 1133.3 1300.3 1147.3 1304.0 1160.0C1307.7 1172.7 1309.0 1184.5 1309.0 1198.0C1309.0 1211.5 1307.7 1228.2 1304.0 1241.0C1300.3 1253.8 1294.7 1265.5 1287.0 1275.0C1279.3 1284.5 1269.3 1293.2 1258.0 1298.0C1246.7 1302.8 1231.0 1303.7 1219.0 1304.0C1207.0 1304.3 1195.8 1301.7 1186.0 1300.0C1176.2 1298.3 1166.4 1294.3 1160.0 1294.0C1153.6 1293.7 1153.8 1296.0 1147.5 1298.0C1141.2 1300.0 1131.2 1305.7 1122.0 1306.0C1112.8 1306.3 1099.4 1305.2 1092.0 1300.0C1084.6 1294.8 1081.7 1285.3 1077.5 1274.6C1073.3 1263.9 1069.6 1248.8 1067.0 1236.0C1064.4 1223.2 1062.0 1210.7 1062.0 1198.0C1062.0 1185.3 1063.3 1172.7 1067.0 1160.0C1070.7 1147.3 1076.2 1133.3 1084.0 1122.0C1091.8 1110.7 1103.8 1099.8 1113.6 1092.0C1123.4 1084.2 1132.4 1078.5 1143.0 1075.0C1153.6 1071.5 1162.8 1071.0 1177.0 1071.0Z" fill="url(#lav)"/>
<g clip-path="url(#ce1)">
<ellipse cx="1095" cy="1255" rx="40" ry="50" fill="#e2dff8" filter="url(#b10)"/>
<path d="M1115 1085 Q1180 1068 1240 1088" stroke="#b2a9e4" stroke-width="14" fill="none" filter="url(#b6)"/>
<path d="M1290 1160 Q1305 1220 1285 1270" stroke="#b9b1e8" stroke-width="10" fill="none" filter="url(#b6)"/>
</g>
<ellipse cx="1199" cy="1196" rx="93" ry="95" fill="url(#yk1)" filter="url(#b1)"/>
<ellipse cx="1108.5" cy="1128.4" rx="13" ry="11" fill="#c8891f" transform="rotate(-25 1108.5 1128.4)" filter="url(#b1)"/>
<ellipse cx="1100" cy="1143" rx="10" ry="7" fill="#8f8aa8" filter="url(#b3)"/>
<ellipse cx="1092.4" cy="1156" rx="15" ry="9.5" fill="#4a4320" transform="rotate(15 1092.4 1156)" filter="url(#b1)"/>
<clipPath id="ce2"><path d="M1516.0 1076.0C1532.2 1075.3 1554.7 1075.8 1571.0 1080.0C1587.3 1084.2 1601.6 1091.8 1613.6 1101.0C1625.6 1110.2 1635.3 1122.3 1643.0 1135.0C1650.7 1147.7 1656.6 1164.3 1660.0 1177.0C1663.4 1189.7 1664.3 1199.0 1663.6 1211.0C1662.9 1223.0 1660.1 1237.7 1656.0 1249.0C1651.9 1260.3 1646.8 1270.5 1639.0 1279.0C1631.2 1287.5 1620.3 1294.7 1609.0 1300.0C1597.7 1305.3 1585.1 1308.6 1571.0 1310.6C1556.9 1312.6 1540.8 1312.8 1524.6 1312.0C1508.4 1311.2 1485.0 1308.0 1473.7 1306.0C1462.4 1304.0 1463.9 1299.6 1456.8 1300.0C1449.7 1300.4 1438.8 1309.2 1431.0 1308.5C1423.2 1307.8 1415.6 1303.5 1410.0 1295.8C1404.4 1288.0 1400.4 1274.7 1397.5 1262.0C1394.6 1249.3 1392.8 1233.7 1392.4 1219.5C1392.0 1205.3 1392.1 1190.4 1395.0 1177.0C1397.9 1163.6 1402.5 1151.0 1410.0 1139.0C1417.5 1127.0 1429.3 1114.2 1440.0 1105.0C1450.7 1095.8 1461.3 1088.8 1474.0 1084.0C1486.7 1079.2 1499.8 1076.7 1516.0 1076.0Z"/></clipPath>
<path d="M1516.0 1076.0C1532.2 1075.3 1554.7 1075.8 1571.0 1080.0C1587.3 1084.2 1601.6 1091.8 1613.6 1101.0C1625.6 1110.2 1635.3 1122.3 1643.0 1135.0C1650.7 1147.7 1656.6 1164.3 1660.0 1177.0C1663.4 1189.7 1664.3 1199.0 1663.6 1211.0C1662.9 1223.0 1660.1 1237.7 1656.0 1249.0C1651.9 1260.3 1646.8 1270.5 1639.0 1279.0C1631.2 1287.5 1620.3 1294.7 1609.0 1300.0C1597.7 1305.3 1585.1 1308.6 1571.0 1310.6C1556.9 1312.6 1540.8 1312.8 1524.6 1312.0C1508.4 1311.2 1485.0 1308.0 1473.7 1306.0C1462.4 1304.0 1463.9 1299.6 1456.8 1300.0C1449.7 1300.4 1438.8 1309.2 1431.0 1308.5C1423.2 1307.8 1415.6 1303.5 1410.0 1295.8C1404.4 1288.0 1400.4 1274.7 1397.5 1262.0C1394.6 1249.3 1392.8 1233.7 1392.4 1219.5C1392.0 1205.3 1392.1 1190.4 1395.0 1177.0C1397.9 1163.6 1402.5 1151.0 1410.0 1139.0C1417.5 1127.0 1429.3 1114.2 1440.0 1105.0C1450.7 1095.8 1461.3 1088.8 1474.0 1084.0C1486.7 1079.2 1499.8 1076.7 1516.0 1076.0Z" fill="url(#lav)"/>
<g clip-path="url(#ce2)">
<ellipse cx="1422" cy="1262" rx="34" ry="50" fill="#e4e1f9" filter="url(#b10)"/>
<path d="M1445 1108 Q1500 1082 1575 1092" stroke="#a89ddd" stroke-width="16" fill="none" filter="url(#b6)"/>
<path d="M1640 1200 Q1650 1250 1630 1285" stroke="#b3aae6" stroke-width="10" fill="none" filter="url(#b6)"/>
</g>
<ellipse cx="1538" cy="1207" rx="111" ry="102" fill="url(#yk2)" filter="url(#b1)"/>
<ellipse cx="1431.4" cy="1132.6" rx="11" ry="10" fill="#c88a25" transform="rotate(-25 1431.4 1132.6)" filter="url(#b1)"/>
<ellipse cx="1421" cy="1147" rx="9" ry="7" fill="#8e89a8" filter="url(#b3)"/>
<ellipse cx="1415" cy="1162.3" rx="14" ry="10" fill="#3f3a1e" transform="rotate(10 1415 1162.3)" filter="url(#b1)"/>
<path d="M1185.0 1366.0C1201.7 1364.7 1222.5 1360.8 1240.0 1364.0C1257.5 1367.2 1277.0 1375.7 1290.0 1385.0C1303.0 1394.3 1311.7 1406.2 1318.0 1420.0C1324.3 1433.8 1326.8 1451.3 1328.0 1468.0C1329.2 1484.7 1328.0 1504.7 1325.0 1520.0C1322.0 1535.3 1315.5 1549.3 1310.0 1560.0C1304.5 1570.7 1300.0 1580.2 1292.0 1584.0C1284.0 1587.8 1272.3 1584.5 1262.0 1583.0C1251.7 1581.5 1243.7 1575.0 1230.0 1575.0C1216.3 1575.0 1195.0 1581.3 1180.0 1583.0C1165.0 1584.7 1151.7 1588.0 1140.0 1585.0C1128.3 1582.0 1118.0 1574.2 1110.0 1565.0C1102.0 1555.8 1096.7 1544.2 1092.0 1530.0C1087.3 1515.8 1083.2 1496.7 1082.0 1480.0C1080.8 1463.3 1081.2 1444.2 1085.0 1430.0C1088.8 1415.8 1095.8 1404.7 1105.0 1395.0C1114.2 1385.3 1126.7 1376.8 1140.0 1372.0C1153.3 1367.2 1168.3 1367.3 1185.0 1366.0Z" fill="#f1dbe2"/>
<ellipse cx="1192" cy="1467" rx="110" ry="95" fill="url(#yk3)" filter="url(#b1)"/>
<path d="M1312 1505 Q1305 1540 1282 1556" stroke="#8f7fd0" stroke-width="16" fill="none" filter="url(#b6)"/>
<ellipse cx="1278" cy="1559.6" rx="13" ry="14" fill="#2b1a9c" filter="url(#b1)"/>
<path d="M1520.0 1358.0C1536.7 1357.2 1561.7 1353.3 1580.0 1357.0C1598.3 1360.7 1616.3 1369.5 1630.0 1380.0C1643.7 1390.5 1654.2 1405.0 1662.0 1420.0C1669.8 1435.0 1674.8 1453.3 1677.0 1470.0C1679.2 1486.7 1677.8 1505.0 1675.0 1520.0C1672.2 1535.0 1666.7 1550.3 1660.0 1560.0C1653.3 1569.7 1645.0 1575.5 1635.0 1578.0C1625.0 1580.5 1612.5 1576.0 1600.0 1575.0C1587.5 1574.0 1575.0 1571.5 1560.0 1572.0C1545.0 1572.5 1525.0 1578.7 1510.0 1578.0C1495.0 1577.3 1481.7 1573.5 1470.0 1568.0C1458.3 1562.5 1448.7 1556.3 1440.0 1545.0C1431.3 1533.7 1423.0 1515.8 1418.0 1500.0C1413.0 1484.2 1410.0 1465.0 1410.0 1450.0C1410.0 1435.0 1412.2 1422.0 1418.0 1410.0C1423.8 1398.0 1434.7 1386.0 1445.0 1378.0C1455.3 1370.0 1467.5 1365.3 1480.0 1362.0C1492.5 1358.7 1503.3 1358.8 1520.0 1358.0Z" fill="#f1dbe2"/>
<ellipse cx="1524" cy="1456" rx="112" ry="100" fill="url(#yk4)" filter="url(#b1)"/>
<path d="M1668 1470 Q1668 1525 1645 1552" stroke="#5443b8" stroke-width="18" fill="none" filter="url(#b6)"/>
<ellipse cx="1626" cy="1554" rx="23" ry="20" fill="#2a1898" transform="rotate(-25 1626 1554)" filter="url(#b1)"/>
<line x1="1281.0" y1="1313.6" x2="1349.6" y2="1313.6" stroke="#000" stroke-width="2.2"/>
<line x1="1061.9" y1="1153.8" x2="1072.0" y2="1139.8" stroke="#000" stroke-width="1.8"/>
<line x1="1386.9" y1="1162.3" x2="1405.0" y2="1128.4" stroke="#000" stroke-width="2"/>
<line x1="1306.7" y1="1585.0" x2="1330.6" y2="1550.0" stroke="#000" stroke-width="2"/>
<line x1="1655.8" y1="1585.9" x2="1701.3" y2="1499.8" stroke="#000" stroke-width="2"/>
<text x="1182.5" y="1051.3" style="font-size:35px;font-style:italic">wt</text>
<text x="1488.0" y="1051.4" style="font-size:35px;font-style:italic">MZ lof1</text>
<text x="1013.0" y="1194.7" style="font-size:35px;font-style:italic" text-anchor="middle" transform="rotate(-90 1013 1194.7)"><tspan fill="#2200ff">hoxb2a/</tspan><tspan fill="#5c0000"> krox20</tspan></text>
<text x="1014.5" y="1467.4" style="font-size:35px;font-style:italic" text-anchor="middle" fill="#2200ff" transform="rotate(-90 1014.5 1467.4)">hoxc10a</text>
<defs>
<filter id="fb4" filterUnits="userSpaceOnUse" x="0" y="1580" width="1300" height="786"><feGaussianBlur stdDeviation="4"/></filter>
<filter id="fb8" filterUnits="userSpaceOnUse" x="0" y="1580" width="1300" height="786"><feGaussianBlur stdDeviation="8"/></filter>
<filter id="fb14" filterUnits="userSpaceOnUse" x="0" y="1580" width="1300" height="786"><feGaussianBlur stdDeviation="14"/></filter>
<filter id="fb2" filterUnits="userSpaceOnUse" x="0" y="1580" width="1300" height="786"><feGaussianBlur stdDeviation="1.6"/></filter>
</defs>
<path d="M292.0 1690.0C313.3 1660.7 375.3 1684.0 420.0 1684.0C464.7 1684.0 513.3 1687.3 560.0 1690.0C606.7 1692.7 651.7 1696.3 700.0 1700.0C748.3 1703.7 800.0 1708.3 850.0 1712.0C900.0 1715.7 958.3 1719.5 1000.0 1722.0C1041.7 1724.5 1071.7 1725.7 1100.0 1727.0C1128.3 1728.3 1158.0 1726.2 1170.0 1730.0C1182.0 1733.8 1183.7 1743.0 1172.0 1750.0C1160.3 1757.0 1128.7 1764.3 1100.0 1772.0C1071.3 1779.7 1033.3 1788.0 1000.0 1796.0C966.7 1804.0 940.0 1809.3 900.0 1820.0C860.0 1830.7 793.3 1844.2 760.0 1860.0C726.7 1875.8 723.3 1902.5 700.0 1915.0C676.7 1927.5 658.3 1930.8 620.0 1935.0C581.7 1939.2 513.3 1943.3 470.0 1940.0C426.7 1936.7 389.7 1928.3 360.0 1915.0C330.3 1901.7 303.3 1897.5 292.0 1860.0C280.7 1822.5 270.7 1719.3 292.0 1690.0Z" fill="#fcf3d2" filter="url(#fb8)"/>
<path d="M300.0 1700.0C320.0 1682.5 376.7 1694.2 420.0 1695.0C463.3 1695.8 513.3 1701.2 560.0 1705.0C606.7 1708.8 651.7 1714.2 700.0 1718.0C748.3 1721.8 800.0 1726.0 850.0 1728.0C900.0 1730.0 950.0 1729.7 1000.0 1730.0C1050.0 1730.3 1125.0 1726.3 1150.0 1730.0C1175.0 1733.7 1175.0 1743.7 1150.0 1752.0C1125.0 1760.3 1050.0 1772.0 1000.0 1780.0C950.0 1788.0 900.0 1795.8 850.0 1800.0C800.0 1804.2 748.3 1805.0 700.0 1805.0C651.7 1805.0 606.7 1802.5 560.0 1800.0C513.3 1797.5 463.3 1790.0 420.0 1790.0C376.7 1790.0 320.0 1815.0 300.0 1800.0C280.0 1785.0 280.0 1717.5 300.0 1700.0Z" fill="#f7e27c" opacity="0.7" filter="url(#fb8)"/>
<path d="M285.0 1705.0C291.7 1685.8 316.7 1697.5 330.0 1705.0C343.3 1712.5 360.0 1732.5 365.0 1750.0C370.0 1767.5 365.8 1796.7 360.0 1810.0C354.2 1823.3 341.7 1828.3 330.0 1830.0C318.3 1831.7 297.5 1840.8 290.0 1820.0C282.5 1799.2 278.3 1724.2 285.0 1705.0Z" fill="#f2cf72" opacity="0.7" filter="url(#fb14)"/>
<path d="M840.0 1780.0C850.0 1775.8 890.0 1781.7 900.0 1785.0C910.0 1788.3 910.0 1795.8 900.0 1800.0C890.0 1804.2 850.0 1813.3 840.0 1810.0C830.0 1806.7 830.0 1784.2 840.0 1780.0Z" fill="#f4e070" opacity="0.8" filter="url(#fb8)"/>
<path d="M682.0 1703.0C680.0 1701.7 692.3 1691.2 700.0 1686.0C707.7 1680.8 726.0 1670.7 728.0 1672.0C730.0 1673.3 719.7 1688.8 712.0 1694.0C704.3 1699.2 684.0 1704.3 682.0 1703.0Z" fill="#d884c4" opacity="0.7" filter="url(#fb2)"/>
<path d="M748.0 1838.0C746.8 1841.3 753.3 1883.3 757.0 1900.0C760.7 1916.7 768.8 1941.3 770.0 1938.0C771.2 1934.7 767.7 1896.7 764.0 1880.0C760.3 1863.3 749.2 1834.7 748.0 1838.0Z" fill="#d884c4" opacity="0.6" filter="url(#fb2)"/>
<path d="M330.0 1683.0C331.7 1678.0 335.0 1679.8 350.0 1680.0C365.0 1680.2 411.7 1680.7 420.0 1684.0C428.3 1687.3 413.3 1695.7 400.0 1700.0C386.7 1704.3 351.7 1712.8 340.0 1710.0C328.3 1707.2 328.3 1688.0 330.0 1683.0Z" fill="#dc90c8" opacity="0.55" filter="url(#fb2)"/>
<path d="M406.0 1748.3Q436.8 1836.7 458.0 1923.0" stroke="#d47cbc" stroke-width="3.2" fill="none" opacity="0.75"/>
<path d="M440.0 1754.0Q471.1 1838.8 492.5 1921.5" stroke="#d47cbc" stroke-width="3.2" fill="none" opacity="0.75"/>
<path d="M474.0 1759.7Q505.5 1840.8 527.0 1920.0" stroke="#d47cbc" stroke-width="3.2" fill="none" opacity="0.75"/>
<path d="M508.0 1765.4Q539.9 1842.9 561.5 1918.5" stroke="#d47cbc" stroke-width="3.2" fill="none" opacity="0.75"/>
<path d="M542.0 1769.4Q574.2 1844.2 596.0 1917.0" stroke="#d47cbc" stroke-width="3.2" fill="none" opacity="0.75"/>
<path d="M576.0 1772.7Q608.5 1845.1 630.5 1915.5" stroke="#d47cbc" stroke-width="3.2" fill="none" opacity="0.75"/>
<path d="M610.0 1775.5Q642.9 1845.7 665.0 1914.0" stroke="#d47cbc" stroke-width="3.2" fill="none" opacity="0.75"/>
<path d="M644.0 1777.4Q677.2 1846.0 699.5 1912.5" stroke="#d47cbc" stroke-width="3.2" fill="none" opacity="0.75"/>
<path d="M678.0 1779.6Q711.6 1841.3 734.0 1901.0" stroke="#d47cbc" stroke-width="3.2" fill="none" opacity="0.75"/>
<path d="M712.0 1781.8Q746.0 1836.4 768.5 1889.0" stroke="#d47cbc" stroke-width="3.2" fill="none" opacity="0.75"/>
<path d="M392.0 1740.3Q418.4 1821.3 436.0 1933.0" stroke="#b4237c" stroke-width="4.2" fill="none" stroke-linecap="round"/>
<path d="M426.0 1746.0Q452.7 1823.9 470.5 1931.5" stroke="#b4237c" stroke-width="4.2" fill="none" stroke-linecap="round"/>
<path d="M460.0 1751.7Q487.0 1826.6 505.0 1930.0" stroke="#b4237c" stroke-width="4.2" fill="none" stroke-linecap="round"/>
<path d="M494.0 1757.4Q521.3 1829.2 539.5 1928.5" stroke="#b4237c" stroke-width="4.2" fill="none" stroke-linecap="round"/>
<path d="M528.0 1761.4Q555.6 1830.9 574.0 1927.0" stroke="#b4237c" stroke-width="4.2" fill="none" stroke-linecap="round"/>
<path d="M562.0 1764.7Q589.9 1832.3 608.5 1925.5" stroke="#b4237c" stroke-width="4.2" fill="none" stroke-linecap="round"/>
<path d="M596.0 1767.5Q624.2 1833.2 643.0 1924.0" stroke="#b4237c" stroke-width="4.2" fill="none" stroke-linecap="round"/>
<path d="M630.0 1769.4Q658.5 1833.7 677.5 1922.5" stroke="#b4237c" stroke-width="4.2" fill="none" stroke-linecap="round"/>
<path d="M664.0 1771.6Q692.8 1830.1 712.0 1911.0" stroke="#b4237c" stroke-width="4.2" fill="none" stroke-linecap="round"/>
<path d="M698.0 1773.8Q727.1 1826.4 746.5 1899.0" stroke="#b4237c" stroke-width="4.2" fill="none" stroke-linecap="round"/>
<path d="M392.0 1740.3Q409.5 1708.7 434.9 1681.1M422.5 1745.4Q439.6 1714.3 464.7 1687.3M453.0 1750.5Q469.7 1720.0 494.4 1693.4M483.5 1755.6Q499.8 1725.6 524.2 1699.5M514.0 1760.0Q530.0 1730.5 553.9 1705.0M544.5 1763.0Q560.1 1734.0 583.6 1709.0M575.0 1766.0Q590.2 1737.5 613.4 1713.1M605.5 1768.0Q620.3 1740.1 643.1 1716.1M636.0 1769.8Q650.4 1742.3 672.9 1718.9M666.5 1771.7Q680.6 1744.8 702.6 1721.9M697.0 1773.8Q710.7 1747.3 732.4 1725.0M727.5 1775.2Q740.8 1749.3 762.1 1727.4M758.0 1775.7Q770.9 1750.4 791.9 1729.0M788.5 1776.2Q801.1 1751.4 821.6 1730.6M819.0 1776.8Q831.2 1752.4 851.4 1732.1M849.5 1775.8Q861.3 1752.0 881.1 1732.2M880.0 1773.7Q891.4 1750.4 910.9 1731.2M910.5 1771.6Q921.6 1748.9 940.6 1730.1M941.0 1769.5Q951.7 1747.3 970.3 1729.1M971.5 1766.0Q981.8 1744.3 1000.1 1726.6M1002.0 1762.0Q1011.9 1740.8 1029.8 1723.6M1032.5 1758.0Q1042.0 1737.3 1059.6 1720.6M1063.0 1754.0Q1072.2 1733.8 1089.3 1717.6M1093.5 1749.7Q1102.3 1730.0 1119.1 1714.4M1124.0 1745.3Q1132.4 1726.2 1148.8 1711.1M1154.5 1741.0Q1162.5 1722.4 1178.6 1707.8" stroke="#b4237c" stroke-width="3.2" fill="none" stroke-linecap="round"/>
<path d="M740.0 1775.4Q758.6 1806.2 783.2 1833.0M770.0 1775.9Q787.8 1805.6 811.5 1831.3M800.0 1776.4Q816.9 1805.0 839.8 1829.6M830.0 1777.0Q846.1 1804.4 868.2 1827.8M860.0 1775.1Q875.2 1801.4 896.5 1823.7M890.0 1773.0Q904.4 1798.2 924.8 1819.4M920.0 1771.0Q933.6 1795.1 953.1 1815.1M950.0 1768.8Q962.7 1791.8 981.4 1810.7M980.0 1764.9Q991.9 1786.7 1009.8 1804.6M1010.0 1760.9Q1021.0 1781.7 1038.1 1798.4M1040.0 1757.0Q1050.2 1776.6 1066.4 1792.2M1070.0 1753.0Q1079.4 1771.5 1094.7 1786.0M1100.0 1748.7Q1108.5 1766.1 1123.0 1779.5M1130.0 1744.5Q1137.7 1760.7 1151.4 1773.0M1160.0 1740.3Q1166.8 1755.4 1179.7 1766.5" stroke="#b4237c" stroke-width="3.6" fill="none" stroke-linecap="round"/>
<path d="M690.0 1707.0L728.0 1672.0M699.6 1707.6L737.7 1671.9M709.2 1708.2L747.3 1671.8M718.8 1708.8L757.0 1671.8M728.3 1709.3L766.7 1671.7M737.9 1709.9L776.3 1671.6M747.5 1710.5L786.0 1671.5M757.1 1711.1L795.7 1671.4M766.7 1711.7L805.3 1671.3M776.2 1712.2L815.0 1671.2M785.8 1712.8L824.7 1671.2M795.4 1713.4L834.3 1671.1M805.0 1714.0L844.0 1671.0" stroke="#b4237c" stroke-width="3.4" fill="none" stroke-linecap="round"/>
<path d="M728.0 1672.0 L844.0 1671.0" stroke="#a11a66" stroke-width="6" fill="none" stroke-dasharray="3 3.5"/>
<path d="M748.0 1838.0L768.0 1941.0M758.2 1837.7L780.4 1937.8M768.4 1837.3L792.9 1934.6M778.7 1837.0L805.3 1931.3M788.9 1836.7L817.8 1928.1M799.1 1836.3L830.2 1924.9M809.3 1836.0L842.7 1921.7M819.6 1835.7L855.1 1918.4M829.8 1835.3L867.6 1915.2M840.0 1835.0L880.0 1912.0M852.8 1833.1L892.2 1908.2M865.6 1831.2L904.4 1904.4M878.3 1829.3L916.7 1900.7M891.1 1827.4L928.9 1896.9M903.9 1825.6L941.1 1893.1M916.7 1823.7L953.3 1889.3M929.4 1821.8L965.6 1885.6M942.2 1819.9L977.8 1881.8M955.0 1818.0L990.0 1878.0" stroke="#b4237c" stroke-width="3.4" fill="none" stroke-linecap="round"/>
<path d="M768.0 1941.0 L880.0 1912.0 L990.0 1878.0" stroke="#a11a66" stroke-width="6" fill="none" stroke-dasharray="3 3.5"/>
<path d="M1135.0 1730.0 L1200.0 1664.0 L1216.0 1662.0 L1225.0 1690.0 L1227.0 1736.0 L1222.0 1783.0 L1206.0 1791.0 L1190.0 1790.0 L1135.0 1752.0Z" fill="#dc8fd0" opacity="0.55"/>
<path d="M1125.0 1728.6Q1180.0 1694.4 1200.0 1664.0M1127.4 1728.5Q1180.0 1694.1 1203.8 1663.5M1129.8 1728.5Q1180.0 1693.8 1207.7 1663.0M1132.2 1728.4Q1180.0 1693.5 1211.5 1662.6M1134.6 1728.3Q1180.0 1693.2 1215.4 1662.1M1137.0 1729.1Q1180.0 1696.6 1217.8 1667.6M1139.4 1730.1Q1180.0 1700.6 1220.0 1674.3M1141.8 1731.2Q1180.0 1704.6 1222.1 1681.0M1144.2 1732.2Q1180.0 1708.7 1224.3 1687.8M1146.6 1733.6Q1180.0 1714.4 1225.3 1697.4M1149.0 1735.3Q1180.0 1721.0 1225.8 1708.4M1151.4 1736.9Q1180.0 1727.7 1226.3 1719.4M1153.8 1738.6Q1180.0 1734.3 1226.8 1730.5M1153.8 1740.2Q1180.0 1741.0 1226.4 1741.6M1151.4 1741.9Q1180.0 1747.8 1225.2 1752.9M1149.0 1743.6Q1180.0 1754.5 1224.0 1764.2M1146.6 1745.3Q1180.0 1761.3 1222.8 1775.5M1144.2 1746.5Q1180.0 1766.2 1220.7 1783.6M1141.8 1746.8Q1180.0 1767.3 1216.9 1785.6M1139.4 1747.1Q1180.0 1768.5 1213.0 1787.5M1137.0 1747.4Q1180.0 1769.6 1209.2 1789.4M1134.6 1747.6Q1180.0 1770.6 1205.4 1791.0M1132.2 1747.6Q1180.0 1770.4 1201.5 1790.7M1129.8 1747.6Q1180.0 1770.3 1197.7 1790.5M1127.4 1747.5Q1180.0 1770.1 1193.8 1790.2M1125.0 1747.5Q1180.0 1770.0 1190.0 1790.0" stroke="#bb3d98" stroke-width="2.6" fill="none" opacity="0.9"/>
<path d="M1200.0 1664.0 L1216.0 1662.0 L1225.0 1690.0 L1227.0 1736.0 L1222.0 1783.0 L1206.0 1791.0 L1190.0 1790.0" stroke="#b53a92" stroke-width="10" fill="none" stroke-dasharray="1.6 1.8" opacity="0.75"/>
<path d="M298.0 1731.0C310.3 1732.0 350.7 1734.5 372.0 1737.0C393.3 1739.5 404.1 1742.3 426.0 1746.0C447.9 1749.7 477.9 1755.6 503.7 1759.0C529.5 1762.4 558.3 1764.8 581.0 1766.6C603.7 1768.4 617.5 1768.6 640.0 1770.0C662.5 1771.4 683.9 1773.8 716.0 1775.0C748.1 1776.2 793.7 1778.0 832.5 1777.0C871.3 1776.0 910.0 1772.9 948.7 1769.0C987.5 1765.1 1029.5 1758.5 1065.0 1753.7C1100.5 1748.9 1142.6 1742.8 1161.8 1740.0C1181.0 1737.2 1177.0 1737.5 1180.0 1737.0" stroke="#b9408a" stroke-width="19" fill="none" stroke-linecap="round" opacity="0.92"/>
<path d="M298.0 1731.0C310.3 1732.0 350.7 1734.5 372.0 1737.0C393.3 1739.5 404.1 1742.3 426.0 1746.0C447.9 1749.7 477.9 1755.6 503.7 1759.0C529.5 1762.4 558.3 1764.8 581.0 1766.6C603.7 1768.4 617.5 1768.6 640.0 1770.0C662.5 1771.4 683.9 1773.8 716.0 1775.0C748.1 1776.2 793.7 1778.0 832.5 1777.0C871.3 1776.0 910.0 1772.9 948.7 1769.0C987.5 1765.1 1029.5 1758.5 1065.0 1753.7C1100.5 1748.9 1142.6 1742.8 1161.8 1740.0C1181.0 1737.2 1177.0 1737.5 1180.0 1737.0" stroke="#92214f" stroke-width="4" fill="none" opacity="0.8"/>
<path d="M316.0 1732.5h0M350.0 1735.2h0M384.0 1739.0h0M418.0 1744.7h0M452.0 1750.4h0M486.0 1756.0h0M520.0 1760.6h0M554.0 1763.9h0M588.0 1767.0h0M622.0 1769.0h0M656.0 1771.1h0M690.0 1773.3h0M724.0 1775.1h0M758.0 1775.7h0M792.0 1776.3h0M826.0 1776.9h0M860.0 1775.1h0M894.0 1772.8h0M928.0 1770.4h0M962.0 1767.3h0M996.0 1762.8h0M1030.0 1758.3h0M1064.0 1753.8h0M1098.0 1749.0h0M1132.0 1744.2h0M1166.0 1739.3h0" stroke="#8a1a4c" stroke-width="11" stroke-linecap="round" fill="none" opacity="0.85"/>
<path d="M284.0 1846.0 L530.0 1886.0 L522.0 1905.0 L500.0 1926.0 L472.0 1944.0 L445.0 1952.0 L400.0 1940.0Z" fill="#dd90c8" opacity="0.35"/>
<path d="M284.0 1846.0L530.0 1886.0M284.0 1846.0L528.6 1889.3M284.0 1846.0L527.2 1892.6M284.0 1846.0L525.9 1895.8M284.0 1846.0L524.5 1899.1M284.0 1846.0L523.1 1902.4M284.0 1846.0L521.2 1905.7M284.0 1846.0L517.4 1909.3M284.0 1846.0L513.7 1913.0M284.0 1846.0L509.9 1916.6M284.0 1846.0L506.1 1920.2M284.0 1846.0L502.3 1923.8M284.0 1846.0L498.1 1927.2M284.0 1846.0L493.2 1930.3M284.0 1846.0L488.4 1933.4M284.0 1846.0L483.6 1936.6M284.0 1846.0L478.8 1939.7M284.0 1846.0L473.9 1942.8M284.0 1846.0L469.2 1944.8M284.0 1846.0L464.6 1946.2M284.0 1846.0L459.9 1947.6M284.0 1846.0L455.2 1949.0M284.0 1846.0L450.6 1950.3M284.0 1846.0L445.9 1951.7M284.0 1846.0L438.8 1950.3M284.0 1846.0L431.0 1948.3M284.0 1846.0L423.3 1946.2M284.0 1846.0L415.5 1944.1M284.0 1846.0L407.8 1942.1M284.0 1846.0L400.0 1940.0" stroke="#b02886" stroke-width="1.5" fill="none" opacity="0.85"/>
<path d="M56.0 1679.0C58.7 1675.3 62.3 1670.3 72.0 1668.0C81.7 1665.7 100.2 1667.0 114.0 1665.0C127.8 1663.0 142.3 1658.5 155.0 1656.0C167.7 1653.5 175.8 1650.8 190.0 1650.0C204.2 1649.2 226.7 1648.5 240.0 1651.0C253.3 1653.5 261.2 1660.0 270.0 1665.0C278.8 1670.0 287.5 1676.0 293.0 1681.0C298.5 1686.0 304.3 1688.5 303.0 1695.0C301.7 1701.5 289.3 1706.2 285.0 1720.0C280.7 1733.8 277.5 1758.0 277.0 1778.0C276.5 1798.0 283.2 1826.7 282.0 1840.0C280.8 1853.3 275.8 1853.0 270.0 1858.0C264.2 1863.0 256.7 1866.8 247.0 1870.0C237.3 1873.2 223.5 1877.0 212.0 1877.0C200.5 1877.0 188.3 1874.2 178.0 1870.0C167.7 1865.8 159.7 1860.5 150.0 1852.0C140.3 1843.5 128.8 1829.3 120.0 1819.0C111.2 1808.7 104.5 1800.7 97.0 1790.0C89.5 1779.3 80.3 1765.5 75.0 1755.0C69.7 1744.5 68.2 1737.8 65.0 1727.0C61.8 1716.2 57.5 1698.0 56.0 1690.0C54.5 1682.0 53.3 1682.7 56.0 1679.0Z" fill="#a82a78" opacity="1"/>
<path d="M272.0 1684.0C274.7 1680.3 287.3 1685.3 292.0 1690.0C296.7 1694.7 300.3 1706.2 300.0 1712.0C299.7 1717.8 294.0 1725.0 290.0 1725.0C286.0 1725.0 279.0 1718.8 276.0 1712.0C273.0 1705.2 269.3 1687.7 272.0 1684.0Z" fill="#f3dc9a" opacity="0.9" filter="url(#fb2)"/>
<path d="M150.0 1665.0C158.3 1654.2 183.3 1655.5 200.0 1655.0C216.7 1654.5 238.0 1655.3 250.0 1662.0C262.0 1668.7 268.0 1678.7 272.0 1695.0C276.0 1711.3 274.3 1740.0 274.0 1760.0C273.7 1780.0 276.5 1804.7 270.0 1815.0C263.5 1825.3 247.5 1823.7 235.0 1822.0C222.5 1820.3 206.7 1813.7 195.0 1805.0C183.3 1796.3 172.5 1784.2 165.0 1770.0C157.5 1755.8 152.5 1737.5 150.0 1720.0C147.5 1702.5 141.7 1675.8 150.0 1665.0Z" fill="#8b1e44" opacity="0.92" filter="url(#fb4)"/>
<path d="M165.0 1662.0C169.2 1656.3 193.3 1655.7 205.0 1656.0C216.7 1656.3 232.2 1658.7 235.0 1664.0C237.8 1669.3 231.2 1683.7 222.0 1688.0C212.8 1692.3 189.5 1694.3 180.0 1690.0C170.5 1685.7 160.8 1667.7 165.0 1662.0Z" fill="#b5493e" opacity="0.7" filter="url(#fb4)"/>
<path d="M196.0 1735.0C203.5 1731.7 226.0 1734.2 235.0 1740.0C244.0 1745.8 250.8 1760.8 250.0 1770.0C249.2 1779.2 238.3 1791.7 230.0 1795.0C221.7 1798.3 206.7 1795.8 200.0 1790.0C193.3 1784.2 190.7 1769.2 190.0 1760.0C189.3 1750.8 188.5 1738.3 196.0 1735.0Z" fill="#a23a62" opacity="0.7" filter="url(#fb4)"/>
<path d="M66.0 1700.0C71.0 1693.0 87.7 1688.3 100.0 1688.0C112.3 1687.7 131.3 1689.3 140.0 1698.0C148.7 1706.7 151.7 1727.2 152.0 1740.0C152.3 1752.8 149.0 1768.0 142.0 1775.0C135.0 1782.0 119.7 1784.2 110.0 1782.0C100.3 1779.8 90.7 1770.7 84.0 1762.0C77.3 1753.3 73.0 1740.3 70.0 1730.0C67.0 1719.7 61.0 1707.0 66.0 1700.0Z" fill="#c35fbb" opacity="0.85" filter="url(#fb4)"/>
<path d="M118.0 1702.0C122.2 1698.5 140.2 1697.5 150.0 1699.0C159.8 1700.5 172.2 1705.2 177.0 1711.0C181.8 1716.8 181.5 1728.3 179.0 1734.0C176.5 1739.7 168.5 1744.2 162.0 1745.0C155.5 1745.8 146.2 1743.2 140.0 1739.0C133.8 1734.8 128.7 1726.2 125.0 1720.0C121.3 1713.8 113.8 1705.5 118.0 1702.0Z" fill="#fcf5f7" opacity="0.95" filter="url(#fb2)"/>
<path d="M110.0 1805.0C113.3 1796.7 148.3 1795.5 170.0 1800.0C191.7 1804.5 226.3 1822.0 240.0 1832.0C253.7 1842.0 257.8 1853.3 252.0 1860.0C246.2 1866.7 222.0 1873.7 205.0 1872.0C188.0 1870.3 165.8 1861.2 150.0 1850.0C134.2 1838.8 106.7 1813.3 110.0 1805.0Z" fill="#b0307e" opacity="0.75" filter="url(#fb4)"/>
<path d="M270.0 1686.0C271.3 1695.0 277.0 1721.0 278.0 1740.0C279.0 1759.0 275.3 1783.3 276.0 1800.0C276.7 1816.7 281.0 1833.3 282.0 1840.0" stroke="#5c0f2c" stroke-width="2.2" fill="none" opacity="0.7"/>
<path d="M160.0 1690.0C165.0 1695.0 183.3 1706.7 190.0 1720.0C196.7 1733.3 191.7 1756.7 200.0 1770.0C208.3 1783.3 228.7 1796.7 240.0 1800.0C251.3 1803.3 263.3 1791.7 268.0 1790.0" stroke="#6a1434" stroke-width="1.6" fill="none" opacity="0.55"/>
<path d="M120.0 1770.0C128.3 1773.3 151.7 1781.7 170.0 1790.0C188.3 1798.3 213.3 1813.3 230.0 1820.0C246.7 1826.7 263.3 1828.3 270.0 1830.0" stroke="#7a1a48" stroke-width="1.6" fill="none" opacity="0.5"/>
<path d="M190.0 1660.0C191.7 1666.7 195.8 1686.7 200.0 1700.0C204.2 1713.3 207.5 1730.0 215.0 1740.0C222.5 1750.0 240.0 1756.7 245.0 1760.0" stroke="#6a1434" stroke-width="1.4" fill="none" opacity="0.45"/>
<ellipse cx="91.8" cy="1727.4" rx="10.5" ry="17" fill="none" stroke="#2a0a24" stroke-width="4.5"/>
<path d="M292.0 2030.0C313.3 1996.3 375.3 2021.0 420.0 2018.0C464.7 2015.0 513.3 2011.3 560.0 2012.0C606.7 2012.7 651.7 2017.3 700.0 2022.0C748.3 2026.7 800.0 2034.5 850.0 2040.0C900.0 2045.5 958.3 2051.7 1000.0 2055.0C1041.7 2058.3 1070.8 2058.8 1100.0 2060.0C1129.2 2061.2 1162.0 2057.3 1175.0 2062.0C1188.0 2066.7 1190.5 2079.2 1178.0 2088.0C1165.5 2096.8 1129.7 2106.3 1100.0 2115.0C1070.3 2123.7 1033.3 2130.8 1000.0 2140.0C966.7 2149.2 936.7 2159.2 900.0 2170.0C863.3 2180.8 810.0 2189.2 780.0 2205.0C750.0 2220.8 746.7 2250.8 720.0 2265.0C693.3 2279.2 661.7 2285.0 620.0 2290.0C578.3 2295.0 513.3 2298.3 470.0 2295.0C426.7 2291.7 389.7 2282.5 360.0 2270.0C330.3 2257.5 303.3 2260.0 292.0 2220.0C280.7 2180.0 270.7 2063.7 292.0 2030.0Z" fill="#fcf3d2" filter="url(#fb8)"/>
<path d="M300.0 2050.0C320.0 2029.2 376.7 2045.0 420.0 2045.0C463.3 2045.0 513.3 2047.5 560.0 2050.0C606.7 2052.5 651.7 2055.8 700.0 2060.0C748.3 2064.2 800.0 2072.0 850.0 2075.0C900.0 2078.0 950.0 2079.2 1000.0 2078.0C1050.0 2076.8 1125.0 2065.2 1150.0 2068.0C1175.0 2070.8 1175.0 2085.5 1150.0 2095.0C1125.0 2104.5 1050.0 2115.8 1000.0 2125.0C950.0 2134.2 900.0 2144.2 850.0 2150.0C800.0 2155.8 748.3 2158.3 700.0 2160.0C651.7 2161.7 606.7 2160.0 560.0 2160.0C513.3 2160.0 463.3 2158.3 420.0 2160.0C376.7 2161.7 320.0 2188.3 300.0 2170.0C280.0 2151.7 280.0 2070.8 300.0 2050.0Z" fill="#f6dc7a" opacity="0.75" filter="url(#fb8)"/>
<path d="M285.0 2105.0C293.3 2088.0 322.5 2102.2 340.0 2108.0C357.5 2113.8 380.8 2124.7 390.0 2140.0C399.2 2155.3 403.3 2187.5 395.0 2200.0C386.7 2212.5 357.5 2213.3 340.0 2215.0C322.5 2216.7 299.2 2228.3 290.0 2210.0C280.8 2191.7 276.7 2122.0 285.0 2105.0Z" fill="#e09a55" opacity="0.9" filter="url(#fb14)"/>
<path d="M430.0 2125.0C458.3 2118.3 551.7 2123.3 600.0 2125.0C648.3 2126.7 703.3 2128.3 720.0 2135.0C736.7 2141.7 726.7 2159.2 700.0 2165.0C673.3 2170.8 605.0 2170.0 560.0 2170.0C515.0 2170.0 451.7 2172.5 430.0 2165.0C408.3 2157.5 401.7 2131.7 430.0 2125.0Z" fill="#f0c36a" opacity="0.75" filter="url(#fb8)"/>
<path d="M672.0 2042.0C670.0 2039.5 690.3 2022.2 700.0 2015.0C709.7 2007.8 728.0 1996.5 730.0 1999.0C732.0 2001.5 721.7 2022.8 712.0 2030.0C702.3 2037.2 674.0 2044.5 672.0 2042.0Z" fill="#d884c4" opacity="0.7" filter="url(#fb2)"/>
<path d="M730.0 2196.0C727.2 2201.0 737.8 2236.2 745.0 2250.0C752.2 2263.8 770.2 2284.0 773.0 2279.0C775.8 2274.0 769.2 2233.8 762.0 2220.0C754.8 2206.2 732.8 2191.0 730.0 2196.0Z" fill="#d884c4" opacity="0.6" filter="url(#fb2)"/>
<path d="M335.0 2040.0C341.7 2034.2 365.8 2030.8 380.0 2030.0C394.2 2029.2 410.0 2030.8 420.0 2035.0C430.0 2039.2 446.7 2050.0 440.0 2055.0C433.3 2060.0 396.7 2063.3 380.0 2065.0C363.3 2066.7 347.5 2069.2 340.0 2065.0C332.5 2060.8 328.3 2045.8 335.0 2040.0Z" fill="#d27ab8" opacity="0.6" filter="url(#fb2)"/>
<path d="M246.0 2225.0C256.0 2220.0 297.7 2215.8 320.0 2220.0C342.3 2224.2 378.3 2243.0 380.0 2250.0C381.7 2257.0 350.0 2262.0 330.0 2262.0C310.0 2262.0 274.0 2256.2 260.0 2250.0C246.0 2243.8 236.0 2230.0 246.0 2225.0Z" fill="#c24a98" opacity="0.55" filter="url(#fb2)"/>
<path d="M389.0 2119.3Q425.4 2200.6 449.0 2280.0" stroke="#d47cbc" stroke-width="3.2" fill="none" opacity="0.75"/>
<path d="M425.0 2120.8Q461.4 2198.4 485.0 2274.0" stroke="#d47cbc" stroke-width="3.2" fill="none" opacity="0.75"/>
<path d="M461.0 2122.3Q497.4 2196.1 521.0 2268.0" stroke="#d47cbc" stroke-width="3.2" fill="none" opacity="0.75"/>
<path d="M497.0 2123.4Q533.4 2193.7 557.0 2262.0" stroke="#d47cbc" stroke-width="3.2" fill="none" opacity="0.75"/>
<path d="M533.0 2124.1Q569.4 2191.1 593.0 2256.0" stroke="#d47cbc" stroke-width="3.2" fill="none" opacity="0.75"/>
<path d="M569.0 2124.9Q605.4 2188.4 629.0 2250.0" stroke="#d47cbc" stroke-width="3.2" fill="none" opacity="0.75"/>
<path d="M605.0 2125.0Q641.4 2185.5 665.0 2244.0" stroke="#d47cbc" stroke-width="3.2" fill="none" opacity="0.75"/>
<path d="M641.0 2125.0Q677.4 2182.5 701.0 2238.0" stroke="#d47cbc" stroke-width="3.2" fill="none" opacity="0.75"/>
<path d="M677.0 2126.3Q713.4 2180.1 737.0 2232.0" stroke="#d47cbc" stroke-width="3.2" fill="none" opacity="0.75"/>
<path d="M375.0 2111.3Q406.2 2186.3 427.0 2290.0" stroke="#b4237c" stroke-width="4.2" fill="none" stroke-linecap="round"/>
<path d="M411.0 2112.8Q442.2 2184.7 463.0 2284.0" stroke="#b4237c" stroke-width="4.2" fill="none" stroke-linecap="round"/>
<path d="M447.0 2114.3Q478.2 2183.0 499.0 2278.0" stroke="#b4237c" stroke-width="4.2" fill="none" stroke-linecap="round"/>
<path d="M483.0 2115.4Q514.2 2181.2 535.0 2272.0" stroke="#b4237c" stroke-width="4.2" fill="none" stroke-linecap="round"/>
<path d="M519.0 2116.1Q550.2 2179.1 571.0 2266.0" stroke="#b4237c" stroke-width="4.2" fill="none" stroke-linecap="round"/>
<path d="M555.0 2116.9Q586.2 2177.0 607.0 2260.0" stroke="#b4237c" stroke-width="4.2" fill="none" stroke-linecap="round"/>
<path d="M591.0 2117.0Q622.2 2174.5 643.0 2254.0" stroke="#b4237c" stroke-width="4.2" fill="none" stroke-linecap="round"/>
<path d="M627.0 2117.0Q658.2 2172.0 679.0 2248.0" stroke="#b4237c" stroke-width="4.2" fill="none" stroke-linecap="round"/>
<path d="M663.0 2118.3Q694.2 2170.2 715.0 2242.0" stroke="#b4237c" stroke-width="4.2" fill="none" stroke-linecap="round"/>
<path d="M392.0 2112.0Q409.8 2078.0 435.7 2048.0M421.5 2113.2Q439.0 2079.8 464.5 2050.3M451.0 2114.4Q468.1 2081.5 493.2 2052.6M480.5 2115.3Q497.2 2082.9 522.0 2054.6M510.0 2115.9Q526.4 2084.1 550.8 2056.2M539.5 2116.5Q555.5 2085.2 579.5 2057.9M569.0 2117.0Q584.7 2086.2 608.3 2059.4M598.5 2117.0Q613.8 2086.8 637.1 2060.5M628.0 2117.0Q642.9 2087.3 665.9 2061.6M657.5 2118.0Q672.1 2088.8 694.6 2063.6M687.0 2119.6Q701.2 2090.9 723.4 2066.3M716.5 2121.2Q730.3 2093.1 752.2 2069.0M746.0 2121.8Q759.5 2094.2 780.9 2070.6M775.5 2122.3Q788.6 2095.2 809.7 2072.2M805.0 2122.8Q817.7 2096.3 838.5 2073.7M834.5 2123.3Q846.9 2097.3 867.3 2075.3M864.0 2121.4Q876.0 2096.0 896.0 2074.5M893.5 2119.5Q905.2 2094.5 924.8 2073.6M923.0 2117.5Q934.3 2093.1 953.6 2072.7M952.5 2115.5Q963.4 2091.6 982.3 2071.8M982.0 2111.9Q992.6 2088.6 1011.1 2069.3M1011.5 2108.2Q1021.7 2085.5 1039.9 2066.7M1041.0 2104.0Q1050.8 2081.7 1068.7 2063.4M1070.5 2098.0Q1080.0 2076.3 1097.4 2058.6M1100.0 2092.1Q1109.1 2070.9 1126.2 2053.7M1129.5 2086.2Q1138.2 2065.5 1155.0 2048.9M1159.0 2080.3Q1167.4 2060.2 1183.8 2044.1" stroke="#b4237c" stroke-width="3.2" fill="none" stroke-linecap="round"/>
<path d="M720.0 2121.3Q739.2 2152.9 764.4 2180.5M749.0 2121.8Q767.4 2152.3 791.7 2178.8M778.0 2122.3Q795.5 2151.7 819.0 2177.0M807.0 2122.8Q823.7 2151.0 846.4 2175.3M836.0 2123.3Q851.8 2150.4 873.7 2173.5M865.0 2121.4Q880.0 2147.4 901.0 2169.4M894.0 2119.4Q908.2 2144.3 928.3 2165.2M923.0 2117.5Q936.3 2141.2 955.6 2161.0M952.0 2115.5Q964.5 2138.2 983.0 2156.8M981.0 2112.0Q992.6 2133.6 1010.3 2151.1M1010.0 2108.4Q1020.8 2128.8 1037.6 2145.2M1039.0 2104.4Q1049.0 2123.6 1064.9 2138.9M1068.0 2098.5Q1077.1 2116.7 1092.2 2130.9M1097.0 2092.7Q1105.3 2109.8 1119.6 2122.8M1126.0 2086.9Q1133.4 2102.8 1146.9 2114.7M1155.0 2081.1Q1161.6 2095.9 1174.2 2106.7" stroke="#b4237c" stroke-width="3.6" fill="none" stroke-linecap="round"/>
<path d="M692.0 2048.0L730.0 2000.0M704.2 2048.5L740.0 2001.5M716.3 2049.1L750.0 2002.9M728.5 2049.6L760.0 2004.4M740.6 2050.2L770.0 2005.8M752.8 2050.7L780.0 2007.3M764.9 2051.2L790.0 2008.8M777.1 2051.8L800.0 2010.2M789.2 2052.3L810.0 2011.7M801.4 2052.8L820.0 2013.2M813.5 2053.4L830.0 2014.6M825.7 2053.9L840.0 2016.1M837.8 2054.5L850.0 2017.5M850.0 2055.0L860.0 2019.0" stroke="#b4237c" stroke-width="3.4" fill="none" stroke-linecap="round"/>
<path d="M730.0 2000.0 L860.0 2019.0" stroke="#a11a66" stroke-width="6" fill="none" stroke-dasharray="3 3.5"/>
<path d="M735.0 2188.0L773.0 2279.0M748.2 2187.2L786.4 2274.9M761.3 2186.3L799.7 2270.8M774.5 2185.5L813.1 2266.7M787.6 2184.6L826.5 2262.6M800.8 2183.8L839.8 2258.5M813.9 2182.9L853.2 2254.4M827.1 2182.1L866.6 2250.3M840.3 2181.3L879.9 2246.2M853.4 2180.4L893.3 2242.1M867.4 2178.9L906.8 2237.9M882.1 2176.8L920.4 2233.7M896.8 2174.7L933.9 2229.5M911.6 2172.6L947.5 2225.3M926.3 2170.5L961.1 2221.1M941.1 2168.4L974.7 2216.8M955.8 2166.3L988.3 2212.6M970.5 2164.2L1001.8 2208.4M985.3 2162.1L1015.4 2204.2M1000.0 2160.0L1029.0 2200.0" stroke="#b4237c" stroke-width="3.4" fill="none" stroke-linecap="round"/>
<path d="M773.0 2279.0 L900.0 2240.0 L1029.0 2200.0" stroke="#a11a66" stroke-width="6" fill="none" stroke-dasharray="3 3.5"/>
<path d="M1145.0 2068.0 L1190.0 1998.0 L1204.0 1996.0 L1240.0 2030.0 L1246.0 2078.0 L1238.0 2129.0 L1226.0 2138.0 L1210.0 2136.0 L1145.0 2090.0Z" fill="#dc8fd0" opacity="0.55"/>
<path d="M1135.0 2066.0Q1190.0 2030.0 1190.0 1998.0M1137.4 2065.9Q1190.0 2029.7 1193.4 1997.5M1139.8 2065.9Q1190.0 2029.4 1196.7 1997.0M1142.2 2065.8Q1190.0 2029.1 1200.1 1996.6M1144.6 2065.7Q1190.0 2028.8 1203.4 1996.1M1147.0 2066.7Q1190.0 2032.9 1211.2 2002.8M1149.4 2067.9Q1190.0 2037.8 1219.8 2011.0M1151.8 2069.2Q1190.0 2042.7 1228.5 2019.1M1154.2 2070.4Q1190.0 2047.6 1237.1 2027.3M1156.6 2072.0Q1190.0 2053.8 1241.0 2037.7M1159.0 2073.7Q1190.0 2060.7 1242.4 2049.2M1161.4 2075.4Q1190.0 2067.6 1243.8 2060.7M1163.8 2077.1Q1190.0 2074.5 1245.3 2072.2M1163.8 2078.9Q1190.0 2081.7 1245.0 2084.1M1161.4 2080.8Q1190.0 2089.0 1243.1 2096.4M1159.0 2082.6Q1190.0 2096.4 1241.2 2108.6M1156.6 2084.4Q1190.0 2103.7 1239.3 2120.8M1154.2 2085.8Q1190.0 2109.0 1237.0 2129.7M1151.8 2086.1Q1190.0 2110.3 1234.2 2131.9M1149.4 2086.4Q1190.0 2111.6 1231.3 2134.0M1147.0 2086.7Q1190.0 2112.9 1228.4 2136.2M1144.6 2087.0Q1190.0 2114.0 1225.4 2137.9M1142.2 2086.9Q1190.0 2113.7 1221.5 2137.4M1139.8 2086.8Q1190.0 2113.4 1217.7 2137.0M1137.4 2086.8Q1190.0 2113.1 1213.8 2136.5M1135.0 2086.7Q1190.0 2112.8 1210.0 2136.0" stroke="#bb3d98" stroke-width="2.6" fill="none" opacity="0.9"/>
<path d="M1190.0 1998.0 L1204.0 1996.0 L1240.0 2030.0 L1246.0 2078.0 L1238.0 2129.0 L1226.0 2138.0 L1210.0 2136.0" stroke="#b53a92" stroke-width="10" fill="none" stroke-dasharray="1.6 1.8" opacity="0.75"/>
<path d="M298.0 2104.0C309.7 2105.2 340.2 2109.2 368.0 2111.0C395.8 2112.8 432.7 2114.0 465.0 2115.0C497.3 2116.0 532.8 2116.7 562.0 2117.0C591.2 2117.3 614.0 2116.3 640.0 2117.0C666.0 2117.7 685.3 2120.2 718.0 2121.3C750.7 2122.4 796.7 2124.3 836.0 2123.3C875.3 2122.3 921.2 2118.4 954.0 2115.4C986.8 2112.4 1006.5 2109.9 1032.8 2105.6C1059.0 2101.3 1088.5 2094.4 1111.5 2089.8C1134.5 2085.2 1158.2 2080.3 1170.5 2078.0C1182.8 2075.7 1182.6 2076.3 1185.0 2076.0" stroke="#b9408a" stroke-width="19" fill="none" stroke-linecap="round" opacity="0.92"/>
<path d="M298.0 2104.0C309.7 2105.2 340.2 2109.2 368.0 2111.0C395.8 2112.8 432.7 2114.0 465.0 2115.0C497.3 2116.0 532.8 2116.7 562.0 2117.0C591.2 2117.3 614.0 2116.3 640.0 2117.0C666.0 2117.7 685.3 2120.2 718.0 2121.3C750.7 2122.4 796.7 2124.3 836.0 2123.3C875.3 2122.3 921.2 2118.4 954.0 2115.4C986.8 2112.4 1006.5 2109.9 1032.8 2105.6C1059.0 2101.3 1088.5 2094.4 1111.5 2089.8C1134.5 2085.2 1158.2 2080.3 1170.5 2078.0C1182.8 2075.7 1182.6 2076.3 1185.0 2076.0" stroke="#92214f" stroke-width="4" fill="none" opacity="0.8"/>
<path d="M316.0 2105.8h0M349.0 2109.1h0M382.0 2111.6h0M415.0 2112.9h0M448.0 2114.3h0M481.0 2115.3h0M514.0 2116.0h0M547.0 2116.7h0M580.0 2117.0h0M613.0 2117.0h0M646.0 2117.3h0M679.0 2119.2h0M712.0 2121.0h0M745.0 2121.8h0M778.0 2122.3h0M811.0 2122.9h0M844.0 2122.8h0M877.0 2120.6h0M910.0 2118.3h0M943.0 2116.1h0M976.0 2112.7h0M1009.0 2108.6h0M1042.0 2103.8h0M1075.0 2097.1h0M1108.0 2090.5h0M1141.0 2083.9h0M1174.0 2077.5h0" stroke="#8a1a4c" stroke-width="11" stroke-linecap="round" fill="none" opacity="0.85"/>
<path d="M248.0 2222.0 L482.0 2316.0 L472.0 2338.0 L452.0 2354.0 L425.0 2366.0 L385.0 2366.0 L340.0 2345.0Z" fill="#dd90c8" opacity="0.35"/>
<path d="M248.0 2222.0L482.0 2316.0M248.0 2222.0L480.3 2319.8M248.0 2222.0L478.6 2323.6M248.0 2222.0L476.8 2327.4M248.0 2222.0L475.1 2331.2M248.0 2222.0L473.4 2335.0M248.0 2222.0L471.3 2338.6M248.0 2222.0L467.9 2341.3M248.0 2222.0L464.4 2344.1M248.0 2222.0L461.0 2346.8M248.0 2222.0L457.5 2349.6M248.0 2222.0L454.1 2352.3M248.0 2222.0L450.1 2354.8M248.0 2222.0L445.5 2356.9M248.0 2222.0L440.8 2359.0M248.0 2222.0L436.2 2361.0M248.0 2222.0L431.5 2363.1M248.0 2222.0L426.9 2365.2M248.0 2222.0L420.9 2366.0M248.0 2222.0L414.0 2366.0M248.0 2222.0L407.1 2366.0M248.0 2222.0L400.2 2366.0M248.0 2222.0L393.3 2366.0M248.0 2222.0L386.4 2366.0M248.0 2222.0L378.8 2363.1M248.0 2222.0L371.0 2359.5M248.0 2222.0L363.3 2355.9M248.0 2222.0L355.5 2352.2M248.0 2222.0L347.8 2348.6M248.0 2222.0L340.0 2345.0" stroke="#b02886" stroke-width="1.5" fill="none" opacity="0.85"/>
<path d="M49.0 2018.0C50.5 2013.5 47.3 2012.3 58.0 2010.0C68.7 2007.7 97.2 2005.2 113.0 2004.0C128.8 2002.8 139.3 2002.2 153.0 2003.0C166.7 2003.8 177.7 2006.8 195.0 2009.0C212.3 2011.2 241.2 2011.7 257.0 2016.0C272.8 2020.3 281.3 2028.3 290.0 2035.0C298.7 2041.7 305.2 2049.7 309.0 2056.0C312.8 2062.3 317.0 2064.3 313.0 2073.0C309.0 2081.7 290.5 2094.3 285.0 2108.0C279.5 2121.7 280.0 2139.3 280.0 2155.0C280.0 2170.7 289.3 2191.7 285.0 2202.0C280.7 2212.3 261.8 2213.0 254.0 2217.0C246.2 2221.0 241.8 2214.7 238.0 2226.0C234.2 2237.3 238.2 2277.2 231.0 2285.0C223.8 2292.8 208.0 2282.8 195.0 2273.0C182.0 2263.2 164.8 2237.8 153.0 2226.0C141.2 2214.2 137.8 2215.8 124.0 2202.0C110.2 2188.2 81.0 2155.5 70.0 2143.0C59.0 2130.5 61.2 2136.8 58.0 2127.0C54.8 2117.2 52.5 2099.0 51.0 2084.0C49.5 2069.0 49.3 2048.0 49.0 2037.0C48.7 2026.0 47.5 2022.5 49.0 2018.0Z" fill="#9a2566" opacity="1"/>
<path d="M160.0 2010.0C170.8 2003.7 210.0 2007.0 230.0 2012.0C250.0 2017.0 270.8 2023.7 280.0 2040.0C289.2 2056.3 285.0 2083.3 285.0 2110.0C285.0 2136.7 285.8 2182.5 280.0 2200.0C274.2 2217.5 266.7 2213.0 250.0 2215.0C233.3 2217.0 198.3 2217.8 180.0 2212.0C161.7 2206.2 150.0 2192.0 140.0 2180.0C130.0 2168.0 118.3 2153.3 120.0 2140.0C121.7 2126.7 142.5 2115.0 150.0 2100.0C157.5 2085.0 163.3 2065.0 165.0 2050.0C166.7 2035.0 149.2 2016.3 160.0 2010.0Z" fill="#861d3e" opacity="0.92" filter="url(#fb4)"/>
<path d="M175.0 2150.0C182.5 2142.5 215.5 2143.3 230.0 2150.0C244.5 2156.7 262.0 2180.8 262.0 2190.0C262.0 2199.2 242.8 2204.2 230.0 2205.0C217.2 2205.8 194.2 2204.2 185.0 2195.0C175.8 2185.8 167.5 2157.5 175.0 2150.0Z" fill="#a0344e" opacity="0.6" filter="url(#fb4)"/>
<path d="M66.0 2050.0C70.2 2039.2 87.7 2039.2 100.0 2040.0C112.3 2040.8 131.7 2045.8 140.0 2055.0C148.3 2064.2 150.0 2084.2 150.0 2095.0C150.0 2105.8 148.3 2115.0 140.0 2120.0C131.7 2125.0 110.8 2127.5 100.0 2125.0C89.2 2122.5 80.7 2117.5 75.0 2105.0C69.3 2092.5 61.8 2060.8 66.0 2050.0Z" fill="#b653b4" opacity="0.85" filter="url(#fb4)"/>
<path d="M114.0 2044.0C118.7 2037.8 141.7 2040.3 150.0 2043.0C158.3 2045.7 162.7 2051.5 164.0 2060.0C165.3 2068.5 162.0 2087.3 158.0 2094.0C154.0 2100.7 146.0 2102.3 140.0 2100.0C134.0 2097.7 126.3 2089.3 122.0 2080.0C117.7 2070.7 109.3 2050.2 114.0 2044.0Z" fill="#fcf6f7" opacity="0.95" filter="url(#fb2)"/>
<path d="M150.0 2215.0C155.0 2210.0 186.3 2214.2 200.0 2225.0C213.7 2235.8 231.2 2269.7 232.0 2280.0C232.8 2290.3 215.3 2291.2 205.0 2287.0C194.7 2282.8 179.2 2267.0 170.0 2255.0C160.8 2243.0 145.0 2220.0 150.0 2215.0Z" fill="#a4327a" opacity="0.8" filter="url(#fb4)"/>
<path d="M60.0 2140.0C63.3 2136.7 85.0 2147.5 100.0 2160.0C115.0 2172.5 146.7 2205.8 150.0 2215.0C153.3 2224.2 131.7 2220.8 120.0 2215.0C108.3 2209.2 90.0 2192.5 80.0 2180.0C70.0 2167.5 56.7 2143.3 60.0 2140.0Z" fill="#b04890" opacity="0.6" filter="url(#fb4)"/>
<path d="M285.0 2108.0C283.8 2116.7 278.2 2143.8 278.0 2160.0C277.8 2176.2 283.0 2197.5 284.0 2205.0" stroke="#5c0f2c" stroke-width="2.2" fill="none" opacity="0.6"/>
<path d="M165.0 2040.0C167.5 2048.3 178.3 2071.7 180.0 2090.0C181.7 2108.3 171.7 2131.7 175.0 2150.0C178.3 2168.3 187.5 2190.0 200.0 2200.0C212.5 2210.0 241.7 2208.3 250.0 2210.0" stroke="#5a1028" stroke-width="1.6" fill="none" opacity="0.5"/>
<path d="M90.0 2140.0C100.0 2145.0 126.7 2163.3 150.0 2170.0C173.3 2176.7 216.7 2178.3 230.0 2180.0" stroke="#6a1434" stroke-width="1.6" fill="none" opacity="0.5"/>
<text x="406.8" y="1677.9" style="font-size:28px" text-anchor="middle">1</text>
<text x="437.8" y="1680.6" style="font-size:28px" text-anchor="middle">2</text>
<text x="470.7" y="1683.7" style="font-size:28px" text-anchor="middle">3</text>
<text x="501.7" y="1687.6" style="font-size:28px" text-anchor="middle">4</text>
<text x="534.7" y="1691.5" style="font-size:28px" text-anchor="middle">5</text>
<text x="397.0" y="1843.8" style="font-size:26px" text-anchor="middle">1</text>
<text x="437.0" y="1843.8" style="font-size:26px" text-anchor="middle">2</text>
<text x="477.3" y="1843.8" style="font-size:26px" text-anchor="middle">3</text>
<text x="517.2" y="1843.8" style="font-size:26px" text-anchor="middle">4</text>
<text x="548.2" y="1843.8" style="font-size:26px" text-anchor="middle">5</text>
<text x="589.0" y="1843.8" style="font-size:26px" text-anchor="middle">6</text>
<text x="621.3" y="1844.4" style="font-size:26px" text-anchor="middle">7</text>
<text x="652.3" y="1844.4" style="font-size:26px" text-anchor="middle">8</text>
<text x="684.5" y="1844.4" style="font-size:26px" text-anchor="middle">9</text>
<text x="718.2" y="1844.4" style="font-size:26px" text-anchor="middle">10</text>
<text x="731.7" y="1730.9" style="font-size:26px" text-anchor="middle">1</text>
<text x="755.0" y="1730.9" style="font-size:26px" text-anchor="middle">2</text>
<text x="786.0" y="1730.9" style="font-size:26px" text-anchor="middle">3</text>
<text x="818.0" y="1729.4" style="font-size:26px" text-anchor="middle">4</text>
<text x="850.0" y="1729.4" style="font-size:26px" text-anchor="middle">5</text>
<text x="882.0" y="1728.2" style="font-size:26px" text-anchor="middle">6</text>
<text x="913.8" y="1728.2" style="font-size:26px" text-anchor="middle">7</text>
<text x="937.9" y="1726.3" style="font-size:26px" text-anchor="middle">8</text>
<text x="962.3" y="1726.3" style="font-size:26px" text-anchor="middle">9</text>
<text x="1111.4" y="1780.4" style="font-size:26px" text-anchor="middle">1</text>
<text x="1132.7" y="1776.6" style="font-size:26px" text-anchor="middle">2</text>
<text x="1153.3" y="1772.8" style="font-size:26px" text-anchor="middle">3</text>
<text x="977.8" y="1722.5" style="font-size:26px" letter-spacing="-1.8">1011121314</text>
<text x="401.0" y="2032.1" style="font-size:28px" text-anchor="middle">1</text>
<text x="432.0" y="2032.9" style="font-size:28px" text-anchor="middle">2</text>
<text x="465.0" y="2035.1" style="font-size:28px" text-anchor="middle">3</text>
<text x="496.7" y="2036.7" style="font-size:28px" text-anchor="middle">4</text>
<text x="401.0" y="2213.4" style="font-size:26px" text-anchor="middle">1</text>
<text x="441.0" y="2213.4" style="font-size:26px" text-anchor="middle">2</text>
<text x="472.7" y="2213.4" style="font-size:26px" text-anchor="middle">3</text>
<text x="512.2" y="2211.4" style="font-size:26px" text-anchor="middle">4</text>
<text x="552.0" y="2210.4" style="font-size:26px" text-anchor="middle">5</text>
<text x="590.9" y="2209.4" style="font-size:26px" text-anchor="middle">6</text>
<text x="623.7" y="2207.4" style="font-size:26px" text-anchor="middle">7</text>
<text x="656.3" y="2207.4" style="font-size:26px" text-anchor="middle">8</text>
<text x="695.6" y="2205.4" style="font-size:26px" text-anchor="middle">9</text>
<text x="692.5" y="2079.4" style="font-size:26px" text-anchor="middle">1</text>
<text x="724.0" y="2077.4" style="font-size:26px" text-anchor="middle">2</text>
<text x="756.6" y="2075.4" style="font-size:26px" text-anchor="middle">3</text>
<text x="788.0" y="2073.4" style="font-size:26px" text-anchor="middle">4</text>
<text x="820.3" y="2072.4" style="font-size:26px" text-anchor="middle">5</text>
<text x="851.8" y="2070.9" style="font-size:26px" text-anchor="middle">6</text>
<text x="882.5" y="2069.7" style="font-size:26px" text-anchor="middle">7</text>
<text x="914.8" y="2068.4" style="font-size:26px" text-anchor="middle">8</text>
<text x="947.4" y="2067.0" style="font-size:26px" text-anchor="middle">9</text>
<text x="1118.6" y="2132.7" style="font-size:26px" text-anchor="middle">1</text>
<text x="1139.8" y="2129.9" style="font-size:26px" text-anchor="middle">2</text>
<text x="1160.7" y="2126.0" style="font-size:26px" text-anchor="middle">3</text>
<text x="962.0" y="2065.1" style="font-size:26px" letter-spacing="-1.8">1011121314</text>
<text x="342.0" y="1725.0" style="font-size:27px" text-anchor="middle" fill="#fff" transform="rotate(10 342 1725)">1234</text>
<text x="343.0" y="2095.0" style="font-size:27px" text-anchor="middle" fill="#fff" transform="rotate(10 343 2095)">1234</text>
<text x="72.0" y="1640.0" style="font-size:31px;font-style:italic">wt</text>
<text x="51.0" y="1977.4" style="font-size:31px;font-style:italic">MZ lof1</text>
<path d="M528.9 2002.6L561.8 2020L528.9 2035.5Z" fill="#000"/>
<path d="M712 2194L739.7 2209.9L718 2225.6Z" fill="#000"/>
<line x1="728.0" y1="2214.0" x2="757.4" y2="2257.0" stroke="#000" stroke-width="3"/>
<line x1="1163.7" y1="1937.7" x2="1169.6" y2="1937.7" stroke="#000" stroke-width="1.6"/>
<line x1="1176.4" y1="2330.6" x2="1184.3" y2="2330.6" stroke="#000" stroke-width="1.6"/>
</svg></body></html>
